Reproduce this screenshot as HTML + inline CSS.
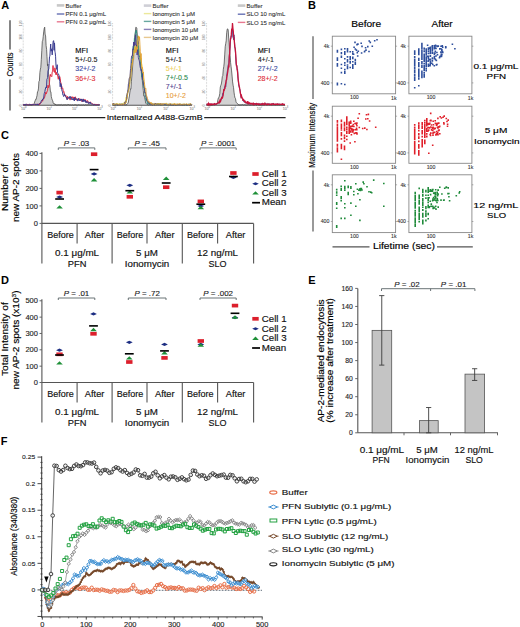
<!DOCTYPE html>
<html><head><meta charset="utf-8"><style>
html,body{margin:0;padding:0;background:#fff;}
body{width:520px;height:627px;overflow:hidden;}
svg{display:block;font-family:"Liberation Sans", sans-serif;}
</style></head><body>
<svg width="520" height="627" viewBox="0 0 520 627">
<rect width="520" height="627" fill="#fff"/>
<text x="1.30" y="9.20" font-size="11" font-weight="bold">A</text>
<line x1="10.00" y1="20.30" x2="10.00" y2="49.50" stroke="#222" stroke-width="1.1" />
<line x1="10.00" y1="79.50" x2="10.00" y2="110.60" stroke="#222" stroke-width="1.1" />
<text x="13.30" y="64.40" font-size="8.8" text-anchor="middle" transform="rotate(-90 13.30 64.40)" textLength="24.00" lengthAdjust="spacingAndGlyphs" stroke="#000" stroke-width="0.158">Counts</text>
<line x1="23.20" y1="117.60" x2="105.30" y2="117.60" stroke="#222" stroke-width="1.1" />
<line x1="204.20" y1="117.60" x2="285.60" y2="117.60" stroke="#222" stroke-width="1.1" />
<text x="154.65" y="120.10" font-size="7.6" text-anchor="middle" textLength="96.00" lengthAdjust="spacingAndGlyphs" stroke="#000" stroke-width="0.137">Internalized A488-GzmB</text>
<line x1="23.20" y1="105.20" x2="99.50" y2="105.20" stroke="#777" stroke-width="0.7" />
<line x1="23.20" y1="23.30" x2="23.20" y2="105.20" stroke="#999" stroke-width="0.6" stroke-dasharray="0.6 0.9"/>
<text x="21.90" y="105.20" font-size="3.4" text-anchor="middle" fill="#999" transform="rotate(-90 21.90 105.20)" stroke="#999" stroke-width="0.061">0</text>
<line x1="22.40" y1="105.20" x2="23.20" y2="105.20" stroke="#aaa" stroke-width="0.4" />
<text x="21.90" y="91.55" font-size="3.4" text-anchor="middle" fill="#999" transform="rotate(-90 21.90 91.55)" stroke="#999" stroke-width="0.061">20</text>
<line x1="22.40" y1="91.55" x2="23.20" y2="91.55" stroke="#aaa" stroke-width="0.4" />
<text x="21.90" y="77.90" font-size="3.4" text-anchor="middle" fill="#999" transform="rotate(-90 21.90 77.90)" stroke="#999" stroke-width="0.061">40</text>
<line x1="22.40" y1="77.90" x2="23.20" y2="77.90" stroke="#aaa" stroke-width="0.4" />
<text x="21.90" y="64.25" font-size="3.4" text-anchor="middle" fill="#999" transform="rotate(-90 21.90 64.25)" stroke="#999" stroke-width="0.061">60</text>
<line x1="22.40" y1="64.25" x2="23.20" y2="64.25" stroke="#aaa" stroke-width="0.4" />
<text x="21.90" y="50.60" font-size="3.4" text-anchor="middle" fill="#999" transform="rotate(-90 21.90 50.60)" stroke="#999" stroke-width="0.061">80</text>
<line x1="22.40" y1="50.60" x2="23.20" y2="50.60" stroke="#aaa" stroke-width="0.4" />
<text x="21.90" y="36.95" font-size="3.4" text-anchor="middle" fill="#999" transform="rotate(-90 21.90 36.95)" stroke="#999" stroke-width="0.061">100</text>
<line x1="22.40" y1="36.95" x2="23.20" y2="36.95" stroke="#aaa" stroke-width="0.4" />
<text x="21.90" y="23.30" font-size="3.4" text-anchor="middle" fill="#999" transform="rotate(-90 21.90 23.30)" stroke="#999" stroke-width="0.061">120</text>
<line x1="22.40" y1="23.30" x2="23.20" y2="23.30" stroke="#aaa" stroke-width="0.4" />
<text x="23.80" y="109.80" font-size="3.6" text-anchor="middle" fill="#888" stroke="#888" stroke-width="0.065">10<tspan font-size="2.6" dy="-1.4">0</tspan></text>
<line x1="23.20" y1="105.20" x2="23.20" y2="106.00" stroke="#aaa" stroke-width="0.4" />
<text x="49.23" y="109.80" font-size="3.6" text-anchor="middle" fill="#888" stroke="#888" stroke-width="0.065">10<tspan font-size="2.6" dy="-1.4">1</tspan></text>
<line x1="48.63" y1="105.20" x2="48.63" y2="106.00" stroke="#aaa" stroke-width="0.4" />
<text x="74.67" y="109.80" font-size="3.6" text-anchor="middle" fill="#888" stroke="#888" stroke-width="0.065">10<tspan font-size="2.6" dy="-1.4">2</tspan></text>
<line x1="74.07" y1="105.20" x2="74.07" y2="106.00" stroke="#aaa" stroke-width="0.4" />
<text x="100.10" y="109.80" font-size="3.6" text-anchor="middle" fill="#888" stroke="#888" stroke-width="0.065">10<tspan font-size="2.6" dy="-1.4">3</tspan></text>
<line x1="99.50" y1="105.20" x2="99.50" y2="106.00" stroke="#aaa" stroke-width="0.4" />
<path d="M23.2,104.9 L23.7,104.7 L24.2,105.0 L24.6,104.8 L25.1,104.9 L25.6,104.9 L26.1,104.6 L26.5,104.9 L27.0,104.9 L27.5,104.8 L28.0,104.7 L28.4,104.9 L28.9,104.8 L29.4,105.0 L29.9,105.0 L30.4,105.0 L30.8,105.1 L31.3,105.1 L31.8,105.1 L32.3,104.9 L32.7,104.6 L33.2,104.4 L33.7,104.1 L34.2,103.7 L34.6,102.1 L35.1,100.8 L35.6,99.4 L36.1,99.5 L36.6,97.2 L37.0,95.7 L37.5,91.7 L38.0,91.4 L38.5,88.1 L38.9,81.3 L39.4,80.9 L39.9,72.4 L40.4,69.1 L40.8,67.3 L41.3,59.5 L41.8,50.4 L42.3,41.5 L42.8,40.2 L43.2,36.7 L43.7,31.9 L44.2,28.6 L44.7,27.2 L45.1,34.1 L45.6,35.9 L46.1,45.6 L46.6,49.5 L47.0,56.6 L47.5,65.6 L48.0,64.3 L48.5,74.7 L49.0,77.4 L49.4,83.7 L49.9,85.9 L50.4,91.7 L50.9,91.8 L51.3,96.5 L51.8,98.6 L52.3,100.1 L52.8,100.9 L53.2,103.1 L53.7,103.7 L54.2,103.8 L54.7,103.7 L55.2,105.0 L55.6,104.4 L56.1,104.7 L56.6,104.9 L57.1,104.8 L57.5,104.9 L58.0,104.5 L58.5,104.8 L59.0,104.8 L59.4,104.8 L59.9,104.8 L60.4,104.8 L60.9,104.9 L61.3,104.5 L61.8,105.1 L62.3,105.2 L62.8,104.8 L63.3,104.8 L63.7,104.8 L64.2,104.8 L64.7,104.8 L65.2,104.8 L65.6,104.7 L66.1,104.9 L66.6,104.9 L67.1,104.5 L67.5,104.7 L68.0,105.0 L68.5,104.5 L69.0,104.7 L69.5,104.9 L69.9,105.0 L70.4,104.8 L70.9,105.0 L71.4,105.0 L71.8,105.0 L72.3,104.9 L72.8,104.7 L73.3,104.9 L73.7,105.1 L74.2,104.7 L74.7,104.8 L75.2,104.7 L75.7,104.7 L76.1,104.9 L76.6,104.9 L77.1,104.9 L77.6,105.0 L78.0,104.8 L78.5,104.7 L79.0,104.8 L79.5,104.9 L79.9,104.9 L80.4,105.0 L80.9,105.0 L81.4,104.9 L81.9,105.0 L82.3,104.9 L82.8,105.1 L83.3,104.8 L83.8,104.9 L84.2,105.0 L84.7,105.2 L85.2,104.9 L85.7,104.7 L86.1,105.0 L86.6,104.9 L87.1,105.0 L87.6,104.8 L88.1,105.0 L88.5,104.7 L89.0,104.9 L89.5,104.8 L90.0,104.9 L90.4,104.9 L90.9,105.1 L91.4,105.0 L91.9,104.9 L92.3,104.8 L92.8,104.9 L93.3,105.0 L93.8,104.8 L94.3,104.8 L94.7,104.9 L95.2,105.0 L95.7,104.9 L96.2,104.8 L96.6,104.8 L97.1,105.0 L97.6,104.8 L98.1,105.0 L98.5,105.0 L99.0,104.7 L99.5,104.8 L99.5,105.2 L23.2,105.2 Z" fill="#d2d2d2" stroke="#3a3a3a" stroke-width="0.7" />
<path d="M23.2,104.5 L23.6,105.1 L24.0,104.8 L24.3,104.6 L24.7,104.2 L25.1,104.6 L25.5,105.0 L25.9,104.5 L26.3,104.9 L26.6,104.3 L27.0,104.7 L27.4,104.1 L27.8,104.6 L28.2,104.9 L28.5,105.0 L28.9,104.7 L29.3,104.5 L29.7,104.3 L30.1,104.5 L30.4,104.8 L30.8,104.5 L31.2,105.0 L31.6,104.5 L32.0,104.8 L32.4,104.2 L32.7,104.3 L33.1,104.5 L33.5,104.9 L33.9,104.5 L34.3,104.5 L34.6,104.7 L35.0,104.8 L35.4,104.3 L35.8,104.7 L36.2,104.5 L36.6,104.2 L36.9,105.0 L37.3,104.1 L37.7,104.3 L38.1,104.8 L38.5,104.7 L38.8,104.7 L39.2,103.7 L39.6,104.9 L40.0,103.3 L40.4,103.3 L40.7,103.3 L41.1,102.8 L41.5,102.2 L41.9,101.5 L42.3,100.2 L42.7,101.1 L43.0,99.3 L43.4,98.8 L43.8,99.1 L44.2,97.4 L44.6,97.6 L44.9,96.0 L45.3,94.7 L45.7,92.4 L46.1,94.1 L46.5,93.4 L46.9,91.9 L47.2,90.9 L47.6,90.7 L48.0,85.2 L48.4,87.8 L48.8,87.0 L49.1,86.0 L49.5,82.1 L49.9,76.4 L50.3,74.3 L50.7,76.3 L51.0,76.5 L51.4,76.2 L51.8,76.7 L52.2,71.7 L52.6,71.6 L53.0,65.5 L53.3,69.1 L53.7,69.9 L54.1,72.0 L54.5,72.4 L54.9,67.8 L55.2,68.9 L55.6,72.9 L56.0,74.8 L56.4,72.3 L56.8,74.5 L57.2,73.9 L57.5,74.8 L57.9,76.9 L58.3,79.3 L58.7,76.4 L59.1,77.1 L59.4,77.3 L59.8,76.8 L60.2,78.3 L60.6,82.5 L61.0,82.6 L61.3,88.8 L61.7,86.1 L62.1,88.5 L62.5,87.9 L62.9,88.7 L63.3,92.2 L63.6,92.2 L64.0,91.7 L64.4,94.7 L64.8,94.8 L65.2,96.0 L65.5,94.9 L65.9,95.5 L66.3,97.1 L66.7,98.1 L67.1,99.2 L67.5,96.4 L67.8,98.0 L68.2,98.3 L68.6,98.2 L69.0,98.6 L69.4,97.1 L69.7,97.3 L70.1,100.1 L70.5,98.0 L70.9,98.0 L71.3,98.4 L71.7,98.1 L72.0,96.6 L72.4,97.9 L72.8,97.2 L73.2,97.4 L73.6,99.8 L73.9,96.9 L74.3,98.4 L74.7,98.9 L75.1,98.0 L75.5,96.8 L75.8,99.6 L76.2,99.5 L76.6,98.7 L77.0,100.6 L77.4,100.1 L77.8,99.1 L78.1,98.6 L78.5,98.8 L78.9,98.6 L79.3,98.5 L79.7,99.9 L80.0,99.9 L80.4,99.9 L80.8,100.0 L81.2,98.9 L81.6,99.3 L82.0,101.7 L82.3,99.8 L82.7,101.1 L83.1,101.2 L83.5,99.4 L83.9,99.5 L84.2,99.7 L84.6,100.1 L85.0,99.3 L85.4,101.6 L85.8,100.3 L86.1,101.5 L86.5,101.7 L86.9,102.5 L87.3,100.6 L87.7,100.6 L88.1,101.4 L88.4,102.5 L88.8,102.2 L89.2,103.1 L89.6,102.7 L90.0,101.8 L90.3,101.9 L90.7,102.6 L91.1,102.7 L91.5,103.3 L91.9,103.3 L92.3,103.7 L92.6,103.7 L93.0,104.3 L93.4,103.9 L93.8,104.4 L94.2,104.3 L94.5,104.5 L94.9,104.0 L95.3,104.2 L95.7,104.8 L96.1,104.8 L96.4,104.4 L96.8,104.6 L97.2,104.7 L97.6,104.6 L98.0,104.3 L98.4,104.8 L98.7,104.5 L99.1,104.9 L99.5,104.8" fill="none" stroke="#e02a40" stroke-width="1.0" />
<path d="M23.2,104.9 L23.6,104.9 L24.0,104.4 L24.3,105.2 L24.7,104.6 L25.1,105.2 L25.5,104.3 L25.9,104.5 L26.3,104.2 L26.6,104.7 L27.0,104.5 L27.4,104.7 L27.8,104.8 L28.2,104.6 L28.5,104.9 L28.9,104.7 L29.3,104.4 L29.7,104.6 L30.1,104.7 L30.4,104.0 L30.8,104.6 L31.2,104.8 L31.6,104.6 L32.0,104.7 L32.4,104.7 L32.7,104.7 L33.1,104.1 L33.5,104.6 L33.9,104.6 L34.3,104.4 L34.6,104.1 L35.0,104.7 L35.4,104.8 L35.8,103.9 L36.2,105.0 L36.6,104.7 L36.9,104.4 L37.3,104.0 L37.7,104.9 L38.1,105.2 L38.5,104.2 L38.8,104.4 L39.2,104.2 L39.6,103.6 L40.0,103.6 L40.4,103.2 L40.7,103.0 L41.1,101.3 L41.5,100.4 L41.9,100.7 L42.3,100.4 L42.7,98.9 L43.0,98.7 L43.4,99.0 L43.8,97.0 L44.2,93.6 L44.6,93.0 L44.9,91.4 L45.3,89.0 L45.7,88.0 L46.1,86.9 L46.5,87.9 L46.9,79.3 L47.2,78.8 L47.6,77.7 L48.0,71.1 L48.4,70.0 L48.8,68.9 L49.1,63.7 L49.5,56.8 L49.9,56.1 L50.3,49.1 L50.7,44.0 L51.0,51.2 L51.4,51.0 L51.8,48.8 L52.2,54.9 L52.6,49.2 L53.0,42.5 L53.3,40.8 L53.7,40.7 L54.1,50.3 L54.5,42.9 L54.9,51.1 L55.2,52.7 L55.6,56.8 L56.0,65.8 L56.4,68.2 L56.8,69.4 L57.2,64.7 L57.5,72.8 L57.9,73.4 L58.3,74.5 L58.7,74.3 L59.1,76.0 L59.4,77.6 L59.8,81.6 L60.2,86.8 L60.6,83.3 L61.0,84.7 L61.3,84.6 L61.7,88.7 L62.1,91.5 L62.5,91.7 L62.9,95.0 L63.3,95.5 L63.6,96.5 L64.0,95.5 L64.4,93.8 L64.8,95.6 L65.2,95.5 L65.5,96.7 L65.9,96.9 L66.3,97.7 L66.7,97.6 L67.1,99.8 L67.5,98.7 L67.8,98.9 L68.2,97.0 L68.6,97.3 L69.0,96.9 L69.4,96.6 L69.7,98.4 L70.1,97.2 L70.5,96.5 L70.9,98.3 L71.3,97.4 L71.7,98.6 L72.0,100.0 L72.4,98.6 L72.8,99.5 L73.2,98.8 L73.6,99.4 L73.9,98.8 L74.3,101.0 L74.7,97.4 L75.1,98.0 L75.5,99.5 L75.8,100.0 L76.2,99.3 L76.6,98.8 L77.0,99.0 L77.4,99.1 L77.8,101.1 L78.1,100.5 L78.5,98.5 L78.9,99.4 L79.3,100.9 L79.7,100.4 L80.0,100.9 L80.4,100.6 L80.8,98.9 L81.2,100.2 L81.6,99.2 L82.0,100.1 L82.3,101.6 L82.7,101.0 L83.1,98.9 L83.5,101.4 L83.9,101.7 L84.2,100.1 L84.6,101.1 L85.0,101.2 L85.4,100.3 L85.8,102.6 L86.1,101.3 L86.5,102.4 L86.9,102.8 L87.3,102.6 L87.7,101.6 L88.1,102.6 L88.4,103.7 L88.8,103.4 L89.2,102.2 L89.6,102.6 L90.0,103.7 L90.3,102.1 L90.7,103.6 L91.1,104.2 L91.5,103.9 L91.9,103.8 L92.3,103.8 L92.6,104.2 L93.0,104.7 L93.4,104.8 L93.8,105.0 L94.2,104.6 L94.5,104.8 L94.9,104.6 L95.3,105.0 L95.7,104.8 L96.1,104.9 L96.4,105.0 L96.8,105.0 L97.2,105.0 L97.6,105.0 L98.0,104.6 L98.4,104.8 L98.7,105.1 L99.1,104.7 L99.5,104.7" fill="none" stroke="#3a3c90" stroke-width="1.0" />
<rect x="56.80" y="4.10" width="7.50" height="2.60" fill="#c8c8c8" stroke="none" stroke-width="1" />
<text x="65.60" y="7.50" font-size="5.3" fill="#333" textLength="15.87" lengthAdjust="spacingAndGlyphs" stroke="#333" stroke-width="0.095">Buffer</text>
<line x1="56.80" y1="14.00" x2="64.30" y2="14.00" stroke="#6670b4" stroke-width="1.4" />
<text x="65.60" y="16.10" font-size="5.3" fill="#333" textLength="40.39" lengthAdjust="spacingAndGlyphs" stroke="#333" stroke-width="0.095">PFN 0.1 μg/mL</text>
<line x1="56.80" y1="21.80" x2="64.30" y2="21.80" stroke="#e87890" stroke-width="1.4" />
<text x="65.60" y="23.90" font-size="5.3" fill="#333" textLength="40.39" lengthAdjust="spacingAndGlyphs" stroke="#333" stroke-width="0.095">PFN 0.2 μg/mL</text>
<text x="75.30" y="52.60" font-size="6.8" textLength="12.64" lengthAdjust="spacingAndGlyphs" stroke="#000" stroke-width="0.122">MFI</text>
<text x="75.30" y="62.00" font-size="6.5" fill="#222" textLength="22.05" lengthAdjust="spacingAndGlyphs" stroke="#222" stroke-width="0.117">5+/-0.5</text>
<text x="75.30" y="71.40" font-size="6.5" fill="#3a4aa0" textLength="20.10" lengthAdjust="spacingAndGlyphs" stroke="#3a4aa0" stroke-width="0.117">32+/-2</text>
<text x="75.30" y="80.80" font-size="6.5" fill="#e0303a" textLength="20.10" lengthAdjust="spacingAndGlyphs" stroke="#e0303a" stroke-width="0.117">36+/-3</text>
<line x1="112.60" y1="105.20" x2="191.70" y2="105.20" stroke="#777" stroke-width="0.7" />
<line x1="112.60" y1="23.50" x2="112.60" y2="105.20" stroke="#999" stroke-width="0.6" stroke-dasharray="0.6 0.9"/>
<text x="111.30" y="105.20" font-size="3.4" text-anchor="middle" fill="#999" transform="rotate(-90 111.30 105.20)" stroke="#999" stroke-width="0.061">0</text>
<line x1="111.80" y1="105.20" x2="112.60" y2="105.20" stroke="#aaa" stroke-width="0.4" />
<text x="111.30" y="91.58" font-size="3.4" text-anchor="middle" fill="#999" transform="rotate(-90 111.30 91.58)" stroke="#999" stroke-width="0.061">20</text>
<line x1="111.80" y1="91.58" x2="112.60" y2="91.58" stroke="#aaa" stroke-width="0.4" />
<text x="111.30" y="77.97" font-size="3.4" text-anchor="middle" fill="#999" transform="rotate(-90 111.30 77.97)" stroke="#999" stroke-width="0.061">40</text>
<line x1="111.80" y1="77.97" x2="112.60" y2="77.97" stroke="#aaa" stroke-width="0.4" />
<text x="111.30" y="64.35" font-size="3.4" text-anchor="middle" fill="#999" transform="rotate(-90 111.30 64.35)" stroke="#999" stroke-width="0.061">60</text>
<line x1="111.80" y1="64.35" x2="112.60" y2="64.35" stroke="#aaa" stroke-width="0.4" />
<text x="111.30" y="50.73" font-size="3.4" text-anchor="middle" fill="#999" transform="rotate(-90 111.30 50.73)" stroke="#999" stroke-width="0.061">80</text>
<line x1="111.80" y1="50.73" x2="112.60" y2="50.73" stroke="#aaa" stroke-width="0.4" />
<text x="111.30" y="37.12" font-size="3.4" text-anchor="middle" fill="#999" transform="rotate(-90 111.30 37.12)" stroke="#999" stroke-width="0.061">100</text>
<line x1="111.80" y1="37.12" x2="112.60" y2="37.12" stroke="#aaa" stroke-width="0.4" />
<text x="111.30" y="23.50" font-size="3.4" text-anchor="middle" fill="#999" transform="rotate(-90 111.30 23.50)" stroke="#999" stroke-width="0.061">120</text>
<line x1="111.80" y1="23.50" x2="112.60" y2="23.50" stroke="#aaa" stroke-width="0.4" />
<text x="113.20" y="109.80" font-size="3.6" text-anchor="middle" fill="#888" stroke="#888" stroke-width="0.065">10<tspan font-size="2.6" dy="-1.4">0</tspan></text>
<line x1="112.60" y1="105.20" x2="112.60" y2="106.00" stroke="#aaa" stroke-width="0.4" />
<text x="139.57" y="109.80" font-size="3.6" text-anchor="middle" fill="#888" stroke="#888" stroke-width="0.065">10<tspan font-size="2.6" dy="-1.4">1</tspan></text>
<line x1="138.97" y1="105.20" x2="138.97" y2="106.00" stroke="#aaa" stroke-width="0.4" />
<text x="165.93" y="109.80" font-size="3.6" text-anchor="middle" fill="#888" stroke="#888" stroke-width="0.065">10<tspan font-size="2.6" dy="-1.4">2</tspan></text>
<line x1="165.33" y1="105.20" x2="165.33" y2="106.00" stroke="#aaa" stroke-width="0.4" />
<text x="192.30" y="109.80" font-size="3.6" text-anchor="middle" fill="#888" stroke="#888" stroke-width="0.065">10<tspan font-size="2.6" dy="-1.4">3</tspan></text>
<line x1="191.70" y1="105.20" x2="191.70" y2="106.00" stroke="#aaa" stroke-width="0.4" />
<path d="M112.6,104.9 L113.1,104.7 L113.6,105.0 L114.1,105.1 L114.6,104.9 L115.1,104.8 L115.6,104.8 L116.1,104.8 L116.6,104.9 L117.0,105.0 L117.5,105.0 L118.0,104.9 L118.5,104.9 L119.0,104.8 L119.5,104.8 L120.0,105.1 L120.5,104.8 L121.0,104.9 L121.5,104.7 L122.0,104.7 L122.5,104.8 L123.0,105.1 L123.5,104.8 L124.0,105.1 L124.5,104.7 L125.0,105.0 L125.5,104.9 L125.9,104.6 L126.4,104.9 L126.9,104.1 L127.4,103.9 L127.9,103.4 L128.4,102.0 L128.9,98.5 L129.4,96.0 L129.9,92.1 L130.4,88.9 L130.9,89.2 L131.4,81.5 L131.9,75.9 L132.4,70.0 L132.9,62.2 L133.4,55.1 L133.9,47.8 L134.4,43.5 L134.8,35.9 L135.3,32.7 L135.8,27.3 L136.3,27.4 L136.8,28.2 L137.3,36.0 L137.8,38.6 L138.3,40.7 L138.8,46.7 L139.3,54.1 L139.8,57.7 L140.3,61.6 L140.8,66.1 L141.3,71.7 L141.8,77.8 L142.3,80.4 L142.8,85.8 L143.3,90.5 L143.7,95.8 L144.2,95.4 L144.7,97.8 L145.2,100.0 L145.7,103.2 L146.2,103.4 L146.7,103.9 L147.2,104.6 L147.7,104.4 L148.2,104.6 L148.7,105.0 L149.2,104.7 L149.7,104.5 L150.2,105.0 L150.7,104.6 L151.2,104.5 L151.7,104.5 L152.1,105.0 L152.6,105.0 L153.1,104.8 L153.6,104.6 L154.1,105.0 L154.6,104.9 L155.1,105.0 L155.6,104.6 L156.1,104.9 L156.6,104.7 L157.1,104.7 L157.6,104.6 L158.1,104.7 L158.6,104.7 L159.1,104.6 L159.6,104.7 L160.1,105.0 L160.6,104.9 L161.0,104.7 L161.5,104.8 L162.0,104.9 L162.5,104.8 L163.0,104.3 L163.5,104.8 L164.0,104.7 L164.5,104.7 L165.0,104.9 L165.5,104.6 L166.0,104.7 L166.5,104.8 L167.0,105.0 L167.5,104.6 L168.0,104.7 L168.5,104.8 L169.0,105.2 L169.5,104.8 L169.9,105.0 L170.4,104.9 L170.9,104.9 L171.4,105.0 L171.9,104.7 L172.4,104.8 L172.9,104.7 L173.4,105.0 L173.9,104.9 L174.4,104.6 L174.9,104.8 L175.4,105.0 L175.9,105.0 L176.4,104.9 L176.9,104.9 L177.4,104.8 L177.9,104.8 L178.4,104.7 L178.8,104.7 L179.3,104.8 L179.8,104.7 L180.3,104.8 L180.8,104.9 L181.3,104.9 L181.8,104.9 L182.3,105.0 L182.8,105.1 L183.3,104.9 L183.8,104.9 L184.3,104.8 L184.8,105.0 L185.3,104.9 L185.8,104.8 L186.3,104.9 L186.8,104.9 L187.3,105.0 L187.7,104.9 L188.2,104.8 L188.7,104.8 L189.2,104.9 L189.7,105.0 L190.2,104.8 L190.7,104.6 L191.2,105.2 L191.7,104.7 L191.7,105.2 L112.6,105.2 Z" fill="#d4d4d8" stroke="#3a3a3a" stroke-width="0.7" />
<path d="M112.6,103.8 L113.0,104.5 L113.4,104.1 L113.8,104.9 L114.2,104.2 L114.6,103.7 L115.0,103.6 L115.4,104.6 L115.8,104.3 L116.2,104.2 L116.6,105.1 L117.0,103.5 L117.3,103.8 L117.7,103.9 L118.1,103.7 L118.5,104.2 L118.9,104.0 L119.3,103.7 L119.7,103.8 L120.1,104.2 L120.5,104.5 L120.9,103.8 L121.3,103.9 L121.7,104.4 L122.1,103.6 L122.5,103.8 L122.9,103.8 L123.3,103.8 L123.7,103.2 L124.1,102.3 L124.5,102.8 L124.9,101.4 L125.3,101.4 L125.7,100.0 L126.0,97.4 L126.4,96.7 L126.8,94.7 L127.2,94.2 L127.6,92.1 L128.0,90.9 L128.4,89.8 L128.8,87.2 L129.2,81.3 L129.6,77.3 L130.0,77.4 L130.4,73.8 L130.8,68.4 L131.2,65.8 L131.6,67.4 L132.0,62.3 L132.4,54.7 L132.8,49.5 L133.2,50.4 L133.6,54.8 L134.0,46.9 L134.4,48.9 L134.7,48.0 L135.1,44.9 L135.5,47.7 L135.9,46.9 L136.3,52.3 L136.7,40.6 L137.1,42.8 L137.5,44.4 L137.9,44.4 L138.3,46.6 L138.7,49.6 L139.1,51.4 L139.5,52.4 L139.9,60.5 L140.3,61.3 L140.7,60.6 L141.1,58.3 L141.5,62.7 L141.9,65.3 L142.3,68.9 L142.7,73.8 L143.1,74.8 L143.4,78.0 L143.8,82.4 L144.2,85.6 L144.6,88.4 L145.0,91.9 L145.4,93.6 L145.8,94.4 L146.2,96.8 L146.6,98.7 L147.0,99.3 L147.4,100.5 L147.8,101.3 L148.2,102.4 L148.6,103.3 L149.0,102.9 L149.4,102.9 L149.8,103.0 L150.2,103.0 L150.6,103.6 L151.0,103.2 L151.4,103.4 L151.8,103.3 L152.1,103.8 L152.5,103.2 L152.9,103.3 L153.3,104.2 L153.7,103.9 L154.1,103.9 L154.5,103.8 L154.9,103.5 L155.3,104.6 L155.7,103.6 L156.1,103.7 L156.5,104.2 L156.9,104.2 L157.3,103.8 L157.7,104.1 L158.1,104.2 L158.5,104.2 L158.9,103.3 L159.3,104.7 L159.7,103.3 L160.1,104.6 L160.5,103.6 L160.9,104.2 L161.2,104.0 L161.6,104.3 L162.0,104.2 L162.4,103.6 L162.8,104.4 L163.2,104.9 L163.6,104.2 L164.0,105.0 L164.4,104.4 L164.8,104.1 L165.2,104.3 L165.6,104.3 L166.0,103.4 L166.4,103.3 L166.8,103.5 L167.2,103.5 L167.6,104.0 L168.0,104.4 L168.4,104.4 L168.8,104.5 L169.2,104.4 L169.6,104.3 L169.9,103.9 L170.3,103.7 L170.7,104.0 L171.1,103.9 L171.5,104.4 L171.9,104.0 L172.3,104.5 L172.7,104.2 L173.1,103.6 L173.5,104.1 L173.9,104.3 L174.3,104.0 L174.7,104.4 L175.1,104.2 L175.5,104.5 L175.9,103.9 L176.3,104.3 L176.7,104.2 L177.1,104.1 L177.5,104.2 L177.9,104.2 L178.3,104.2 L178.6,104.3 L179.0,104.1 L179.4,104.1 L179.8,103.9 L180.2,103.9 L180.6,103.8 L181.0,104.3 L181.4,104.4 L181.8,104.2 L182.2,104.3 L182.6,103.9 L183.0,104.3 L183.4,104.0 L183.8,104.6 L184.2,104.1 L184.6,104.4 L185.0,104.6 L185.4,104.8 L185.8,104.7 L186.2,104.5 L186.6,103.8 L187.0,104.0 L187.3,104.2 L187.7,104.5 L188.1,104.2 L188.5,104.7 L188.9,104.9 L189.3,104.7 L189.7,104.4 L190.1,103.6 L190.5,104.9 L190.9,104.7 L191.3,104.7 L191.7,104.7" fill="none" stroke="#e8d040" stroke-width="0.9" />
<path d="M112.6,104.2 L113.0,104.0 L113.4,104.6 L113.8,104.7 L114.2,104.3 L114.6,103.9 L115.0,104.3 L115.4,104.8 L115.8,104.6 L116.2,104.4 L116.6,104.1 L117.0,104.4 L117.3,104.5 L117.7,104.5 L118.1,104.3 L118.5,104.6 L118.9,104.4 L119.3,104.3 L119.7,103.9 L120.1,104.4 L120.5,104.1 L120.9,104.7 L121.3,104.1 L121.7,104.3 L122.1,104.6 L122.5,104.4 L122.9,104.1 L123.3,104.5 L123.7,104.1 L124.1,103.9 L124.5,103.4 L124.9,102.7 L125.3,103.6 L125.7,102.3 L126.0,102.5 L126.4,99.9 L126.8,98.6 L127.2,96.1 L127.6,93.3 L128.0,92.2 L128.4,89.2 L128.8,88.7 L129.2,82.9 L129.6,83.9 L130.0,79.4 L130.4,78.6 L130.8,73.9 L131.2,68.8 L131.6,61.8 L132.0,59.5 L132.4,58.1 L132.8,56.8 L133.2,46.4 L133.6,49.4 L134.0,45.1 L134.4,38.5 L134.7,41.1 L135.1,35.7 L135.5,31.5 L135.9,32.5 L136.3,30.0 L136.7,33.6 L137.1,38.8 L137.5,48.0 L137.9,45.3 L138.3,46.0 L138.7,54.6 L139.1,55.7 L139.5,56.6 L139.9,56.0 L140.3,65.1 L140.7,66.6 L141.1,68.6 L141.5,71.1 L141.9,77.2 L142.3,72.9 L142.7,80.6 L143.1,80.8 L143.4,86.2 L143.8,87.9 L144.2,87.7 L144.6,91.0 L145.0,94.2 L145.4,97.7 L145.8,99.2 L146.2,100.6 L146.6,98.7 L147.0,102.3 L147.4,103.7 L147.8,102.1 L148.2,102.6 L148.6,103.5 L149.0,103.0 L149.4,103.9 L149.8,103.9 L150.2,103.6 L150.6,103.8 L151.0,104.3 L151.4,103.7 L151.8,104.1 L152.1,104.3 L152.5,104.8 L152.9,104.3 L153.3,104.5 L153.7,104.4 L154.1,104.1 L154.5,104.6 L154.9,104.3 L155.3,104.2 L155.7,104.3 L156.1,103.7 L156.5,104.9 L156.9,104.4 L157.3,104.8 L157.7,104.4 L158.1,103.6 L158.5,104.9 L158.9,104.5 L159.3,104.2 L159.7,104.4 L160.1,104.1 L160.5,104.9 L160.9,104.1 L161.2,104.7 L161.6,104.8 L162.0,104.3 L162.4,104.3 L162.8,104.7 L163.2,104.7 L163.6,104.5 L164.0,104.4 L164.4,104.5 L164.8,104.8 L165.2,105.1 L165.6,104.1 L166.0,104.4 L166.4,104.8 L166.8,104.9 L167.2,104.7 L167.6,104.6 L168.0,105.1 L168.4,104.1 L168.8,104.4 L169.2,104.6 L169.6,104.4 L169.9,104.4 L170.3,104.2 L170.7,104.4 L171.1,104.1 L171.5,104.0 L171.9,104.6 L172.3,104.6 L172.7,104.8 L173.1,104.6 L173.5,104.7 L173.9,104.5 L174.3,104.4 L174.7,104.4 L175.1,104.8 L175.5,104.2 L175.9,104.6 L176.3,104.6 L176.7,104.7 L177.1,105.1 L177.5,104.5 L177.9,105.0 L178.3,104.2 L178.6,104.5 L179.0,104.1 L179.4,104.4 L179.8,104.4 L180.2,104.2 L180.6,104.6 L181.0,104.1 L181.4,104.6 L181.8,104.5 L182.2,104.7 L182.6,104.4 L183.0,104.4 L183.4,104.7 L183.8,104.9 L184.2,104.6 L184.6,104.5 L185.0,104.6 L185.4,104.8 L185.8,104.8 L186.2,104.7 L186.6,105.2 L187.0,104.7 L187.3,104.2 L187.7,104.9 L188.1,104.6 L188.5,104.1 L188.9,104.4 L189.3,104.3 L189.7,104.6 L190.1,105.0 L190.5,103.8 L190.9,104.5 L191.3,104.5 L191.7,104.2" fill="none" stroke="#2e8a7e" stroke-width="0.9" />
<path d="M112.6,104.2 L113.0,104.4 L113.4,103.3 L113.8,104.2 L114.2,104.3 L114.6,104.3 L115.0,104.6 L115.4,104.6 L115.8,104.2 L116.2,104.5 L116.6,104.1 L117.0,104.5 L117.3,105.0 L117.7,104.8 L118.1,104.7 L118.5,105.1 L118.9,104.4 L119.3,104.5 L119.7,104.1 L120.1,104.7 L120.5,104.5 L120.9,104.2 L121.3,104.2 L121.7,104.7 L122.1,103.9 L122.5,104.6 L122.9,104.0 L123.3,104.5 L123.7,104.5 L124.1,104.8 L124.5,104.0 L124.9,102.3 L125.3,103.3 L125.7,101.6 L126.0,101.2 L126.4,100.6 L126.8,96.6 L127.2,93.2 L127.6,92.1 L128.0,89.4 L128.4,84.2 L128.8,83.3 L129.2,78.3 L129.6,78.1 L130.0,77.2 L130.4,70.5 L130.8,68.5 L131.2,59.7 L131.6,56.1 L132.0,56.4 L132.4,56.0 L132.8,48.8 L133.2,49.5 L133.6,42.1 L134.0,46.0 L134.4,42.1 L134.7,43.1 L135.1,45.1 L135.5,34.8 L135.9,38.3 L136.3,46.4 L136.7,44.9 L137.1,55.0 L137.5,49.5 L137.9,52.1 L138.3,57.2 L138.7,59.3 L139.1,60.2 L139.5,62.0 L139.9,65.7 L140.3,67.9 L140.7,68.2 L141.1,70.5 L141.5,69.8 L141.9,72.7 L142.3,73.8 L142.7,79.9 L143.1,80.3 L143.4,83.1 L143.8,85.5 L144.2,86.3 L144.6,88.7 L145.0,93.0 L145.4,92.3 L145.8,94.5 L146.2,97.2 L146.6,97.2 L147.0,100.1 L147.4,101.6 L147.8,101.9 L148.2,101.3 L148.6,102.5 L149.0,103.5 L149.4,102.7 L149.8,103.4 L150.2,103.7 L150.6,103.4 L151.0,104.5 L151.4,104.7 L151.8,104.7 L152.1,103.8 L152.5,104.2 L152.9,104.4 L153.3,104.4 L153.7,104.0 L154.1,103.7 L154.5,104.5 L154.9,104.1 L155.3,103.3 L155.7,104.0 L156.1,104.3 L156.5,104.1 L156.9,104.2 L157.3,104.0 L157.7,104.1 L158.1,104.4 L158.5,104.3 L158.9,104.1 L159.3,104.5 L159.7,104.2 L160.1,104.6 L160.5,103.8 L160.9,103.7 L161.2,104.6 L161.6,104.0 L162.0,104.2 L162.4,104.2 L162.8,104.4 L163.2,104.2 L163.6,103.9 L164.0,104.7 L164.4,103.9 L164.8,104.4 L165.2,104.7 L165.6,104.3 L166.0,104.1 L166.4,104.3 L166.8,104.2 L167.2,104.4 L167.6,104.5 L168.0,104.0 L168.4,104.7 L168.8,104.0 L169.2,104.2 L169.6,104.4 L169.9,104.4 L170.3,104.5 L170.7,104.4 L171.1,104.4 L171.5,104.4 L171.9,105.0 L172.3,105.1 L172.7,104.3 L173.1,104.6 L173.5,104.6 L173.9,104.5 L174.3,104.8 L174.7,103.9 L175.1,104.4 L175.5,104.5 L175.9,104.8 L176.3,104.2 L176.7,104.2 L177.1,104.0 L177.5,104.2 L177.9,104.7 L178.3,104.9 L178.6,104.1 L179.0,104.7 L179.4,104.5 L179.8,104.5 L180.2,104.3 L180.6,104.3 L181.0,104.8 L181.4,104.7 L181.8,105.0 L182.2,104.3 L182.6,104.6 L183.0,105.0 L183.4,104.2 L183.8,104.5 L184.2,104.8 L184.6,104.7 L185.0,104.7 L185.4,104.5 L185.8,104.5 L186.2,104.7 L186.6,104.4 L187.0,105.2 L187.3,104.7 L187.7,104.4 L188.1,104.3 L188.5,104.3 L188.9,104.9 L189.3,105.1 L189.7,104.7 L190.1,103.9 L190.5,104.5 L190.9,104.8 L191.3,105.1 L191.7,104.5" fill="none" stroke="#4a3a8a" stroke-width="0.9" />
<path d="M112.6,103.4 L113.0,104.6 L113.4,104.1 L113.8,104.3 L114.2,104.5 L114.6,104.4 L115.0,104.4 L115.4,104.2 L115.8,104.1 L116.2,103.8 L116.6,104.1 L117.0,103.8 L117.3,104.1 L117.7,104.2 L118.1,104.3 L118.5,104.6 L118.9,104.8 L119.3,104.2 L119.7,104.3 L120.1,104.1 L120.5,104.1 L120.9,104.7 L121.3,104.5 L121.7,104.6 L122.1,103.9 L122.5,104.3 L122.9,104.2 L123.3,104.5 L123.7,104.7 L124.1,104.4 L124.5,103.9 L124.9,103.2 L125.3,103.7 L125.7,102.3 L126.0,102.7 L126.4,101.3 L126.8,99.5 L127.2,97.6 L127.6,94.6 L128.0,92.0 L128.4,90.7 L128.8,90.5 L129.2,87.7 L129.6,85.0 L130.0,80.8 L130.4,77.9 L130.8,77.5 L131.2,72.3 L131.6,68.5 L132.0,63.4 L132.4,64.3 L132.8,59.9 L133.2,58.9 L133.6,59.8 L134.0,54.3 L134.4,50.7 L134.7,49.2 L135.1,53.0 L135.5,47.3 L135.9,48.9 L136.3,51.8 L136.7,46.5 L137.1,49.4 L137.5,46.8 L137.9,39.1 L138.3,35.8 L138.7,39.2 L139.1,40.4 L139.5,36.7 L139.9,44.2 L140.3,51.8 L140.7,59.4 L141.1,53.5 L141.5,63.7 L141.9,68.5 L142.3,67.4 L142.7,69.2 L143.1,73.3 L143.4,72.1 L143.8,77.9 L144.2,81.3 L144.6,84.5 L145.0,88.2 L145.4,88.7 L145.8,88.1 L146.2,94.7 L146.6,95.6 L147.0,96.8 L147.4,98.5 L147.8,99.2 L148.2,101.7 L148.6,101.8 L149.0,102.2 L149.4,101.7 L149.8,102.0 L150.2,103.0 L150.6,103.5 L151.0,102.2 L151.4,102.9 L151.8,104.4 L152.1,103.9 L152.5,104.3 L152.9,104.2 L153.3,104.7 L153.7,104.2 L154.1,104.2 L154.5,104.1 L154.9,103.6 L155.3,103.9 L155.7,104.5 L156.1,104.7 L156.5,104.2 L156.9,103.6 L157.3,103.7 L157.7,104.3 L158.1,103.6 L158.5,103.9 L158.9,104.3 L159.3,103.9 L159.7,104.1 L160.1,104.5 L160.5,104.2 L160.9,104.0 L161.2,103.6 L161.6,104.5 L162.0,104.0 L162.4,104.1 L162.8,104.1 L163.2,104.6 L163.6,103.6 L164.0,103.6 L164.4,103.5 L164.8,103.9 L165.2,103.6 L165.6,103.9 L166.0,103.8 L166.4,104.3 L166.8,104.1 L167.2,104.3 L167.6,104.5 L168.0,104.3 L168.4,104.6 L168.8,104.6 L169.2,104.3 L169.6,104.4 L169.9,103.4 L170.3,103.6 L170.7,103.8 L171.1,103.9 L171.5,104.5 L171.9,104.1 L172.3,104.7 L172.7,104.4 L173.1,104.4 L173.5,104.4 L173.9,103.9 L174.3,104.5 L174.7,103.4 L175.1,104.4 L175.5,104.0 L175.9,104.8 L176.3,104.0 L176.7,104.7 L177.1,104.2 L177.5,104.3 L177.9,104.0 L178.3,104.1 L178.6,104.2 L179.0,104.3 L179.4,103.6 L179.8,104.5 L180.2,104.3 L180.6,104.5 L181.0,104.3 L181.4,104.6 L181.8,104.5 L182.2,104.2 L182.6,104.5 L183.0,104.2 L183.4,104.5 L183.8,103.9 L184.2,104.4 L184.6,103.8 L185.0,104.2 L185.4,104.4 L185.8,104.1 L186.2,104.0 L186.6,103.9 L187.0,103.9 L187.3,104.1 L187.7,104.8 L188.1,104.1 L188.5,104.4 L188.9,104.3 L189.3,104.0 L189.7,104.6 L190.1,104.0 L190.5,103.6 L190.9,104.2 L191.3,104.5 L191.7,104.0" fill="none" stroke="#e0a030" stroke-width="0.9" />
<rect x="143.80" y="4.30" width="7.50" height="2.60" fill="#cfcfd6" stroke="none" stroke-width="1" />
<text x="152.60" y="7.70" font-size="5.3" fill="#333" textLength="15.87" lengthAdjust="spacingAndGlyphs" stroke="#333" stroke-width="0.095">Buffer</text>
<line x1="143.80" y1="13.60" x2="151.30" y2="13.60" stroke="#ece89a" stroke-width="1.4" />
<text x="152.60" y="15.70" font-size="5.3" fill="#333" textLength="42.39" lengthAdjust="spacingAndGlyphs" stroke="#333" stroke-width="0.095">Ionomycin 1 μM</text>
<line x1="143.80" y1="21.40" x2="151.30" y2="21.40" stroke="#68a8a0" stroke-width="1.4" />
<text x="152.60" y="23.50" font-size="5.3" fill="#333" textLength="42.39" lengthAdjust="spacingAndGlyphs" stroke="#333" stroke-width="0.095">Ionomycin 5 μM</text>
<line x1="143.80" y1="29.40" x2="151.30" y2="29.40" stroke="#8a80b8" stroke-width="1.4" />
<text x="152.60" y="31.50" font-size="5.3" fill="#333" textLength="45.72" lengthAdjust="spacingAndGlyphs" stroke="#333" stroke-width="0.095">Ionomycin 10 μM</text>
<line x1="143.80" y1="37.40" x2="151.30" y2="37.40" stroke="#e8c890" stroke-width="1.4" />
<text x="152.60" y="39.50" font-size="5.3" fill="#333" textLength="45.72" lengthAdjust="spacingAndGlyphs" stroke="#333" stroke-width="0.095">Ionomycin 20 μM</text>
<text x="165.80" y="52.80" font-size="6.8" textLength="12.64" lengthAdjust="spacingAndGlyphs" stroke="#000" stroke-width="0.122">MFI</text>
<text x="165.80" y="62.20" font-size="6.5" fill="#222" textLength="16.20" lengthAdjust="spacingAndGlyphs" stroke="#222" stroke-width="0.117">5+/-1</text>
<text x="165.80" y="71.20" font-size="6.5" fill="#f0d060" textLength="16.20" lengthAdjust="spacingAndGlyphs" stroke="#f0d060" stroke-width="0.117">5+/-1</text>
<text x="165.80" y="80.20" font-size="6.5" fill="#2e8a4e" textLength="22.05" lengthAdjust="spacingAndGlyphs" stroke="#2e8a4e" stroke-width="0.117">7+/-0.5</text>
<text x="165.80" y="89.10" font-size="6.5" fill="#52408e" textLength="16.20" lengthAdjust="spacingAndGlyphs" stroke="#52408e" stroke-width="0.117">7+/-1</text>
<text x="165.80" y="98.40" font-size="6.5" fill="#e8a040" textLength="20.10" lengthAdjust="spacingAndGlyphs" stroke="#e8a040" stroke-width="0.117">10+/-2</text>
<line x1="206.60" y1="105.20" x2="285.00" y2="105.20" stroke="#777" stroke-width="0.7" />
<line x1="206.60" y1="23.50" x2="206.60" y2="105.20" stroke="#999" stroke-width="0.6" stroke-dasharray="0.6 0.9"/>
<text x="205.30" y="105.20" font-size="3.4" text-anchor="middle" fill="#999" transform="rotate(-90 205.30 105.20)" stroke="#999" stroke-width="0.061">0</text>
<line x1="205.80" y1="105.20" x2="206.60" y2="105.20" stroke="#aaa" stroke-width="0.4" />
<text x="205.30" y="91.58" font-size="3.4" text-anchor="middle" fill="#999" transform="rotate(-90 205.30 91.58)" stroke="#999" stroke-width="0.061">20</text>
<line x1="205.80" y1="91.58" x2="206.60" y2="91.58" stroke="#aaa" stroke-width="0.4" />
<text x="205.30" y="77.97" font-size="3.4" text-anchor="middle" fill="#999" transform="rotate(-90 205.30 77.97)" stroke="#999" stroke-width="0.061">40</text>
<line x1="205.80" y1="77.97" x2="206.60" y2="77.97" stroke="#aaa" stroke-width="0.4" />
<text x="205.30" y="64.35" font-size="3.4" text-anchor="middle" fill="#999" transform="rotate(-90 205.30 64.35)" stroke="#999" stroke-width="0.061">60</text>
<line x1="205.80" y1="64.35" x2="206.60" y2="64.35" stroke="#aaa" stroke-width="0.4" />
<text x="205.30" y="50.73" font-size="3.4" text-anchor="middle" fill="#999" transform="rotate(-90 205.30 50.73)" stroke="#999" stroke-width="0.061">80</text>
<line x1="205.80" y1="50.73" x2="206.60" y2="50.73" stroke="#aaa" stroke-width="0.4" />
<text x="205.30" y="37.12" font-size="3.4" text-anchor="middle" fill="#999" transform="rotate(-90 205.30 37.12)" stroke="#999" stroke-width="0.061">100</text>
<line x1="205.80" y1="37.12" x2="206.60" y2="37.12" stroke="#aaa" stroke-width="0.4" />
<text x="205.30" y="23.50" font-size="3.4" text-anchor="middle" fill="#999" transform="rotate(-90 205.30 23.50)" stroke="#999" stroke-width="0.061">120</text>
<line x1="205.80" y1="23.50" x2="206.60" y2="23.50" stroke="#aaa" stroke-width="0.4" />
<text x="207.20" y="109.80" font-size="3.6" text-anchor="middle" fill="#888" stroke="#888" stroke-width="0.065">10<tspan font-size="2.6" dy="-1.4">0</tspan></text>
<line x1="206.60" y1="105.20" x2="206.60" y2="106.00" stroke="#aaa" stroke-width="0.4" />
<text x="233.33" y="109.80" font-size="3.6" text-anchor="middle" fill="#888" stroke="#888" stroke-width="0.065">10<tspan font-size="2.6" dy="-1.4">1</tspan></text>
<line x1="232.73" y1="105.20" x2="232.73" y2="106.00" stroke="#aaa" stroke-width="0.4" />
<text x="259.47" y="109.80" font-size="3.6" text-anchor="middle" fill="#888" stroke="#888" stroke-width="0.065">10<tspan font-size="2.6" dy="-1.4">2</tspan></text>
<line x1="258.87" y1="105.20" x2="258.87" y2="106.00" stroke="#aaa" stroke-width="0.4" />
<text x="285.60" y="109.80" font-size="3.6" text-anchor="middle" fill="#888" stroke="#888" stroke-width="0.065">10<tspan font-size="2.6" dy="-1.4">3</tspan></text>
<line x1="285.00" y1="105.20" x2="285.00" y2="106.00" stroke="#aaa" stroke-width="0.4" />
<path d="M206.6,105.1 L207.1,105.0 L207.6,104.9 L208.1,105.0 L208.6,105.1 L209.0,105.1 L209.5,104.8 L210.0,104.9 L210.5,105.0 L211.0,105.1 L211.5,105.2 L212.0,104.9 L212.5,105.0 L213.0,104.9 L213.5,104.7 L213.9,105.0 L214.4,104.9 L214.9,104.8 L215.4,104.7 L215.9,104.2 L216.4,104.2 L216.9,103.5 L217.4,102.6 L217.9,99.7 L218.4,97.9 L218.8,97.8 L219.3,96.1 L219.8,93.5 L220.3,87.1 L220.8,85.4 L221.3,84.1 L221.8,81.0 L222.3,76.6 L222.8,75.6 L223.3,69.3 L223.8,66.4 L224.2,63.0 L224.7,54.9 L225.2,46.8 L225.7,43.7 L226.2,40.8 L226.7,32.7 L227.2,29.2 L227.7,28.8 L228.2,30.1 L228.7,38.1 L229.1,42.3 L229.6,50.8 L230.1,55.4 L230.6,62.7 L231.1,66.7 L231.6,70.9 L232.1,76.1 L232.6,81.9 L233.1,85.2 L233.5,87.3 L234.0,92.1 L234.5,95.7 L235.0,97.9 L235.5,98.6 L236.0,101.7 L236.5,102.9 L237.0,103.4 L237.5,103.6 L238.0,104.4 L238.4,104.5 L238.9,104.8 L239.4,104.9 L239.9,104.8 L240.4,104.8 L240.9,105.0 L241.4,104.8 L241.9,104.9 L242.4,104.5 L242.9,104.8 L243.3,104.9 L243.8,105.0 L244.3,104.8 L244.8,104.7 L245.3,104.8 L245.8,105.0 L246.3,105.0 L246.8,105.0 L247.3,104.8 L247.8,104.9 L248.2,104.8 L248.7,104.5 L249.2,105.1 L249.7,104.8 L250.2,104.8 L250.7,105.0 L251.2,104.7 L251.7,104.9 L252.2,104.8 L252.7,104.7 L253.2,104.6 L253.6,104.9 L254.1,104.9 L254.6,105.0 L255.1,105.0 L255.6,104.6 L256.1,104.9 L256.6,105.1 L257.1,104.7 L257.6,104.6 L258.1,105.0 L258.5,104.8 L259.0,105.0 L259.5,105.1 L260.0,104.9 L260.5,105.0 L261.0,105.0 L261.5,104.8 L262.0,104.8 L262.5,104.9 L262.9,104.7 L263.4,104.9 L263.9,104.9 L264.4,104.7 L264.9,104.5 L265.4,104.6 L265.9,104.7 L266.4,104.8 L266.9,105.1 L267.4,104.6 L267.9,104.9 L268.3,104.5 L268.8,104.9 L269.3,105.1 L269.8,104.7 L270.3,104.8 L270.8,104.9 L271.3,104.8 L271.8,104.9 L272.3,104.8 L272.8,105.1 L273.2,104.9 L273.7,104.8 L274.2,105.1 L274.7,104.7 L275.2,104.9 L275.7,105.2 L276.2,104.7 L276.7,104.9 L277.2,104.9 L277.6,104.9 L278.1,104.6 L278.6,104.9 L279.1,105.0 L279.6,105.0 L280.1,104.8 L280.6,104.8 L281.1,105.0 L281.6,104.8 L282.1,105.0 L282.6,104.9 L283.0,104.8 L283.5,104.9 L284.0,104.9 L284.5,104.9 L285.0,105.0 L285.0,105.2 L206.6,105.2 Z" fill="#d2d2d2" stroke="#3a3a3a" stroke-width="0.7" />
<path d="M206.6,104.6 L207.0,104.3 L207.4,103.8 L207.8,104.7 L208.2,104.0 L208.6,104.4 L209.0,103.9 L209.3,104.3 L209.7,104.2 L210.1,104.1 L210.5,104.4 L210.9,104.2 L211.3,104.3 L211.7,103.8 L212.1,104.1 L212.5,104.7 L212.9,104.1 L213.3,104.1 L213.7,104.2 L214.0,103.8 L214.4,103.9 L214.8,104.7 L215.2,103.8 L215.6,104.4 L216.0,104.4 L216.4,104.3 L216.8,103.9 L217.2,103.4 L217.6,103.9 L218.0,103.2 L218.4,103.2 L218.8,102.7 L219.1,102.7 L219.5,102.0 L219.9,101.3 L220.3,101.5 L220.7,99.8 L221.1,100.2 L221.5,98.0 L221.9,96.9 L222.3,96.9 L222.7,93.2 L223.1,93.4 L223.5,93.0 L223.8,89.9 L224.2,89.6 L224.6,86.7 L225.0,86.6 L225.4,84.8 L225.8,86.6 L226.2,81.6 L226.6,76.6 L227.0,73.7 L227.4,70.8 L227.8,69.0 L228.2,65.3 L228.6,63.6 L228.9,62.4 L229.3,56.7 L229.7,51.2 L230.1,48.2 L230.5,40.8 L230.9,36.7 L231.3,36.1 L231.7,36.6 L232.1,28.9 L232.5,28.0 L232.9,37.6 L233.3,37.8 L233.6,39.8 L234.0,34.8 L234.4,39.8 L234.8,46.6 L235.2,48.8 L235.6,55.1 L236.0,63.5 L236.4,65.1 L236.8,65.1 L237.2,70.1 L237.6,69.3 L238.0,78.3 L238.4,82.2 L238.7,85.2 L239.1,86.7 L239.5,88.6 L239.9,89.4 L240.3,91.1 L240.7,95.5 L241.1,97.8 L241.5,97.5 L241.9,98.1 L242.3,98.1 L242.7,99.8 L243.1,100.7 L243.4,99.2 L243.8,101.9 L244.2,102.1 L244.6,101.0 L245.0,101.7 L245.4,102.4 L245.8,103.3 L246.2,102.8 L246.6,103.0 L247.0,103.5 L247.4,103.3 L247.8,104.0 L248.2,103.0 L248.5,104.0 L248.9,103.2 L249.3,104.0 L249.7,104.1 L250.1,103.8 L250.5,104.0 L250.9,103.5 L251.3,104.1 L251.7,103.7 L252.1,103.5 L252.5,103.4 L252.9,103.4 L253.2,103.8 L253.6,103.1 L254.0,103.8 L254.4,104.0 L254.8,103.7 L255.2,103.1 L255.6,104.4 L256.0,104.0 L256.4,103.3 L256.8,103.8 L257.2,104.3 L257.6,103.6 L258.0,103.6 L258.3,103.9 L258.7,104.3 L259.1,104.0 L259.5,104.1 L259.9,103.4 L260.3,104.3 L260.7,104.6 L261.1,103.8 L261.5,104.0 L261.9,103.5 L262.3,104.8 L262.7,104.0 L263.0,103.7 L263.4,104.1 L263.8,103.9 L264.2,104.2 L264.6,103.5 L265.0,104.5 L265.4,104.0 L265.8,104.1 L266.2,104.1 L266.6,103.8 L267.0,104.1 L267.4,104.0 L267.8,103.9 L268.1,104.0 L268.5,103.8 L268.9,104.4 L269.3,103.6 L269.7,104.7 L270.1,104.7 L270.5,104.4 L270.9,104.5 L271.3,104.0 L271.7,104.0 L272.1,103.9 L272.5,103.9 L272.8,104.0 L273.2,103.3 L273.6,104.4 L274.0,104.2 L274.4,104.3 L274.8,103.9 L275.2,104.3 L275.6,104.4 L276.0,104.5 L276.4,104.2 L276.8,104.5 L277.2,104.0 L277.6,104.1 L277.9,104.2 L278.3,104.1 L278.7,104.2 L279.1,103.9 L279.5,104.4 L279.9,104.5 L280.3,104.4 L280.7,104.4 L281.1,104.2 L281.5,104.4 L281.9,104.6 L282.3,104.4 L282.6,104.2 L283.0,104.6 L283.4,104.1 L283.8,103.9 L284.2,104.6 L284.6,104.5 L285.0,104.5" fill="none" stroke="#3a4a9a" stroke-width="0.9" />
<path d="M206.6,104.7 L207.0,104.4 L207.4,104.2 L207.8,104.8 L208.2,104.4 L208.6,103.4 L209.0,104.7 L209.3,104.4 L209.7,104.2 L210.1,104.9 L210.5,104.2 L210.9,103.9 L211.3,104.3 L211.7,104.6 L212.1,104.2 L212.5,104.5 L212.9,104.2 L213.3,104.2 L213.7,104.3 L214.0,104.5 L214.4,103.8 L214.8,104.1 L215.2,104.0 L215.6,104.1 L216.0,104.3 L216.4,103.9 L216.8,103.8 L217.2,103.5 L217.6,103.2 L218.0,103.2 L218.4,102.7 L218.8,102.4 L219.1,101.8 L219.5,102.5 L219.9,100.9 L220.3,102.3 L220.7,100.5 L221.1,98.8 L221.5,98.5 L221.9,96.9 L222.3,98.5 L222.7,96.8 L223.1,95.7 L223.5,92.4 L223.8,89.1 L224.2,90.7 L224.6,88.8 L225.0,88.5 L225.4,84.6 L225.8,82.8 L226.2,80.2 L226.6,79.8 L227.0,76.1 L227.4,74.0 L227.8,71.3 L228.2,68.5 L228.6,65.3 L228.9,67.5 L229.3,56.4 L229.7,53.0 L230.1,42.5 L230.5,38.5 L230.9,38.1 L231.3,34.4 L231.7,28.7 L232.1,30.0 L232.5,23.0 L232.9,28.3 L233.3,31.2 L233.6,36.5 L234.0,37.4 L234.4,42.4 L234.8,46.8 L235.2,48.7 L235.6,52.5 L236.0,58.6 L236.4,65.8 L236.8,66.0 L237.2,69.5 L237.6,72.4 L238.0,77.4 L238.4,81.2 L238.7,83.2 L239.1,86.0 L239.5,87.3 L239.9,90.2 L240.3,93.0 L240.7,94.5 L241.1,96.7 L241.5,95.8 L241.9,97.3 L242.3,98.6 L242.7,98.8 L243.1,100.9 L243.4,99.6 L243.8,100.0 L244.2,100.7 L244.6,101.8 L245.0,101.3 L245.4,102.1 L245.8,102.5 L246.2,102.3 L246.6,102.4 L247.0,103.1 L247.4,102.8 L247.8,101.1 L248.2,103.3 L248.5,102.7 L248.9,103.1 L249.3,103.4 L249.7,102.9 L250.1,103.8 L250.5,104.0 L250.9,103.4 L251.3,103.4 L251.7,103.8 L252.1,103.4 L252.5,104.0 L252.9,103.9 L253.2,104.5 L253.6,103.5 L254.0,104.1 L254.4,104.0 L254.8,103.8 L255.2,104.2 L255.6,103.9 L256.0,104.0 L256.4,103.6 L256.8,104.4 L257.2,104.0 L257.6,104.0 L258.0,104.2 L258.3,104.4 L258.7,103.9 L259.1,104.6 L259.5,104.5 L259.9,104.1 L260.3,104.1 L260.7,104.3 L261.1,104.2 L261.5,104.4 L261.9,103.9 L262.3,104.0 L262.7,103.6 L263.0,104.3 L263.4,103.9 L263.8,104.2 L264.2,104.2 L264.6,104.6 L265.0,103.3 L265.4,103.9 L265.8,103.9 L266.2,104.1 L266.6,104.5 L267.0,104.6 L267.4,104.6 L267.8,104.0 L268.1,104.5 L268.5,104.2 L268.9,104.2 L269.3,104.2 L269.7,104.4 L270.1,104.4 L270.5,104.2 L270.9,104.2 L271.3,104.6 L271.7,103.9 L272.1,104.0 L272.5,104.0 L272.8,104.1 L273.2,104.4 L273.6,103.8 L274.0,104.4 L274.4,104.4 L274.8,104.4 L275.2,104.0 L275.6,104.2 L276.0,104.5 L276.4,104.3 L276.8,104.4 L277.2,104.0 L277.6,104.0 L277.9,104.4 L278.3,104.3 L278.7,104.3 L279.1,104.1 L279.5,104.1 L279.9,104.2 L280.3,104.3 L280.7,104.4 L281.1,104.5 L281.5,104.2 L281.9,104.0 L282.3,103.8 L282.6,104.4 L283.0,104.2 L283.4,104.5 L283.8,104.4 L284.2,104.6 L284.6,104.4 L285.0,104.5" fill="none" stroke="#c8143a" stroke-width="1.3" />
<rect x="237.80" y="4.30" width="7.50" height="2.60" fill="#c8c8c8" stroke="none" stroke-width="1" />
<text x="246.60" y="7.70" font-size="5.3" fill="#333" textLength="15.87" lengthAdjust="spacingAndGlyphs" stroke="#333" stroke-width="0.095">Buffer</text>
<line x1="237.80" y1="14.20" x2="245.30" y2="14.20" stroke="#6670b4" stroke-width="1.4" />
<text x="246.60" y="16.30" font-size="5.3" fill="#333" textLength="38.62" lengthAdjust="spacingAndGlyphs" stroke="#333" stroke-width="0.095">SLO 10 ng/mL</text>
<line x1="237.80" y1="22.40" x2="245.30" y2="22.40" stroke="#e87890" stroke-width="1.4" />
<text x="246.60" y="24.50" font-size="5.3" fill="#333" textLength="38.62" lengthAdjust="spacingAndGlyphs" stroke="#333" stroke-width="0.095">SLO 15 ng/mL</text>
<text x="257.70" y="52.80" font-size="6.8" textLength="12.64" lengthAdjust="spacingAndGlyphs" stroke="#000" stroke-width="0.122">MFI</text>
<text x="257.70" y="61.60" font-size="6.5" fill="#222" textLength="16.20" lengthAdjust="spacingAndGlyphs" stroke="#222" stroke-width="0.117">4+/-1</text>
<text x="257.70" y="71.20" font-size="6.5" fill="#3a4aa0" textLength="20.10" lengthAdjust="spacingAndGlyphs" stroke="#3a4aa0" stroke-width="0.117">27+/-2</text>
<text x="257.70" y="80.70" font-size="6.5" fill="#e0303a" textLength="20.10" lengthAdjust="spacingAndGlyphs" stroke="#e0303a" stroke-width="0.117">28+/-2</text>
<text x="308.00" y="9.10" font-size="11" font-weight="bold">B</text>
<text x="366.20" y="26.90" font-size="8.3" text-anchor="middle" textLength="30.00" lengthAdjust="spacingAndGlyphs" stroke="#000" stroke-width="0.149">Before</text>
<text x="442.10" y="27.00" font-size="8.3" text-anchor="middle" textLength="21.20" lengthAdjust="spacingAndGlyphs" stroke="#000" stroke-width="0.149">After</text>
<line x1="313.00" y1="36.20" x2="313.00" y2="98.90" stroke="#555" stroke-width="1.2" />
<line x1="313.00" y1="170.40" x2="313.00" y2="231.50" stroke="#555" stroke-width="1.2" />
<text x="315.00" y="135.25" font-size="8.3" text-anchor="middle" transform="rotate(-90 315.00 135.25)" textLength="65.00" lengthAdjust="spacingAndGlyphs" stroke="#000" stroke-width="0.149">Maximum Intensity</text>
<line x1="332.50" y1="246.80" x2="369.50" y2="246.80" stroke="#555" stroke-width="1.2" />
<line x1="437.00" y1="246.80" x2="472.80" y2="246.80" stroke="#555" stroke-width="1.2" />
<text x="403.95" y="249.00" font-size="8.8" text-anchor="middle" textLength="62.00" lengthAdjust="spacingAndGlyphs" stroke="#000" stroke-width="0.158">Lifetime (sec)</text>
<text x="495.90" y="68.50" font-size="8" text-anchor="middle" textLength="45.00" lengthAdjust="spacingAndGlyphs" stroke="#000" stroke-width="0.144">0.1 μg/mL</text>
<text x="496.40" y="79.00" font-size="8" text-anchor="middle" textLength="19.60" lengthAdjust="spacingAndGlyphs" stroke="#000" stroke-width="0.144">PFN</text>
<rect x="332.30" y="36.20" width="63.30" height="57.60" fill="none" stroke="#888" stroke-width="0.9" />
<text x="329.40" y="48.20" font-size="4.6" text-anchor="end" fill="#333" textLength="5.54" lengthAdjust="spacingAndGlyphs" stroke="#333" stroke-width="0.083">4k</text>
<text x="329.40" y="84.70" font-size="4.6" text-anchor="end" fill="#333" textLength="8.75" lengthAdjust="spacingAndGlyphs" stroke="#333" stroke-width="0.083">400</text>
<line x1="330.80" y1="46.20" x2="332.30" y2="46.20" stroke="#666" stroke-width="0.5" />
<line x1="330.80" y1="82.90" x2="332.30" y2="82.90" stroke="#666" stroke-width="0.5" />
<line x1="395.60" y1="46.20" x2="397.10" y2="46.20" stroke="#666" stroke-width="0.5" />
<line x1="395.60" y1="82.90" x2="397.10" y2="82.90" stroke="#666" stroke-width="0.5" />
<text x="354.40" y="99.40" font-size="4.6" text-anchor="middle" fill="#333" textLength="8.75" lengthAdjust="spacingAndGlyphs" stroke="#333" stroke-width="0.083">100</text>
<text x="393.90" y="99.60" font-size="4.6" text-anchor="middle" fill="#333" textLength="5.54" lengthAdjust="spacingAndGlyphs" stroke="#333" stroke-width="0.083">1k</text>
<path d="M336.6,51.1h1.6v1.6h-1.6zM336.6,57.7h1.6v1.6h-1.6zM336.6,64.5h1.6v1.6h-1.6zM336.6,63.1h1.6v1.6h-1.6zM336.6,63.7h1.6v1.6h-1.6zM336.6,57.3h1.6v1.6h-1.6zM336.6,65.1h1.6v1.6h-1.6zM336.6,59.4h1.6v1.6h-1.6zM336.6,49.7h1.6v1.6h-1.6zM336.6,57.8h1.6v1.6h-1.6zM340.6,48.6h1.6v1.6h-1.6zM340.6,71.7h1.6v1.6h-1.6zM340.6,72.0h1.6v1.6h-1.6zM340.6,56.1h1.6v1.6h-1.6zM340.6,55.4h1.6v1.6h-1.6zM340.6,67.4h1.6v1.6h-1.6zM340.6,52.7h1.6v1.6h-1.6zM340.6,52.0h1.6v1.6h-1.6zM340.6,52.3h1.6v1.6h-1.6zM340.6,56.4h1.6v1.6h-1.6zM340.6,63.7h1.6v1.6h-1.6zM344.0,72.5h1.6v1.6h-1.6zM344.0,53.3h1.6v1.6h-1.6zM344.0,72.3h1.6v1.6h-1.6zM344.0,62.1h1.6v1.6h-1.6zM344.0,70.9h1.6v1.6h-1.6zM344.0,68.8h1.6v1.6h-1.6zM344.0,52.0h1.6v1.6h-1.6zM344.0,64.4h1.6v1.6h-1.6zM344.0,51.1h1.6v1.6h-1.6zM344.0,48.0h1.6v1.6h-1.6zM344.0,58.0h1.6v1.6h-1.6zM346.7,64.2h1.6v1.6h-1.6zM346.7,59.1h1.6v1.6h-1.6zM346.7,49.7h1.6v1.6h-1.6zM346.7,65.9h1.6v1.6h-1.6zM346.7,67.7h1.6v1.6h-1.6zM346.7,50.8h1.6v1.6h-1.6zM346.7,56.1h1.6v1.6h-1.6zM346.7,60.8h1.6v1.6h-1.6zM346.7,67.5h1.6v1.6h-1.6zM346.7,48.1h1.6v1.6h-1.6zM349.4,57.1h1.6v1.6h-1.6zM349.4,66.7h1.6v1.6h-1.6zM349.4,58.3h1.6v1.6h-1.6zM349.4,60.8h1.6v1.6h-1.6zM349.4,62.2h1.6v1.6h-1.6zM349.4,56.0h1.6v1.6h-1.6zM349.4,50.9h1.6v1.6h-1.6zM349.4,57.9h1.6v1.6h-1.6zM352.0,57.7h1.6v1.6h-1.6zM352.0,52.7h1.6v1.6h-1.6zM352.0,66.5h1.6v1.6h-1.6zM352.0,53.2h1.6v1.6h-1.6zM352.0,56.5h1.6v1.6h-1.6zM352.0,64.0h1.6v1.6h-1.6zM352.0,65.4h1.6v1.6h-1.6zM352.0,67.4h1.6v1.6h-1.6zM352.0,61.0h1.6v1.6h-1.6zM354.5,48.2h1.6v1.6h-1.6zM354.5,61.9h1.6v1.6h-1.6zM354.5,63.3h1.6v1.6h-1.6zM354.5,58.8h1.6v1.6h-1.6zM354.5,60.0h1.6v1.6h-1.6zM355.6,49.3h1.6v1.6h-1.6zM356.2,43.8h1.6v1.6h-1.6zM356.9,55.2h1.6v1.6h-1.6zM352.8,53.5h1.6v1.6h-1.6zM357.1,43.3h1.6v1.6h-1.6zM351.9,50.9h1.6v1.6h-1.6zM353.3,46.4h1.6v1.6h-1.6zM356.5,51.8h1.6v1.6h-1.6zM357.5,50.5h1.6v1.6h-1.6zM354.2,41.6h1.6v1.6h-1.6zM360.4,42.5h1.6v1.6h-1.6zM363.7,50.9h1.6v1.6h-1.6zM361.2,45.6h1.6v1.6h-1.6zM367.0,45.8h1.6v1.6h-1.6zM365.2,49.3h1.6v1.6h-1.6zM364.8,47.0h1.6v1.6h-1.6zM363.9,50.6h1.6v1.6h-1.6zM360.8,52.2h1.6v1.6h-1.6zM376.2,39.0h1.6v1.6h-1.6zM369.5,41.6h1.6v1.6h-1.6zM368.4,40.2h1.6v1.6h-1.6zM373.9,40.0h1.6v1.6h-1.6zM368.2,50.7h1.6v1.6h-1.6zM371.5,45.4h1.6v1.6h-1.6zM336.6,82.4h1.6v1.6h-1.6zM336.6,83.9h1.6v1.6h-1.6zM340.6,82.9h1.6v1.6h-1.6zM344.0,83.7h1.6v1.6h-1.6z" fill="#2d4e9c"/>
<rect x="408.90" y="36.20" width="63.00" height="57.60" fill="none" stroke="#888" stroke-width="0.9" />
<text x="406.00" y="48.20" font-size="4.6" text-anchor="end" fill="#333" textLength="5.54" lengthAdjust="spacingAndGlyphs" stroke="#333" stroke-width="0.083">4k</text>
<text x="406.00" y="84.70" font-size="4.6" text-anchor="end" fill="#333" textLength="8.75" lengthAdjust="spacingAndGlyphs" stroke="#333" stroke-width="0.083">400</text>
<line x1="407.40" y1="46.20" x2="408.90" y2="46.20" stroke="#666" stroke-width="0.5" />
<line x1="407.40" y1="82.90" x2="408.90" y2="82.90" stroke="#666" stroke-width="0.5" />
<line x1="471.90" y1="46.20" x2="473.40" y2="46.20" stroke="#666" stroke-width="0.5" />
<line x1="471.90" y1="82.90" x2="473.40" y2="82.90" stroke="#666" stroke-width="0.5" />
<text x="431.00" y="99.40" font-size="4.6" text-anchor="middle" fill="#333" textLength="8.75" lengthAdjust="spacingAndGlyphs" stroke="#333" stroke-width="0.083">100</text>
<text x="470.50" y="99.60" font-size="4.6" text-anchor="middle" fill="#333" textLength="5.54" lengthAdjust="spacingAndGlyphs" stroke="#333" stroke-width="0.083">1k</text>
<path d="M413.9,67.7h1.6v1.6h-1.6zM413.9,55.9h1.6v1.6h-1.6zM413.9,79.3h1.6v1.6h-1.6zM413.9,78.1h1.6v1.6h-1.6zM413.9,64.2h1.6v1.6h-1.6zM413.9,70.2h1.6v1.6h-1.6zM413.9,56.5h1.6v1.6h-1.6zM413.9,56.7h1.6v1.6h-1.6zM413.9,58.8h1.6v1.6h-1.6zM413.9,71.0h1.6v1.6h-1.6zM413.9,56.5h1.6v1.6h-1.6zM413.9,79.5h1.6v1.6h-1.6zM413.9,52.1h1.6v1.6h-1.6zM413.9,55.9h1.6v1.6h-1.6zM413.9,52.7h1.6v1.6h-1.6zM413.9,73.4h1.6v1.6h-1.6zM413.9,61.1h1.6v1.6h-1.6zM413.9,64.3h1.6v1.6h-1.6zM413.9,59.9h1.6v1.6h-1.6zM413.9,69.4h1.6v1.6h-1.6zM413.9,62.3h1.6v1.6h-1.6zM413.9,56.3h1.6v1.6h-1.6zM413.9,63.1h1.6v1.6h-1.6zM413.9,59.3h1.6v1.6h-1.6zM413.9,53.4h1.6v1.6h-1.6zM413.9,75.0h1.6v1.6h-1.6zM413.9,70.7h1.6v1.6h-1.6zM413.9,70.2h1.6v1.6h-1.6zM413.9,76.8h1.6v1.6h-1.6zM413.9,62.0h1.6v1.6h-1.6zM413.9,61.5h1.6v1.6h-1.6zM413.9,62.9h1.6v1.6h-1.6zM413.9,62.3h1.6v1.6h-1.6zM413.9,70.3h1.6v1.6h-1.6zM413.9,50.2h1.6v1.6h-1.6zM413.9,64.1h1.6v1.6h-1.6zM413.9,66.3h1.6v1.6h-1.6zM413.9,60.5h1.6v1.6h-1.6zM413.9,50.7h1.6v1.6h-1.6zM413.9,71.4h1.6v1.6h-1.6zM413.9,50.3h1.6v1.6h-1.6zM418.0,65.7h1.6v1.6h-1.6zM418.0,52.8h1.6v1.6h-1.6zM418.0,49.1h1.6v1.6h-1.6zM418.0,53.7h1.6v1.6h-1.6zM418.0,50.1h1.6v1.6h-1.6zM418.0,52.7h1.6v1.6h-1.6zM418.0,69.5h1.6v1.6h-1.6zM418.0,70.9h1.6v1.6h-1.6zM418.0,59.4h1.6v1.6h-1.6zM418.0,68.5h1.6v1.6h-1.6zM418.0,62.9h1.6v1.6h-1.6zM418.0,63.7h1.6v1.6h-1.6zM418.0,75.5h1.6v1.6h-1.6zM418.0,57.8h1.6v1.6h-1.6zM418.0,75.3h1.6v1.6h-1.6zM418.0,69.7h1.6v1.6h-1.6zM418.0,69.5h1.6v1.6h-1.6zM418.0,48.2h1.6v1.6h-1.6zM418.0,50.6h1.6v1.6h-1.6zM418.0,49.0h1.6v1.6h-1.6zM418.0,58.9h1.6v1.6h-1.6zM418.0,77.7h1.6v1.6h-1.6zM418.0,75.5h1.6v1.6h-1.6zM418.0,74.3h1.6v1.6h-1.6zM418.0,51.7h1.6v1.6h-1.6zM418.0,70.2h1.6v1.6h-1.6zM418.0,72.3h1.6v1.6h-1.6zM418.0,73.4h1.6v1.6h-1.6zM418.0,72.9h1.6v1.6h-1.6zM418.0,52.4h1.6v1.6h-1.6zM418.0,53.6h1.6v1.6h-1.6zM418.0,72.9h1.6v1.6h-1.6zM418.0,71.2h1.6v1.6h-1.6zM418.0,76.0h1.6v1.6h-1.6zM418.0,62.0h1.6v1.6h-1.6zM418.0,75.9h1.6v1.6h-1.6zM418.0,52.4h1.6v1.6h-1.6zM418.0,78.1h1.6v1.6h-1.6zM418.0,75.8h1.6v1.6h-1.6zM418.0,58.6h1.6v1.6h-1.6zM418.0,50.1h1.6v1.6h-1.6zM418.0,65.2h1.6v1.6h-1.6zM421.1,66.5h1.6v1.6h-1.6zM421.1,54.7h1.6v1.6h-1.6zM421.1,44.4h1.6v1.6h-1.6zM421.1,52.2h1.6v1.6h-1.6zM421.1,71.3h1.6v1.6h-1.6zM421.1,45.6h1.6v1.6h-1.6zM421.1,75.2h1.6v1.6h-1.6zM421.1,51.2h1.6v1.6h-1.6zM421.1,49.6h1.6v1.6h-1.6zM421.1,46.3h1.6v1.6h-1.6zM421.1,76.7h1.6v1.6h-1.6zM421.1,73.9h1.6v1.6h-1.6zM421.1,53.6h1.6v1.6h-1.6zM421.1,45.7h1.6v1.6h-1.6zM421.1,65.3h1.6v1.6h-1.6zM421.1,73.5h1.6v1.6h-1.6zM421.1,42.8h1.6v1.6h-1.6zM421.1,64.6h1.6v1.6h-1.6zM421.1,72.4h1.6v1.6h-1.6zM421.1,58.5h1.6v1.6h-1.6zM421.1,62.3h1.6v1.6h-1.6zM421.1,70.5h1.6v1.6h-1.6zM421.1,50.7h1.6v1.6h-1.6zM421.1,52.0h1.6v1.6h-1.6zM421.1,65.5h1.6v1.6h-1.6zM421.1,61.7h1.6v1.6h-1.6zM421.1,61.1h1.6v1.6h-1.6zM421.1,54.1h1.6v1.6h-1.6zM421.1,75.2h1.6v1.6h-1.6zM421.1,52.5h1.6v1.6h-1.6zM421.1,66.2h1.6v1.6h-1.6zM421.1,73.7h1.6v1.6h-1.6zM421.1,56.4h1.6v1.6h-1.6zM421.1,44.3h1.6v1.6h-1.6zM421.1,50.1h1.6v1.6h-1.6zM421.1,44.7h1.6v1.6h-1.6zM421.1,47.6h1.6v1.6h-1.6zM421.1,46.6h1.6v1.6h-1.6zM421.1,54.4h1.6v1.6h-1.6zM421.1,55.3h1.6v1.6h-1.6zM421.1,58.1h1.6v1.6h-1.6zM421.1,65.7h1.6v1.6h-1.6zM423.4,66.7h1.6v1.6h-1.6zM423.4,67.0h1.6v1.6h-1.6zM423.4,57.3h1.6v1.6h-1.6zM423.4,66.3h1.6v1.6h-1.6zM423.4,62.9h1.6v1.6h-1.6zM423.4,50.2h1.6v1.6h-1.6zM423.4,62.8h1.6v1.6h-1.6zM423.4,56.0h1.6v1.6h-1.6zM423.4,66.7h1.6v1.6h-1.6zM423.4,68.4h1.6v1.6h-1.6zM423.4,53.6h1.6v1.6h-1.6zM423.4,59.5h1.6v1.6h-1.6zM423.4,60.0h1.6v1.6h-1.6zM423.4,55.3h1.6v1.6h-1.6zM423.4,47.6h1.6v1.6h-1.6zM423.4,47.9h1.6v1.6h-1.6zM423.4,76.2h1.6v1.6h-1.6zM423.4,68.6h1.6v1.6h-1.6zM423.4,59.6h1.6v1.6h-1.6zM423.4,66.4h1.6v1.6h-1.6zM423.4,54.5h1.6v1.6h-1.6zM423.4,67.7h1.6v1.6h-1.6zM423.4,74.9h1.6v1.6h-1.6zM423.4,69.6h1.6v1.6h-1.6zM423.4,60.4h1.6v1.6h-1.6zM423.4,75.9h1.6v1.6h-1.6zM423.4,74.1h1.6v1.6h-1.6zM423.4,48.1h1.6v1.6h-1.6zM423.4,58.8h1.6v1.6h-1.6zM423.4,60.0h1.6v1.6h-1.6zM423.4,54.6h1.6v1.6h-1.6zM423.4,64.9h1.6v1.6h-1.6zM423.4,50.7h1.6v1.6h-1.6zM423.4,68.8h1.6v1.6h-1.6zM423.4,72.1h1.6v1.6h-1.6zM423.4,48.2h1.6v1.6h-1.6zM425.4,63.3h1.6v1.6h-1.6zM425.4,53.5h1.6v1.6h-1.6zM425.4,62.1h1.6v1.6h-1.6zM425.4,63.3h1.6v1.6h-1.6zM425.4,69.9h1.6v1.6h-1.6zM425.4,65.8h1.6v1.6h-1.6zM425.4,55.2h1.6v1.6h-1.6zM425.4,64.2h1.6v1.6h-1.6zM425.4,50.8h1.6v1.6h-1.6zM425.4,63.8h1.6v1.6h-1.6zM425.4,57.0h1.6v1.6h-1.6zM425.4,53.5h1.6v1.6h-1.6zM425.4,52.9h1.6v1.6h-1.6zM425.4,52.4h1.6v1.6h-1.6zM425.4,65.7h1.6v1.6h-1.6zM425.4,49.6h1.6v1.6h-1.6zM425.4,52.7h1.6v1.6h-1.6zM425.4,51.8h1.6v1.6h-1.6zM425.4,51.0h1.6v1.6h-1.6zM425.4,64.2h1.6v1.6h-1.6zM425.4,60.9h1.6v1.6h-1.6zM425.4,62.7h1.6v1.6h-1.6zM425.4,68.1h1.6v1.6h-1.6zM425.4,57.7h1.6v1.6h-1.6zM425.4,48.3h1.6v1.6h-1.6zM425.4,51.8h1.6v1.6h-1.6zM425.4,59.3h1.6v1.6h-1.6zM427.6,60.0h1.6v1.6h-1.6zM427.6,63.9h1.6v1.6h-1.6zM427.6,56.1h1.6v1.6h-1.6zM427.6,50.7h1.6v1.6h-1.6zM427.6,57.7h1.6v1.6h-1.6zM427.6,64.2h1.6v1.6h-1.6zM427.6,52.7h1.6v1.6h-1.6zM427.6,64.1h1.6v1.6h-1.6zM427.6,63.6h1.6v1.6h-1.6zM427.6,57.4h1.6v1.6h-1.6zM427.6,55.5h1.6v1.6h-1.6zM427.6,48.8h1.6v1.6h-1.6zM427.6,48.5h1.6v1.6h-1.6zM427.6,47.2h1.6v1.6h-1.6zM427.6,58.0h1.6v1.6h-1.6zM427.6,59.9h1.6v1.6h-1.6zM427.6,65.3h1.6v1.6h-1.6zM427.6,57.8h1.6v1.6h-1.6zM427.6,65.3h1.6v1.6h-1.6zM429.6,52.7h1.6v1.6h-1.6zM429.6,47.8h1.6v1.6h-1.6zM429.6,46.5h1.6v1.6h-1.6zM429.6,50.6h1.6v1.6h-1.6zM429.6,55.0h1.6v1.6h-1.6zM429.6,63.2h1.6v1.6h-1.6zM429.6,50.8h1.6v1.6h-1.6zM429.6,49.6h1.6v1.6h-1.6zM429.6,58.4h1.6v1.6h-1.6zM429.6,52.4h1.6v1.6h-1.6zM429.6,55.5h1.6v1.6h-1.6zM429.6,48.1h1.6v1.6h-1.6zM429.6,60.8h1.6v1.6h-1.6zM429.6,61.9h1.6v1.6h-1.6zM429.6,59.0h1.6v1.6h-1.6zM429.6,62.2h1.6v1.6h-1.6zM431.6,50.1h1.6v1.6h-1.6zM431.6,45.0h1.6v1.6h-1.6zM431.6,49.6h1.6v1.6h-1.6zM431.6,59.7h1.6v1.6h-1.6zM431.6,52.4h1.6v1.6h-1.6zM431.6,47.8h1.6v1.6h-1.6zM431.6,47.0h1.6v1.6h-1.6zM431.6,47.2h1.6v1.6h-1.6zM431.6,51.9h1.6v1.6h-1.6zM431.6,60.1h1.6v1.6h-1.6zM431.6,59.4h1.6v1.6h-1.6zM431.6,57.3h1.6v1.6h-1.6zM433.6,55.7h1.6v1.6h-1.6zM433.6,47.3h1.6v1.6h-1.6zM433.6,56.1h1.6v1.6h-1.6zM433.6,47.8h1.6v1.6h-1.6zM433.6,52.3h1.6v1.6h-1.6zM433.6,44.9h1.6v1.6h-1.6zM433.6,57.8h1.6v1.6h-1.6zM433.6,46.3h1.6v1.6h-1.6zM433.6,53.3h1.6v1.6h-1.6zM434.0,57.9h1.6v1.6h-1.6zM434.3,52.2h1.6v1.6h-1.6zM435.6,64.1h1.6v1.6h-1.6zM433.5,65.0h1.6v1.6h-1.6zM436.3,45.6h1.6v1.6h-1.6zM434.2,46.3h1.6v1.6h-1.6zM434.0,52.2h1.6v1.6h-1.6zM436.4,45.3h1.6v1.6h-1.6zM437.5,45.3h1.6v1.6h-1.6zM426.8,44.5h1.6v1.6h-1.6zM427.6,65.1h1.6v1.6h-1.6zM436.1,63.7h1.6v1.6h-1.6zM428.3,58.8h1.6v1.6h-1.6zM435.6,59.7h1.6v1.6h-1.6zM429.3,64.8h1.6v1.6h-1.6zM434.8,58.8h1.6v1.6h-1.6zM429.5,52.7h1.6v1.6h-1.6zM435.2,55.2h1.6v1.6h-1.6zM432.0,63.7h1.6v1.6h-1.6zM431.1,62.4h1.6v1.6h-1.6zM426.7,55.5h1.6v1.6h-1.6zM434.7,44.6h1.6v1.6h-1.6zM434.5,50.4h1.6v1.6h-1.6zM433.6,57.5h1.6v1.6h-1.6zM427.7,64.2h1.6v1.6h-1.6zM429.0,47.3h1.6v1.6h-1.6zM431.4,45.7h1.6v1.6h-1.6zM427.3,60.4h1.6v1.6h-1.6zM427.3,55.8h1.6v1.6h-1.6zM436.7,53.9h1.6v1.6h-1.6zM440.8,55.2h1.6v1.6h-1.6zM436.3,45.4h1.6v1.6h-1.6zM440.6,55.7h1.6v1.6h-1.6zM441.1,53.7h1.6v1.6h-1.6zM438.7,56.9h1.6v1.6h-1.6zM440.3,54.3h1.6v1.6h-1.6zM441.5,45.1h1.6v1.6h-1.6zM440.3,52.0h1.6v1.6h-1.6zM435.2,47.7h1.6v1.6h-1.6zM440.1,51.3h1.6v1.6h-1.6zM439.0,48.1h1.6v1.6h-1.6zM439.1,55.8h1.6v1.6h-1.6zM442.0,51.6h1.6v1.6h-1.6zM440.2,45.5h1.6v1.6h-1.6zM436.1,51.7h1.6v1.6h-1.6zM445.1,46.4h1.6v1.6h-1.6zM441.0,49.4h1.6v1.6h-1.6zM441.9,46.5h1.6v1.6h-1.6zM441.1,48.8h1.6v1.6h-1.6zM444.9,46.8h1.6v1.6h-1.6zM444.9,46.0h1.6v1.6h-1.6zM441.6,50.7h1.6v1.6h-1.6zM440.1,48.0h1.6v1.6h-1.6zM413.9,87.0h1.6v1.6h-1.6zM418.0,84.9h1.6v1.6h-1.6zM451.6,43.4h1.6v1.6h-1.6zM454.1,48.0h1.6v1.6h-1.6z" fill="#2d4e9c"/>
<text x="496.00" y="133.30" font-size="8" text-anchor="middle" textLength="22.60" lengthAdjust="spacingAndGlyphs" stroke="#000" stroke-width="0.144">5 μM</text>
<text x="496.80" y="144.00" font-size="8" text-anchor="middle" textLength="45.50" lengthAdjust="spacingAndGlyphs" stroke="#000" stroke-width="0.144">Ionomycin</text>
<rect x="332.30" y="106.20" width="63.30" height="57.10" fill="none" stroke="#888" stroke-width="0.9" />
<text x="329.40" y="118.20" font-size="4.6" text-anchor="end" fill="#333" textLength="5.54" lengthAdjust="spacingAndGlyphs" stroke="#333" stroke-width="0.083">4k</text>
<text x="329.40" y="154.70" font-size="4.6" text-anchor="end" fill="#333" textLength="8.75" lengthAdjust="spacingAndGlyphs" stroke="#333" stroke-width="0.083">400</text>
<line x1="330.80" y1="116.20" x2="332.30" y2="116.20" stroke="#666" stroke-width="0.5" />
<line x1="330.80" y1="152.90" x2="332.30" y2="152.90" stroke="#666" stroke-width="0.5" />
<line x1="395.60" y1="116.20" x2="397.10" y2="116.20" stroke="#666" stroke-width="0.5" />
<line x1="395.60" y1="152.90" x2="397.10" y2="152.90" stroke="#666" stroke-width="0.5" />
<text x="354.40" y="168.90" font-size="4.6" text-anchor="middle" fill="#333" textLength="8.75" lengthAdjust="spacingAndGlyphs" stroke="#333" stroke-width="0.083">100</text>
<text x="393.90" y="169.10" font-size="4.6" text-anchor="middle" fill="#333" textLength="5.54" lengthAdjust="spacingAndGlyphs" stroke="#333" stroke-width="0.083">1k</text>
<path d="M336.6,148.9h1.6v1.6h-1.6zM336.6,131.2h1.6v1.6h-1.6zM336.6,145.2h1.6v1.6h-1.6zM336.6,126.7h1.6v1.6h-1.6zM336.6,134.3h1.6v1.6h-1.6zM336.6,127.5h1.6v1.6h-1.6zM336.6,136.2h1.6v1.6h-1.6zM336.6,121.1h1.6v1.6h-1.6zM336.6,132.2h1.6v1.6h-1.6zM336.6,128.9h1.6v1.6h-1.6zM336.6,120.0h1.6v1.6h-1.6zM336.6,145.0h1.6v1.6h-1.6zM336.6,148.2h1.6v1.6h-1.6zM336.6,123.6h1.6v1.6h-1.6zM336.6,139.1h1.6v1.6h-1.6zM336.6,135.8h1.6v1.6h-1.6zM336.6,132.4h1.6v1.6h-1.6zM336.6,137.8h1.6v1.6h-1.6zM336.6,140.1h1.6v1.6h-1.6zM336.6,127.7h1.6v1.6h-1.6zM336.6,130.4h1.6v1.6h-1.6zM336.6,135.1h1.6v1.6h-1.6zM336.6,150.8h1.6v1.6h-1.6zM336.6,148.8h1.6v1.6h-1.6zM336.6,143.8h1.6v1.6h-1.6zM336.6,133.5h1.6v1.6h-1.6zM336.6,148.1h1.6v1.6h-1.6zM336.6,150.3h1.6v1.6h-1.6zM336.6,147.2h1.6v1.6h-1.6zM336.6,125.0h1.6v1.6h-1.6zM336.6,132.0h1.6v1.6h-1.6zM340.6,126.1h1.6v1.6h-1.6zM340.6,132.8h1.6v1.6h-1.6zM340.6,144.7h1.6v1.6h-1.6zM340.6,134.0h1.6v1.6h-1.6zM340.6,129.2h1.6v1.6h-1.6zM340.6,124.3h1.6v1.6h-1.6zM340.6,123.5h1.6v1.6h-1.6zM340.6,143.8h1.6v1.6h-1.6zM340.6,147.6h1.6v1.6h-1.6zM340.6,145.7h1.6v1.6h-1.6zM340.6,119.5h1.6v1.6h-1.6zM340.6,127.3h1.6v1.6h-1.6zM340.6,123.6h1.6v1.6h-1.6zM340.6,133.1h1.6v1.6h-1.6zM340.6,125.4h1.6v1.6h-1.6zM340.6,133.8h1.6v1.6h-1.6zM340.6,132.8h1.6v1.6h-1.6zM340.6,138.1h1.6v1.6h-1.6zM340.6,134.6h1.6v1.6h-1.6zM340.6,134.3h1.6v1.6h-1.6zM340.6,120.7h1.6v1.6h-1.6zM340.6,147.3h1.6v1.6h-1.6zM340.6,132.0h1.6v1.6h-1.6zM340.6,145.2h1.6v1.6h-1.6zM343.7,129.6h1.6v1.6h-1.6zM343.7,123.0h1.6v1.6h-1.6zM343.7,148.6h1.6v1.6h-1.6zM343.7,134.5h1.6v1.6h-1.6zM343.7,125.2h1.6v1.6h-1.6zM343.7,147.9h1.6v1.6h-1.6zM343.7,146.9h1.6v1.6h-1.6zM343.7,123.6h1.6v1.6h-1.6zM343.7,147.5h1.6v1.6h-1.6zM343.7,124.1h1.6v1.6h-1.6zM343.7,124.1h1.6v1.6h-1.6zM343.7,124.6h1.6v1.6h-1.6zM343.7,145.4h1.6v1.6h-1.6zM343.7,137.7h1.6v1.6h-1.6zM343.7,136.2h1.6v1.6h-1.6zM343.7,140.3h1.6v1.6h-1.6zM343.7,128.8h1.6v1.6h-1.6zM343.7,122.1h1.6v1.6h-1.6zM343.7,122.7h1.6v1.6h-1.6zM343.7,127.2h1.6v1.6h-1.6zM343.7,137.1h1.6v1.6h-1.6zM343.7,122.5h1.6v1.6h-1.6zM343.7,121.7h1.6v1.6h-1.6zM346.0,120.6h1.6v1.6h-1.6zM346.0,116.2h1.6v1.6h-1.6zM346.0,117.3h1.6v1.6h-1.6zM346.0,119.1h1.6v1.6h-1.6zM346.0,118.8h1.6v1.6h-1.6zM346.0,123.6h1.6v1.6h-1.6zM346.0,135.5h1.6v1.6h-1.6zM346.0,131.3h1.6v1.6h-1.6zM346.0,116.2h1.6v1.6h-1.6zM346.0,117.6h1.6v1.6h-1.6zM346.0,123.7h1.6v1.6h-1.6zM346.0,126.5h1.6v1.6h-1.6zM346.0,126.4h1.6v1.6h-1.6zM346.0,128.3h1.6v1.6h-1.6zM346.0,132.5h1.6v1.6h-1.6zM346.0,130.5h1.6v1.6h-1.6zM346.0,121.7h1.6v1.6h-1.6zM346.0,122.2h1.6v1.6h-1.6zM346.0,138.7h1.6v1.6h-1.6zM348.4,126.5h1.6v1.6h-1.6zM348.4,132.2h1.6v1.6h-1.6zM348.4,132.4h1.6v1.6h-1.6zM348.4,130.7h1.6v1.6h-1.6zM348.4,128.0h1.6v1.6h-1.6zM348.4,129.6h1.6v1.6h-1.6zM348.4,123.1h1.6v1.6h-1.6zM348.4,121.9h1.6v1.6h-1.6zM348.4,124.6h1.6v1.6h-1.6zM348.4,121.6h1.6v1.6h-1.6zM350.0,122.0h1.6v1.6h-1.6zM349.9,120.6h1.6v1.6h-1.6zM349.6,130.7h1.6v1.6h-1.6zM348.9,130.3h1.6v1.6h-1.6zM354.2,122.7h1.6v1.6h-1.6zM352.3,128.8h1.6v1.6h-1.6zM356.0,128.9h1.6v1.6h-1.6zM349.6,121.2h1.6v1.6h-1.6zM349.9,122.3h1.6v1.6h-1.6zM355.0,132.2h1.6v1.6h-1.6zM349.4,131.2h1.6v1.6h-1.6zM355.7,123.5h1.6v1.6h-1.6zM352.5,123.7h1.6v1.6h-1.6zM351.9,131.1h1.6v1.6h-1.6zM350.1,127.4h1.6v1.6h-1.6zM353.5,132.6h1.6v1.6h-1.6zM356.2,133.1h1.6v1.6h-1.6zM351.7,125.3h1.6v1.6h-1.6zM355.8,132.5h1.6v1.6h-1.6zM355.0,128.9h1.6v1.6h-1.6zM356.1,122.3h1.6v1.6h-1.6zM350.0,131.1h1.6v1.6h-1.6zM350.7,129.2h1.6v1.6h-1.6zM353.1,129.0h1.6v1.6h-1.6zM350.6,133.9h1.6v1.6h-1.6zM353.0,120.4h1.6v1.6h-1.6zM351.0,127.7h1.6v1.6h-1.6zM355.4,129.0h1.6v1.6h-1.6zM356.1,125.0h1.6v1.6h-1.6zM348.9,126.7h1.6v1.6h-1.6zM355.8,128.0h1.6v1.6h-1.6zM355.3,132.1h1.6v1.6h-1.6zM355.7,127.4h1.6v1.6h-1.6zM348.7,128.4h1.6v1.6h-1.6zM349.3,125.7h1.6v1.6h-1.6zM350.4,125.4h1.6v1.6h-1.6zM352.3,130.0h1.6v1.6h-1.6zM356.1,132.3h1.6v1.6h-1.6zM355.1,122.6h1.6v1.6h-1.6zM353.1,125.7h1.6v1.6h-1.6zM365.7,113.9h1.6v1.6h-1.6zM366.1,128.7h1.6v1.6h-1.6zM374.9,126.5h1.6v1.6h-1.6zM358.5,126.7h1.6v1.6h-1.6zM365.0,118.2h1.6v1.6h-1.6zM367.0,117.9h1.6v1.6h-1.6zM361.9,127.7h1.6v1.6h-1.6zM368.8,120.2h1.6v1.6h-1.6zM367.6,113.6h1.6v1.6h-1.6zM358.5,113.0h1.6v1.6h-1.6zM364.0,127.3h1.6v1.6h-1.6zM357.3,117.4h1.6v1.6h-1.6zM340.6,158.4h1.6v1.6h-1.6zM354.1,140.9h1.6v1.6h-1.6zM349.4,142.2h1.6v1.6h-1.6z" fill="#e0202a"/>
<rect x="408.90" y="106.20" width="63.00" height="57.10" fill="none" stroke="#888" stroke-width="0.9" />
<text x="406.00" y="118.20" font-size="4.6" text-anchor="end" fill="#333" textLength="5.54" lengthAdjust="spacingAndGlyphs" stroke="#333" stroke-width="0.083">4k</text>
<text x="406.00" y="154.70" font-size="4.6" text-anchor="end" fill="#333" textLength="8.75" lengthAdjust="spacingAndGlyphs" stroke="#333" stroke-width="0.083">400</text>
<line x1="407.40" y1="116.20" x2="408.90" y2="116.20" stroke="#666" stroke-width="0.5" />
<line x1="407.40" y1="152.90" x2="408.90" y2="152.90" stroke="#666" stroke-width="0.5" />
<line x1="471.90" y1="116.20" x2="473.40" y2="116.20" stroke="#666" stroke-width="0.5" />
<line x1="471.90" y1="152.90" x2="473.40" y2="152.90" stroke="#666" stroke-width="0.5" />
<text x="431.00" y="168.90" font-size="4.6" text-anchor="middle" fill="#333" textLength="8.75" lengthAdjust="spacingAndGlyphs" stroke="#333" stroke-width="0.083">100</text>
<text x="470.50" y="169.10" font-size="4.6" text-anchor="middle" fill="#333" textLength="5.54" lengthAdjust="spacingAndGlyphs" stroke="#333" stroke-width="0.083">1k</text>
<path d="M413.9,149.0h1.6v1.6h-1.6zM413.9,130.0h1.6v1.6h-1.6zM413.9,152.5h1.6v1.6h-1.6zM413.9,138.7h1.6v1.6h-1.6zM413.9,135.7h1.6v1.6h-1.6zM413.9,142.5h1.6v1.6h-1.6zM413.9,128.6h1.6v1.6h-1.6zM413.9,129.4h1.6v1.6h-1.6zM413.9,136.4h1.6v1.6h-1.6zM413.9,130.5h1.6v1.6h-1.6zM413.9,144.1h1.6v1.6h-1.6zM413.9,136.3h1.6v1.6h-1.6zM413.9,135.3h1.6v1.6h-1.6zM413.9,132.0h1.6v1.6h-1.6zM413.9,130.2h1.6v1.6h-1.6zM413.9,145.5h1.6v1.6h-1.6zM413.9,151.3h1.6v1.6h-1.6zM413.9,134.2h1.6v1.6h-1.6zM413.9,148.2h1.6v1.6h-1.6zM413.9,133.1h1.6v1.6h-1.6zM413.9,146.9h1.6v1.6h-1.6zM413.9,130.8h1.6v1.6h-1.6zM413.9,141.0h1.6v1.6h-1.6zM413.9,136.0h1.6v1.6h-1.6zM413.9,150.3h1.6v1.6h-1.6zM413.9,146.9h1.6v1.6h-1.6zM413.9,126.7h1.6v1.6h-1.6zM413.9,126.5h1.6v1.6h-1.6zM413.9,137.6h1.6v1.6h-1.6zM413.9,130.1h1.6v1.6h-1.6zM413.9,130.8h1.6v1.6h-1.6zM413.9,152.8h1.6v1.6h-1.6zM413.9,152.5h1.6v1.6h-1.6zM413.9,123.9h1.6v1.6h-1.6zM413.9,124.1h1.6v1.6h-1.6zM413.9,142.8h1.6v1.6h-1.6zM413.9,152.7h1.6v1.6h-1.6zM413.9,150.9h1.6v1.6h-1.6zM418.0,144.5h1.6v1.6h-1.6zM418.0,146.1h1.6v1.6h-1.6zM418.0,137.3h1.6v1.6h-1.6zM418.0,137.5h1.6v1.6h-1.6zM418.0,150.1h1.6v1.6h-1.6zM418.0,124.4h1.6v1.6h-1.6zM418.0,144.1h1.6v1.6h-1.6zM418.0,145.4h1.6v1.6h-1.6zM418.0,126.0h1.6v1.6h-1.6zM418.0,147.1h1.6v1.6h-1.6zM418.0,126.5h1.6v1.6h-1.6zM418.0,153.9h1.6v1.6h-1.6zM418.0,146.9h1.6v1.6h-1.6zM418.0,136.3h1.6v1.6h-1.6zM418.0,140.7h1.6v1.6h-1.6zM418.0,154.1h1.6v1.6h-1.6zM418.0,133.3h1.6v1.6h-1.6zM418.0,127.7h1.6v1.6h-1.6zM418.0,144.4h1.6v1.6h-1.6zM418.0,151.7h1.6v1.6h-1.6zM418.0,126.1h1.6v1.6h-1.6zM418.0,146.9h1.6v1.6h-1.6zM418.0,134.0h1.6v1.6h-1.6zM418.0,144.3h1.6v1.6h-1.6zM418.0,137.1h1.6v1.6h-1.6zM418.0,153.3h1.6v1.6h-1.6zM418.0,140.5h1.6v1.6h-1.6zM418.0,153.9h1.6v1.6h-1.6zM418.0,153.7h1.6v1.6h-1.6zM418.0,125.1h1.6v1.6h-1.6zM418.0,152.9h1.6v1.6h-1.6zM418.0,146.7h1.6v1.6h-1.6zM418.0,125.6h1.6v1.6h-1.6zM418.0,140.5h1.6v1.6h-1.6zM418.0,130.0h1.6v1.6h-1.6zM418.0,122.3h1.6v1.6h-1.6zM418.0,122.7h1.6v1.6h-1.6zM418.0,133.1h1.6v1.6h-1.6zM421.4,143.1h1.6v1.6h-1.6zM421.4,122.6h1.6v1.6h-1.6zM421.4,135.7h1.6v1.6h-1.6zM421.4,143.1h1.6v1.6h-1.6zM421.4,130.0h1.6v1.6h-1.6zM421.4,139.1h1.6v1.6h-1.6zM421.4,135.9h1.6v1.6h-1.6zM421.4,140.2h1.6v1.6h-1.6zM421.4,133.0h1.6v1.6h-1.6zM421.4,145.8h1.6v1.6h-1.6zM421.4,130.9h1.6v1.6h-1.6zM421.4,126.1h1.6v1.6h-1.6zM421.4,123.8h1.6v1.6h-1.6zM421.4,127.3h1.6v1.6h-1.6zM421.4,123.7h1.6v1.6h-1.6zM421.4,144.8h1.6v1.6h-1.6zM421.4,124.1h1.6v1.6h-1.6zM421.4,142.2h1.6v1.6h-1.6zM421.4,140.4h1.6v1.6h-1.6zM421.4,132.7h1.6v1.6h-1.6zM421.4,122.0h1.6v1.6h-1.6zM421.4,125.9h1.6v1.6h-1.6zM421.4,144.7h1.6v1.6h-1.6zM421.4,131.3h1.6v1.6h-1.6zM421.4,140.7h1.6v1.6h-1.6zM421.4,123.9h1.6v1.6h-1.6zM421.4,121.9h1.6v1.6h-1.6zM421.4,129.9h1.6v1.6h-1.6zM424.0,127.9h1.6v1.6h-1.6zM424.0,124.4h1.6v1.6h-1.6zM424.0,134.9h1.6v1.6h-1.6zM424.0,133.4h1.6v1.6h-1.6zM424.0,133.0h1.6v1.6h-1.6zM424.0,127.0h1.6v1.6h-1.6zM424.0,129.3h1.6v1.6h-1.6zM424.0,125.9h1.6v1.6h-1.6zM424.0,132.8h1.6v1.6h-1.6zM424.0,128.8h1.6v1.6h-1.6zM424.0,135.1h1.6v1.6h-1.6zM424.0,142.7h1.6v1.6h-1.6zM424.0,127.2h1.6v1.6h-1.6zM424.0,133.7h1.6v1.6h-1.6zM424.0,121.7h1.6v1.6h-1.6zM424.0,139.5h1.6v1.6h-1.6zM424.0,132.3h1.6v1.6h-1.6zM424.0,133.8h1.6v1.6h-1.6zM424.0,133.0h1.6v1.6h-1.6zM424.0,122.2h1.6v1.6h-1.6zM424.0,140.6h1.6v1.6h-1.6zM424.0,119.7h1.6v1.6h-1.6zM424.0,124.1h1.6v1.6h-1.6zM424.0,131.1h1.6v1.6h-1.6zM424.0,141.7h1.6v1.6h-1.6zM424.0,136.3h1.6v1.6h-1.6zM424.0,141.2h1.6v1.6h-1.6zM426.0,124.9h1.6v1.6h-1.6zM426.0,129.1h1.6v1.6h-1.6zM426.0,130.1h1.6v1.6h-1.6zM426.0,122.7h1.6v1.6h-1.6zM426.0,119.9h1.6v1.6h-1.6zM426.0,124.9h1.6v1.6h-1.6zM426.0,119.8h1.6v1.6h-1.6zM426.0,118.1h1.6v1.6h-1.6zM426.0,121.6h1.6v1.6h-1.6zM426.0,135.4h1.6v1.6h-1.6zM426.0,130.4h1.6v1.6h-1.6zM426.0,133.1h1.6v1.6h-1.6zM426.0,129.6h1.6v1.6h-1.6zM426.0,127.7h1.6v1.6h-1.6zM426.0,136.0h1.6v1.6h-1.6zM426.0,125.0h1.6v1.6h-1.6zM426.0,123.3h1.6v1.6h-1.6zM426.0,123.8h1.6v1.6h-1.6zM426.0,119.5h1.6v1.6h-1.6zM427.2,123.7h1.6v1.6h-1.6zM434.6,122.5h1.6v1.6h-1.6zM432.7,124.0h1.6v1.6h-1.6zM436.0,123.2h1.6v1.6h-1.6zM432.4,131.4h1.6v1.6h-1.6zM435.6,133.7h1.6v1.6h-1.6zM427.2,126.9h1.6v1.6h-1.6zM429.3,133.7h1.6v1.6h-1.6zM430.0,132.3h1.6v1.6h-1.6zM433.2,131.7h1.6v1.6h-1.6zM436.6,133.2h1.6v1.6h-1.6zM437.7,125.9h1.6v1.6h-1.6zM435.1,134.1h1.6v1.6h-1.6zM436.6,126.5h1.6v1.6h-1.6zM436.9,131.9h1.6v1.6h-1.6zM432.3,126.5h1.6v1.6h-1.6zM432.2,134.4h1.6v1.6h-1.6zM429.8,134.7h1.6v1.6h-1.6zM428.6,123.5h1.6v1.6h-1.6zM435.9,130.7h1.6v1.6h-1.6zM430.7,124.2h1.6v1.6h-1.6zM433.8,131.5h1.6v1.6h-1.6zM431.6,126.9h1.6v1.6h-1.6zM432.2,132.7h1.6v1.6h-1.6zM437.8,129.5h1.6v1.6h-1.6zM430.0,126.2h1.6v1.6h-1.6zM432.0,129.4h1.6v1.6h-1.6zM430.8,129.1h1.6v1.6h-1.6zM433.3,128.1h1.6v1.6h-1.6zM438.6,126.1h1.6v1.6h-1.6zM430.0,119.5h1.6v1.6h-1.6zM427.1,130.4h1.6v1.6h-1.6zM437.7,130.0h1.6v1.6h-1.6zM429.5,119.9h1.6v1.6h-1.6zM432.4,120.5h1.6v1.6h-1.6zM427.9,129.5h1.6v1.6h-1.6zM428.8,127.1h1.6v1.6h-1.6zM437.2,127.2h1.6v1.6h-1.6zM431.6,127.5h1.6v1.6h-1.6zM438.0,122.3h1.6v1.6h-1.6zM435.5,123.2h1.6v1.6h-1.6zM434.4,120.0h1.6v1.6h-1.6zM427.6,122.7h1.6v1.6h-1.6zM435.5,123.2h1.6v1.6h-1.6zM435.7,124.3h1.6v1.6h-1.6zM437.2,133.7h1.6v1.6h-1.6zM436.0,122.7h1.6v1.6h-1.6zM427.8,126.7h1.6v1.6h-1.6zM430.2,119.8h1.6v1.6h-1.6zM435.7,132.7h1.6v1.6h-1.6zM437.2,134.0h1.6v1.6h-1.6zM433.9,127.6h1.6v1.6h-1.6zM438.9,125.5h1.6v1.6h-1.6zM436.2,124.0h1.6v1.6h-1.6zM438.3,129.3h1.6v1.6h-1.6zM439.0,133.0h1.6v1.6h-1.6zM434.4,127.6h1.6v1.6h-1.6zM429.0,122.6h1.6v1.6h-1.6zM427.9,129.2h1.6v1.6h-1.6zM429.6,119.7h1.6v1.6h-1.6zM443.2,123.1h1.6v1.6h-1.6zM437.1,117.6h1.6v1.6h-1.6zM446.8,123.5h1.6v1.6h-1.6zM445.5,117.7h1.6v1.6h-1.6zM436.7,123.0h1.6v1.6h-1.6zM443.0,122.0h1.6v1.6h-1.6zM436.8,122.5h1.6v1.6h-1.6zM446.2,120.7h1.6v1.6h-1.6zM442.3,116.5h1.6v1.6h-1.6zM440.6,117.2h1.6v1.6h-1.6zM436.9,127.0h1.6v1.6h-1.6zM439.4,116.0h1.6v1.6h-1.6zM429.9,112.6h1.6v1.6h-1.6zM443.4,115.3h1.6v1.6h-1.6zM447.4,119.3h1.6v1.6h-1.6zM446.7,125.4h1.6v1.6h-1.6zM431.9,144.4h1.6v1.6h-1.6zM428.0,152.4h1.6v1.6h-1.6z" fill="#e0202a"/>
<text x="495.80" y="207.80" font-size="8" text-anchor="middle" textLength="45.00" lengthAdjust="spacingAndGlyphs" stroke="#000" stroke-width="0.144">12 ng/mL</text>
<text x="496.60" y="218.20" font-size="8" text-anchor="middle" textLength="19.00" lengthAdjust="spacingAndGlyphs" stroke="#000" stroke-width="0.144">SLO</text>
<rect x="332.30" y="174.80" width="63.30" height="57.80" fill="none" stroke="#888" stroke-width="0.9" />
<text x="329.40" y="186.80" font-size="4.6" text-anchor="end" fill="#333" textLength="5.54" lengthAdjust="spacingAndGlyphs" stroke="#333" stroke-width="0.083">4k</text>
<text x="329.40" y="223.30" font-size="4.6" text-anchor="end" fill="#333" textLength="8.75" lengthAdjust="spacingAndGlyphs" stroke="#333" stroke-width="0.083">400</text>
<line x1="330.80" y1="184.80" x2="332.30" y2="184.80" stroke="#666" stroke-width="0.5" />
<line x1="330.80" y1="221.50" x2="332.30" y2="221.50" stroke="#666" stroke-width="0.5" />
<line x1="395.60" y1="184.80" x2="397.10" y2="184.80" stroke="#666" stroke-width="0.5" />
<line x1="395.60" y1="221.50" x2="397.10" y2="221.50" stroke="#666" stroke-width="0.5" />
<text x="354.40" y="238.20" font-size="4.6" text-anchor="middle" fill="#333" textLength="8.75" lengthAdjust="spacingAndGlyphs" stroke="#333" stroke-width="0.083">100</text>
<text x="393.90" y="238.40" font-size="4.6" text-anchor="middle" fill="#333" textLength="5.54" lengthAdjust="spacingAndGlyphs" stroke="#333" stroke-width="0.083">1k</text>
<path d="M335.9,191.2h1.6v1.6h-1.6zM335.9,188.8h1.6v1.6h-1.6zM335.9,194.5h1.6v1.6h-1.6zM335.9,192.1h1.6v1.6h-1.6zM335.9,191.8h1.6v1.6h-1.6zM340.4,199.8h1.6v1.6h-1.6zM340.4,185.5h1.6v1.6h-1.6zM340.4,197.3h1.6v1.6h-1.6zM340.4,187.7h1.6v1.6h-1.6zM340.4,188.2h1.6v1.6h-1.6zM340.4,189.4h1.6v1.6h-1.6zM340.4,196.4h1.6v1.6h-1.6zM340.4,199.8h1.6v1.6h-1.6zM340.4,195.9h1.6v1.6h-1.6zM340.4,189.3h1.6v1.6h-1.6zM344.0,185.8h1.6v1.6h-1.6zM344.0,187.3h1.6v1.6h-1.6zM344.0,186.6h1.6v1.6h-1.6zM344.0,189.3h1.6v1.6h-1.6zM344.0,189.4h1.6v1.6h-1.6zM347.4,185.8h1.6v1.6h-1.6zM347.4,186.7h1.6v1.6h-1.6zM347.4,193.6h1.6v1.6h-1.6zM347.4,191.8h1.6v1.6h-1.6zM347.4,185.6h1.6v1.6h-1.6zM347.4,193.4h1.6v1.6h-1.6zM359.1,188.5h1.6v1.6h-1.6zM361.2,189.2h1.6v1.6h-1.6zM359.0,188.5h1.6v1.6h-1.6zM359.7,189.6h1.6v1.6h-1.6zM360.6,187.7h1.6v1.6h-1.6zM356.6,188.4h1.6v1.6h-1.6zM358.1,189.4h1.6v1.6h-1.6zM360.0,187.8h1.6v1.6h-1.6zM358.9,188.9h1.6v1.6h-1.6zM359.3,188.1h1.6v1.6h-1.6zM335.9,202.0h1.6v1.6h-1.6zM335.9,203.3h1.6v1.6h-1.6zM335.9,207.5h1.6v1.6h-1.6zM335.9,225.0h1.6v1.6h-1.6zM335.9,226.3h1.6v1.6h-1.6zM340.4,217.6h1.6v1.6h-1.6zM344.0,180.0h1.6v1.6h-1.6zM344.0,203.0h1.6v1.6h-1.6zM344.0,207.0h1.6v1.6h-1.6zM344.0,217.6h1.6v1.6h-1.6zM350.1,186.0h1.6v1.6h-1.6zM350.1,187.4h1.6v1.6h-1.6zM350.1,202.3h1.6v1.6h-1.6zM350.1,214.4h1.6v1.6h-1.6zM353.0,190.7h1.6v1.6h-1.6zM353.0,194.0h1.6v1.6h-1.6zM355.0,183.0h1.6v1.6h-1.6zM355.0,205.5h1.6v1.6h-1.6zM357.1,193.0h1.6v1.6h-1.6zM359.1,199.0h1.6v1.6h-1.6zM359.1,219.6h1.6v1.6h-1.6zM362.4,181.3h1.6v1.6h-1.6zM363.1,183.0h1.6v1.6h-1.6zM366.2,186.0h1.6v1.6h-1.6zM368.2,191.0h1.6v1.6h-1.6zM370.9,192.0h1.6v1.6h-1.6zM370.0,191.3h1.6v1.6h-1.6zM372.9,179.3h1.6v1.6h-1.6zM383.0,182.7h1.6v1.6h-1.6zM383.0,205.5h1.6v1.6h-1.6z" fill="#1f8a3a"/>
<rect x="408.90" y="174.80" width="63.00" height="57.80" fill="none" stroke="#888" stroke-width="0.9" />
<text x="406.00" y="186.80" font-size="4.6" text-anchor="end" fill="#333" textLength="5.54" lengthAdjust="spacingAndGlyphs" stroke="#333" stroke-width="0.083">4k</text>
<text x="406.00" y="223.30" font-size="4.6" text-anchor="end" fill="#333" textLength="8.75" lengthAdjust="spacingAndGlyphs" stroke="#333" stroke-width="0.083">400</text>
<line x1="407.40" y1="184.80" x2="408.90" y2="184.80" stroke="#666" stroke-width="0.5" />
<line x1="407.40" y1="221.50" x2="408.90" y2="221.50" stroke="#666" stroke-width="0.5" />
<line x1="471.90" y1="184.80" x2="473.40" y2="184.80" stroke="#666" stroke-width="0.5" />
<line x1="471.90" y1="221.50" x2="473.40" y2="221.50" stroke="#666" stroke-width="0.5" />
<text x="431.00" y="238.20" font-size="4.6" text-anchor="middle" fill="#333" textLength="8.75" lengthAdjust="spacingAndGlyphs" stroke="#333" stroke-width="0.083">100</text>
<text x="470.50" y="238.40" font-size="4.6" text-anchor="middle" fill="#333" textLength="5.54" lengthAdjust="spacingAndGlyphs" stroke="#333" stroke-width="0.083">1k</text>
<path d="M414.4,194.5h1.6v1.6h-1.6zM414.4,211.8h1.6v1.6h-1.6zM414.4,205.3h1.6v1.6h-1.6zM414.4,223.4h1.6v1.6h-1.6zM414.4,212.9h1.6v1.6h-1.6zM414.4,209.7h1.6v1.6h-1.6zM414.4,224.2h1.6v1.6h-1.6zM414.4,201.4h1.6v1.6h-1.6zM414.4,221.1h1.6v1.6h-1.6zM414.4,206.2h1.6v1.6h-1.6zM414.4,215.1h1.6v1.6h-1.6zM414.4,225.3h1.6v1.6h-1.6zM414.4,219.6h1.6v1.6h-1.6zM414.4,212.6h1.6v1.6h-1.6zM414.4,219.6h1.6v1.6h-1.6zM414.4,192.3h1.6v1.6h-1.6zM414.4,206.4h1.6v1.6h-1.6zM414.4,221.5h1.6v1.6h-1.6zM414.4,217.8h1.6v1.6h-1.6zM414.4,207.2h1.6v1.6h-1.6zM414.4,199.4h1.6v1.6h-1.6zM414.4,203.5h1.6v1.6h-1.6zM414.4,206.4h1.6v1.6h-1.6zM414.4,195.4h1.6v1.6h-1.6zM414.4,224.2h1.6v1.6h-1.6zM414.4,214.1h1.6v1.6h-1.6zM414.4,209.9h1.6v1.6h-1.6zM414.4,197.8h1.6v1.6h-1.6zM414.4,202.7h1.6v1.6h-1.6zM414.4,205.8h1.6v1.6h-1.6zM414.4,196.5h1.6v1.6h-1.6zM414.4,203.1h1.6v1.6h-1.6zM414.4,204.2h1.6v1.6h-1.6zM414.4,217.2h1.6v1.6h-1.6zM414.4,223.2h1.6v1.6h-1.6zM414.4,191.7h1.6v1.6h-1.6zM414.4,196.2h1.6v1.6h-1.6zM414.4,221.3h1.6v1.6h-1.6zM414.4,191.7h1.6v1.6h-1.6zM418.4,197.5h1.6v1.6h-1.6zM418.4,209.4h1.6v1.6h-1.6zM418.4,208.2h1.6v1.6h-1.6zM418.4,195.9h1.6v1.6h-1.6zM418.4,216.8h1.6v1.6h-1.6zM418.4,215.2h1.6v1.6h-1.6zM418.4,187.6h1.6v1.6h-1.6zM418.4,215.2h1.6v1.6h-1.6zM418.4,202.1h1.6v1.6h-1.6zM418.4,206.6h1.6v1.6h-1.6zM418.4,209.9h1.6v1.6h-1.6zM418.4,212.8h1.6v1.6h-1.6zM418.4,218.7h1.6v1.6h-1.6zM418.4,194.5h1.6v1.6h-1.6zM418.4,194.8h1.6v1.6h-1.6zM418.4,195.4h1.6v1.6h-1.6zM418.4,194.5h1.6v1.6h-1.6zM418.4,218.2h1.6v1.6h-1.6zM418.4,220.9h1.6v1.6h-1.6zM418.4,201.6h1.6v1.6h-1.6zM418.4,214.2h1.6v1.6h-1.6zM418.4,218.3h1.6v1.6h-1.6zM418.4,221.0h1.6v1.6h-1.6zM418.4,217.4h1.6v1.6h-1.6zM418.4,210.1h1.6v1.6h-1.6zM418.4,218.6h1.6v1.6h-1.6zM418.4,200.1h1.6v1.6h-1.6zM418.4,210.6h1.6v1.6h-1.6zM418.4,198.0h1.6v1.6h-1.6zM418.4,203.2h1.6v1.6h-1.6zM422.0,202.3h1.6v1.6h-1.6zM422.0,206.5h1.6v1.6h-1.6zM422.0,188.8h1.6v1.6h-1.6zM422.0,204.4h1.6v1.6h-1.6zM422.0,206.5h1.6v1.6h-1.6zM422.0,221.3h1.6v1.6h-1.6zM422.0,214.1h1.6v1.6h-1.6zM422.0,194.1h1.6v1.6h-1.6zM422.0,202.8h1.6v1.6h-1.6zM422.0,215.8h1.6v1.6h-1.6zM422.0,191.7h1.6v1.6h-1.6zM422.0,219.6h1.6v1.6h-1.6zM422.0,190.4h1.6v1.6h-1.6zM422.0,212.8h1.6v1.6h-1.6zM422.0,208.9h1.6v1.6h-1.6zM422.0,223.0h1.6v1.6h-1.6zM422.0,201.9h1.6v1.6h-1.6zM422.0,199.8h1.6v1.6h-1.6zM422.0,195.1h1.6v1.6h-1.6zM422.0,198.6h1.6v1.6h-1.6zM422.0,200.1h1.6v1.6h-1.6zM422.0,209.4h1.6v1.6h-1.6zM422.0,198.7h1.6v1.6h-1.6zM422.0,195.1h1.6v1.6h-1.6zM422.0,219.7h1.6v1.6h-1.6zM422.0,191.2h1.6v1.6h-1.6zM422.0,222.9h1.6v1.6h-1.6zM422.0,198.0h1.6v1.6h-1.6zM422.0,216.1h1.6v1.6h-1.6zM422.0,215.0h1.6v1.6h-1.6zM425.1,219.6h1.6v1.6h-1.6zM425.1,213.8h1.6v1.6h-1.6zM425.1,189.8h1.6v1.6h-1.6zM425.1,213.4h1.6v1.6h-1.6zM425.1,220.0h1.6v1.6h-1.6zM425.1,214.3h1.6v1.6h-1.6zM425.1,205.9h1.6v1.6h-1.6zM425.1,191.0h1.6v1.6h-1.6zM425.1,190.2h1.6v1.6h-1.6zM425.1,197.3h1.6v1.6h-1.6zM425.1,212.2h1.6v1.6h-1.6zM425.1,194.4h1.6v1.6h-1.6zM425.1,207.2h1.6v1.6h-1.6zM425.1,213.2h1.6v1.6h-1.6zM425.1,207.4h1.6v1.6h-1.6zM425.1,212.5h1.6v1.6h-1.6zM425.1,214.7h1.6v1.6h-1.6zM425.1,212.3h1.6v1.6h-1.6zM425.1,189.7h1.6v1.6h-1.6zM425.1,210.3h1.6v1.6h-1.6zM425.1,207.6h1.6v1.6h-1.6zM425.1,215.4h1.6v1.6h-1.6zM427.4,194.5h1.6v1.6h-1.6zM427.4,190.3h1.6v1.6h-1.6zM427.4,186.9h1.6v1.6h-1.6zM427.4,201.7h1.6v1.6h-1.6zM427.4,191.0h1.6v1.6h-1.6zM427.4,213.6h1.6v1.6h-1.6zM427.4,206.6h1.6v1.6h-1.6zM427.4,198.9h1.6v1.6h-1.6zM427.4,197.6h1.6v1.6h-1.6zM427.4,188.3h1.6v1.6h-1.6zM427.4,189.9h1.6v1.6h-1.6zM427.4,217.9h1.6v1.6h-1.6zM427.4,191.3h1.6v1.6h-1.6zM427.4,204.8h1.6v1.6h-1.6zM427.4,206.2h1.6v1.6h-1.6zM427.4,212.8h1.6v1.6h-1.6zM427.4,191.1h1.6v1.6h-1.6zM427.4,199.6h1.6v1.6h-1.6zM427.4,190.0h1.6v1.6h-1.6zM427.4,189.3h1.6v1.6h-1.6zM427.4,198.9h1.6v1.6h-1.6zM427.4,204.6h1.6v1.6h-1.6zM427.4,196.9h1.6v1.6h-1.6zM431.8,200.0h1.6v1.6h-1.6zM428.4,206.0h1.6v1.6h-1.6zM428.3,196.9h1.6v1.6h-1.6zM434.9,188.9h1.6v1.6h-1.6zM429.5,189.1h1.6v1.6h-1.6zM429.4,200.5h1.6v1.6h-1.6zM435.2,208.3h1.6v1.6h-1.6zM433.1,206.6h1.6v1.6h-1.6zM432.1,199.4h1.6v1.6h-1.6zM437.2,189.2h1.6v1.6h-1.6zM436.8,194.8h1.6v1.6h-1.6zM432.3,207.7h1.6v1.6h-1.6zM432.3,207.4h1.6v1.6h-1.6zM434.5,191.7h1.6v1.6h-1.6zM437.4,189.3h1.6v1.6h-1.6zM434.7,195.2h1.6v1.6h-1.6zM437.3,193.6h1.6v1.6h-1.6zM429.8,193.8h1.6v1.6h-1.6zM434.9,196.8h1.6v1.6h-1.6zM433.9,207.2h1.6v1.6h-1.6zM434.9,205.5h1.6v1.6h-1.6zM430.7,190.4h1.6v1.6h-1.6zM432.9,192.3h1.6v1.6h-1.6zM435.3,199.9h1.6v1.6h-1.6zM433.8,193.0h1.6v1.6h-1.6zM431.9,205.5h1.6v1.6h-1.6zM434.2,195.4h1.6v1.6h-1.6zM433.3,199.2h1.6v1.6h-1.6zM436.2,201.7h1.6v1.6h-1.6zM429.1,190.5h1.6v1.6h-1.6zM430.2,205.4h1.6v1.6h-1.6zM431.7,188.8h1.6v1.6h-1.6zM434.2,197.7h1.6v1.6h-1.6zM430.3,190.2h1.6v1.6h-1.6zM434.8,199.4h1.6v1.6h-1.6zM436.9,192.9h1.6v1.6h-1.6zM431.6,205.6h1.6v1.6h-1.6zM435.0,193.3h1.6v1.6h-1.6zM430.5,203.3h1.6v1.6h-1.6zM432.1,188.7h1.6v1.6h-1.6zM432.5,207.5h1.6v1.6h-1.6zM432.8,196.8h1.6v1.6h-1.6zM431.7,190.3h1.6v1.6h-1.6zM436.4,191.5h1.6v1.6h-1.6zM432.1,198.2h1.6v1.6h-1.6zM430.7,189.7h1.6v1.6h-1.6zM428.6,206.6h1.6v1.6h-1.6zM437.0,199.7h1.6v1.6h-1.6zM437.4,206.3h1.6v1.6h-1.6zM434.6,192.7h1.6v1.6h-1.6zM439.0,186.5h1.6v1.6h-1.6zM445.6,186.3h1.6v1.6h-1.6zM448.1,196.0h1.6v1.6h-1.6zM447.2,192.9h1.6v1.6h-1.6zM447.2,192.7h1.6v1.6h-1.6zM440.2,199.3h1.6v1.6h-1.6zM436.5,197.8h1.6v1.6h-1.6zM443.3,199.2h1.6v1.6h-1.6zM447.4,187.2h1.6v1.6h-1.6zM441.1,193.2h1.6v1.6h-1.6zM443.9,187.4h1.6v1.6h-1.6zM447.4,186.9h1.6v1.6h-1.6zM436.5,199.6h1.6v1.6h-1.6zM442.9,199.5h1.6v1.6h-1.6zM445.4,186.6h1.6v1.6h-1.6zM448.1,192.7h1.6v1.6h-1.6zM448.8,200.0h1.6v1.6h-1.6zM455.5,195.0h1.6v1.6h-1.6zM458.9,191.0h1.6v1.6h-1.6zM458.4,192.2h1.6v1.6h-1.6z" fill="#1f8a3a"/>
<text x="1.00" y="139.20" font-size="11" font-weight="bold">C</text>
<line x1="41.90" y1="152.20" x2="41.90" y2="223.40" stroke="#555" stroke-width="1.1" />
<line x1="39.50" y1="223.40" x2="41.90" y2="223.40" stroke="#555" stroke-width="0.9" />
<text x="37.90" y="226.00" font-size="6.8" text-anchor="end" fill="#222" textLength="4.16" lengthAdjust="spacingAndGlyphs" stroke="#222" stroke-width="0.122">0</text>
<line x1="39.50" y1="205.90" x2="41.90" y2="205.90" stroke="#555" stroke-width="0.9" />
<text x="37.90" y="208.50" font-size="6.8" text-anchor="end" fill="#222" textLength="12.48" lengthAdjust="spacingAndGlyphs" stroke="#222" stroke-width="0.122">100</text>
<line x1="39.50" y1="188.40" x2="41.90" y2="188.40" stroke="#555" stroke-width="0.9" />
<text x="37.90" y="191.00" font-size="6.8" text-anchor="end" fill="#222" textLength="12.48" lengthAdjust="spacingAndGlyphs" stroke="#222" stroke-width="0.122">200</text>
<line x1="39.50" y1="170.90" x2="41.90" y2="170.90" stroke="#555" stroke-width="0.9" />
<text x="37.90" y="173.50" font-size="6.8" text-anchor="end" fill="#222" textLength="12.48" lengthAdjust="spacingAndGlyphs" stroke="#222" stroke-width="0.122">300</text>
<line x1="39.50" y1="153.40" x2="41.90" y2="153.40" stroke="#555" stroke-width="0.9" />
<text x="37.90" y="156.00" font-size="6.8" text-anchor="end" fill="#222" textLength="12.48" lengthAdjust="spacingAndGlyphs" stroke="#222" stroke-width="0.122">400</text>
<line x1="41.90" y1="223.40" x2="253.60" y2="223.40" stroke="#555" stroke-width="1.1" />
<line x1="77.10" y1="223.40" x2="77.10" y2="243.40" stroke="#555" stroke-width="1.1" />
<line x1="112.10" y1="223.40" x2="112.10" y2="263.40" stroke="#555" stroke-width="1.1" />
<line x1="147.00" y1="223.40" x2="147.00" y2="243.40" stroke="#555" stroke-width="1.1" />
<line x1="182.30" y1="223.40" x2="182.30" y2="263.40" stroke="#555" stroke-width="1.1" />
<line x1="217.60" y1="223.40" x2="217.60" y2="243.40" stroke="#555" stroke-width="1.1" />
<line x1="253.60" y1="223.40" x2="253.60" y2="263.40" stroke="#555" stroke-width="1.1" />
<line x1="41.90" y1="223.40" x2="41.90" y2="263.40" stroke="#555" stroke-width="1.1" />
<text x="60.60" y="237.70" font-size="8.6" text-anchor="middle" fill="#111" textLength="26.60" lengthAdjust="spacingAndGlyphs" stroke="#111" stroke-width="0.155">Before</text>
<text x="94.60" y="237.70" font-size="8.6" text-anchor="middle" fill="#111" textLength="19.60" lengthAdjust="spacingAndGlyphs" stroke="#111" stroke-width="0.155">After</text>
<text x="130.00" y="237.70" font-size="8.6" text-anchor="middle" fill="#111" textLength="26.60" lengthAdjust="spacingAndGlyphs" stroke="#111" stroke-width="0.155">Before</text>
<text x="164.80" y="237.70" font-size="8.6" text-anchor="middle" fill="#111" textLength="19.60" lengthAdjust="spacingAndGlyphs" stroke="#111" stroke-width="0.155">After</text>
<text x="200.30" y="237.70" font-size="8.6" text-anchor="middle" fill="#111" textLength="26.60" lengthAdjust="spacingAndGlyphs" stroke="#111" stroke-width="0.155">Before</text>
<text x="235.60" y="237.70" font-size="8.6" text-anchor="middle" fill="#111" textLength="19.60" lengthAdjust="spacingAndGlyphs" stroke="#111" stroke-width="0.155">After</text>
<text x="77.10" y="255.70" font-size="8.2" text-anchor="middle" fill="#111" textLength="44.00" lengthAdjust="spacingAndGlyphs" stroke="#111" stroke-width="0.148">0.1 μg/mL</text>
<text x="77.10" y="266.50" font-size="8.2" text-anchor="middle" fill="#111" textLength="18.60" lengthAdjust="spacingAndGlyphs" stroke="#111" stroke-width="0.148">PFN</text>
<text x="147.00" y="255.70" font-size="8.2" text-anchor="middle" fill="#111" textLength="21.80" lengthAdjust="spacingAndGlyphs" stroke="#111" stroke-width="0.148">5 μM</text>
<text x="147.00" y="266.50" font-size="8.2" text-anchor="middle" fill="#111" textLength="44.50" lengthAdjust="spacingAndGlyphs" stroke="#111" stroke-width="0.148">Ionomycin</text>
<text x="217.60" y="255.70" font-size="8.2" text-anchor="middle" fill="#111" textLength="41.00" lengthAdjust="spacingAndGlyphs" stroke="#111" stroke-width="0.148">12 ng/mL</text>
<text x="217.60" y="266.50" font-size="8.2" text-anchor="middle" fill="#111" textLength="18.00" lengthAdjust="spacingAndGlyphs" stroke="#111" stroke-width="0.148">SLO</text>
<text x="7.70" y="187.50" font-size="8.4" text-anchor="middle" transform="rotate(-90 7.70 187.50)" textLength="47.00" lengthAdjust="spacingAndGlyphs" stroke="#000" stroke-width="0.151">Number of</text>
<text x="19.10" y="187.50" font-size="8.4" text-anchor="middle" transform="rotate(-90 19.10 187.50)" textLength="69.00" lengthAdjust="spacingAndGlyphs" stroke="#000" stroke-width="0.151">new AP-2 spots</text>
<path d="M58.3,149.9 L58.3,147.9 L94.8,147.9 L94.8,149.9" fill="none" stroke="#5a6468" stroke-width="0.9" />
<text x="76.55" y="146.10" font-size="6.9" text-anchor="middle" fill="#222" textLength="25.44" lengthAdjust="spacingAndGlyphs" stroke="#222" stroke-width="0.124"><tspan font-style="italic">P</tspan> = .03</text>
<path d="M128.3,149.9 L128.3,147.9 L166,147.9 L166,149.9" fill="none" stroke="#5a6468" stroke-width="0.9" />
<text x="147.15" y="146.10" font-size="6.9" text-anchor="middle" fill="#222" textLength="25.44" lengthAdjust="spacingAndGlyphs" stroke="#222" stroke-width="0.124"><tspan font-style="italic">P</tspan> = .45</text>
<path d="M200,149.9 L200,147.9 L236.2,147.9 L236.2,149.9" fill="none" stroke="#5a6468" stroke-width="0.9" />
<text x="218.10" y="146.10" font-size="6.9" text-anchor="middle" fill="#222" textLength="34.34" lengthAdjust="spacingAndGlyphs" stroke="#222" stroke-width="0.124"><tspan font-style="italic">P</tspan> = .0001</text>
<path d="M56.2,197.0 L59.6,195.4 L63.0,197.0 L59.6,198.6 Z" fill="#1c2d82" stroke="none" stroke-width="1" />
<path d="M56.300000000000004,208.6 L59.6,205.20000000000002 L62.9,208.6 Z" fill="#1e9038" stroke="none" stroke-width="1" />
<rect x="56.40" y="190.75" width="6.40" height="3.70" fill="#dc1f2c" stroke="none" stroke-width="1" />
<rect x="55.20" y="198.20" width="8.80" height="1.60" fill="#000" stroke="none" stroke-width="1" />
<path d="M90.69999999999999,173.9 L94.1,172.3 L97.5,173.9 L94.1,175.5 Z" fill="#1c2d82" stroke="none" stroke-width="1" />
<path d="M90.8,181.5 L94.1,178.10000000000002 L97.39999999999999,181.5 Z" fill="#1e9038" stroke="none" stroke-width="1" />
<rect x="90.90" y="152.35" width="6.40" height="3.70" fill="#dc1f2c" stroke="none" stroke-width="1" />
<rect x="89.70" y="168.80" width="8.80" height="1.60" fill="#000" stroke="none" stroke-width="1" />
<path d="M126.4,185.3 L129.8,183.70000000000002 L133.20000000000002,185.3 L129.8,186.9 Z" fill="#1c2d82" stroke="none" stroke-width="1" />
<path d="M126.50000000000001,193.6 L129.8,190.20000000000002 L133.10000000000002,193.6 Z" fill="#1e9038" stroke="none" stroke-width="1" />
<rect x="126.60" y="194.95" width="6.40" height="3.70" fill="#dc1f2c" stroke="none" stroke-width="1" />
<rect x="125.40" y="189.90" width="8.80" height="1.60" fill="#000" stroke="none" stroke-width="1" />
<path d="M162.89999999999998,180.0 L166.2,176.60000000000002 L169.5,180.0 Z" fill="#1e9038" stroke="none" stroke-width="1" />
<rect x="163.00" y="185.35" width="6.40" height="3.70" fill="#dc1f2c" stroke="none" stroke-width="1" />
<rect x="161.80" y="182.20" width="8.80" height="1.60" fill="#000" stroke="none" stroke-width="1" />
<path d="M197.4,206.0 L200.8,204.4 L204.20000000000002,206.0 L200.8,207.6 Z" fill="#1c2d82" stroke="none" stroke-width="1" />
<path d="M197.5,209.2 L200.8,205.8 L204.10000000000002,209.2 Z" fill="#1e9038" stroke="none" stroke-width="1" />
<rect x="197.60" y="199.55" width="6.40" height="3.70" fill="#dc1f2c" stroke="none" stroke-width="1" />
<rect x="196.40" y="203.40" width="8.80" height="1.60" fill="#000" stroke="none" stroke-width="1" />
<path d="M230.0,177.4 L233.4,175.8 L236.8,177.4 L233.4,179.0 Z" fill="#1c2d82" stroke="none" stroke-width="1" />
<rect x="230.20" y="171.15" width="6.40" height="3.70" fill="#dc1f2c" stroke="none" stroke-width="1" />
<rect x="229.00" y="175.70" width="8.80" height="1.60" fill="#000" stroke="none" stroke-width="1" />
<rect x="252.30" y="172.15" width="6.40" height="3.70" fill="#dc1f2c" stroke="none" stroke-width="1" />
<text x="261.80" y="176.70" font-size="8.5" fill="#111" textLength="24.80" lengthAdjust="spacingAndGlyphs" stroke="#111" stroke-width="0.153">Cell 1</text>
<path d="M252.2,183.7 L255.5,182.2 L258.8,183.7 L255.5,185.2 Z" fill="#1c2d82" stroke="none" stroke-width="1" />
<text x="261.80" y="186.40" font-size="8.5" fill="#111" textLength="24.80" lengthAdjust="spacingAndGlyphs" stroke="#111" stroke-width="0.153">Cell 2</text>
<path d="M252.2,194.6 L255.5,191.20000000000002 L258.8,194.6 Z" fill="#1e9038" stroke="none" stroke-width="1" />
<text x="261.80" y="195.60" font-size="8.5" fill="#111" textLength="24.80" lengthAdjust="spacingAndGlyphs" stroke="#111" stroke-width="0.153">Cell 3</text>
<rect x="252.10" y="201.85" width="7.90" height="1.70" fill="#000" stroke="none" stroke-width="1" />
<text x="261.80" y="205.40" font-size="8.5" fill="#111" textLength="24.40" lengthAdjust="spacingAndGlyphs" stroke="#111" stroke-width="0.153">Mean</text>
<text x="1.00" y="284.20" font-size="11" font-weight="bold">D</text>
<line x1="41.90" y1="299.20" x2="41.90" y2="382.50" stroke="#555" stroke-width="1.1" />
<line x1="39.50" y1="382.50" x2="41.90" y2="382.50" stroke="#555" stroke-width="0.9" />
<text x="37.90" y="385.10" font-size="6.8" text-anchor="end" fill="#222" textLength="4.16" lengthAdjust="spacingAndGlyphs" stroke="#222" stroke-width="0.122">0</text>
<line x1="39.50" y1="366.16" x2="41.90" y2="366.16" stroke="#555" stroke-width="0.9" />
<text x="37.90" y="368.76" font-size="6.8" text-anchor="end" fill="#222" textLength="12.48" lengthAdjust="spacingAndGlyphs" stroke="#222" stroke-width="0.122">100</text>
<line x1="39.50" y1="349.82" x2="41.90" y2="349.82" stroke="#555" stroke-width="0.9" />
<text x="37.90" y="352.42" font-size="6.8" text-anchor="end" fill="#222" textLength="12.48" lengthAdjust="spacingAndGlyphs" stroke="#222" stroke-width="0.122">200</text>
<line x1="39.50" y1="333.48" x2="41.90" y2="333.48" stroke="#555" stroke-width="0.9" />
<text x="37.90" y="336.08" font-size="6.8" text-anchor="end" fill="#222" textLength="12.48" lengthAdjust="spacingAndGlyphs" stroke="#222" stroke-width="0.122">300</text>
<line x1="39.50" y1="317.14" x2="41.90" y2="317.14" stroke="#555" stroke-width="0.9" />
<text x="37.90" y="319.74" font-size="6.8" text-anchor="end" fill="#222" textLength="12.48" lengthAdjust="spacingAndGlyphs" stroke="#222" stroke-width="0.122">400</text>
<line x1="39.50" y1="300.80" x2="41.90" y2="300.80" stroke="#555" stroke-width="0.9" />
<text x="37.90" y="303.40" font-size="6.8" text-anchor="end" fill="#222" textLength="12.48" lengthAdjust="spacingAndGlyphs" stroke="#222" stroke-width="0.122">500</text>
<line x1="41.90" y1="382.50" x2="253.60" y2="382.50" stroke="#555" stroke-width="1.1" />
<line x1="77.10" y1="382.50" x2="77.10" y2="402.50" stroke="#555" stroke-width="1.1" />
<line x1="112.10" y1="382.50" x2="112.10" y2="422.50" stroke="#555" stroke-width="1.1" />
<line x1="147.00" y1="382.50" x2="147.00" y2="402.50" stroke="#555" stroke-width="1.1" />
<line x1="182.30" y1="382.50" x2="182.30" y2="422.50" stroke="#555" stroke-width="1.1" />
<line x1="217.60" y1="382.50" x2="217.60" y2="402.50" stroke="#555" stroke-width="1.1" />
<line x1="253.60" y1="382.50" x2="253.60" y2="422.50" stroke="#555" stroke-width="1.1" />
<line x1="41.90" y1="382.50" x2="41.90" y2="422.50" stroke="#555" stroke-width="1.1" />
<text x="60.60" y="396.80" font-size="8.6" text-anchor="middle" fill="#111" textLength="26.60" lengthAdjust="spacingAndGlyphs" stroke="#111" stroke-width="0.155">Before</text>
<text x="94.60" y="396.80" font-size="8.6" text-anchor="middle" fill="#111" textLength="19.60" lengthAdjust="spacingAndGlyphs" stroke="#111" stroke-width="0.155">After</text>
<text x="130.00" y="396.80" font-size="8.6" text-anchor="middle" fill="#111" textLength="26.60" lengthAdjust="spacingAndGlyphs" stroke="#111" stroke-width="0.155">Before</text>
<text x="164.80" y="396.80" font-size="8.6" text-anchor="middle" fill="#111" textLength="19.60" lengthAdjust="spacingAndGlyphs" stroke="#111" stroke-width="0.155">After</text>
<text x="200.30" y="396.80" font-size="8.6" text-anchor="middle" fill="#111" textLength="26.60" lengthAdjust="spacingAndGlyphs" stroke="#111" stroke-width="0.155">Before</text>
<text x="235.60" y="396.80" font-size="8.6" text-anchor="middle" fill="#111" textLength="19.60" lengthAdjust="spacingAndGlyphs" stroke="#111" stroke-width="0.155">After</text>
<text x="77.10" y="414.80" font-size="8.2" text-anchor="middle" fill="#111" textLength="44.00" lengthAdjust="spacingAndGlyphs" stroke="#111" stroke-width="0.148">0.1 μg/mL</text>
<text x="77.10" y="425.60" font-size="8.2" text-anchor="middle" fill="#111" textLength="18.60" lengthAdjust="spacingAndGlyphs" stroke="#111" stroke-width="0.148">PFN</text>
<text x="147.00" y="414.80" font-size="8.2" text-anchor="middle" fill="#111" textLength="21.80" lengthAdjust="spacingAndGlyphs" stroke="#111" stroke-width="0.148">5 μM</text>
<text x="147.00" y="425.60" font-size="8.2" text-anchor="middle" fill="#111" textLength="44.50" lengthAdjust="spacingAndGlyphs" stroke="#111" stroke-width="0.148">Ionomycin</text>
<text x="217.60" y="414.80" font-size="8.2" text-anchor="middle" fill="#111" textLength="41.00" lengthAdjust="spacingAndGlyphs" stroke="#111" stroke-width="0.148">12 ng/mL</text>
<text x="217.60" y="425.60" font-size="8.2" text-anchor="middle" fill="#111" textLength="18.00" lengthAdjust="spacingAndGlyphs" stroke="#111" stroke-width="0.148">SLO</text>
<text x="7.60" y="339.10" font-size="8.4" text-anchor="middle" transform="rotate(-90 7.60 339.10)" textLength="73.80" lengthAdjust="spacingAndGlyphs" stroke="#000" stroke-width="0.151">Total Intensity of</text>
<text x="19.00" y="340.00" font-size="8.4" text-anchor="middle" transform="rotate(-90 19.00 340.00)" textLength="99.00" lengthAdjust="spacingAndGlyphs" stroke="#000" stroke-width="0.151">new AP-2 spots (x10<tspan font-size="5.5" dy="-3.2">3</tspan><tspan dy="3.2">)</tspan></text>
<path d="M58.3,300.0 L58.3,298.0 L94.8,298.0 L94.8,300.0" fill="none" stroke="#5a6468" stroke-width="0.9" />
<text x="76.55" y="296.30" font-size="6.9" text-anchor="middle" fill="#222" textLength="25.44" lengthAdjust="spacingAndGlyphs" stroke="#222" stroke-width="0.124"><tspan font-style="italic">P</tspan> = .01</text>
<path d="M128.3,300.0 L128.3,298.0 L166,298.0 L166,300.0" fill="none" stroke="#5a6468" stroke-width="0.9" />
<text x="147.15" y="296.30" font-size="6.9" text-anchor="middle" fill="#222" textLength="25.44" lengthAdjust="spacingAndGlyphs" stroke="#222" stroke-width="0.124"><tspan font-style="italic">P</tspan> = .72</text>
<path d="M200,300.0 L200,298.0 L236.2,298.0 L236.2,300.0" fill="none" stroke="#5a6468" stroke-width="0.9" />
<text x="218.10" y="296.30" font-size="6.9" text-anchor="middle" fill="#222" textLength="29.89" lengthAdjust="spacingAndGlyphs" stroke="#222" stroke-width="0.124"><tspan font-style="italic">P</tspan> = .002</text>
<path d="M56.1,350.2 L59.5,348.59999999999997 L62.9,350.2 L59.5,351.8 Z" fill="#1c2d82" stroke="none" stroke-width="1" />
<path d="M56.2,364.59999999999997 L59.5,361.2 L62.8,364.59999999999997 Z" fill="#1e9038" stroke="none" stroke-width="1" />
<rect x="56.30" y="352.45" width="6.40" height="3.70" fill="#dc1f2c" stroke="none" stroke-width="1" />
<rect x="55.10" y="354.20" width="8.80" height="1.60" fill="#000" stroke="none" stroke-width="1" />
<path d="M90.1,313.9 L93.5,312.29999999999995 L96.9,313.9 L93.5,315.5 Z" fill="#1c2d82" stroke="none" stroke-width="1" />
<path d="M90.2,331.2 L93.5,327.8 L96.8,331.2 Z" fill="#1e9038" stroke="none" stroke-width="1" />
<rect x="90.30" y="331.95" width="6.40" height="3.70" fill="#dc1f2c" stroke="none" stroke-width="1" />
<rect x="89.10" y="325.10" width="8.80" height="1.60" fill="#000" stroke="none" stroke-width="1" />
<path d="M125.9,342.3 L129.3,340.7 L132.70000000000002,342.3 L129.3,343.90000000000003 Z" fill="#1c2d82" stroke="none" stroke-width="1" />
<path d="M126.00000000000001,359.59999999999997 L129.3,356.2 L132.60000000000002,359.59999999999997 Z" fill="#1e9038" stroke="none" stroke-width="1" />
<rect x="126.10" y="360.15" width="6.40" height="3.70" fill="#dc1f2c" stroke="none" stroke-width="1" />
<rect x="124.90" y="353.00" width="8.80" height="1.60" fill="#000" stroke="none" stroke-width="1" />
<path d="M161.1,344.4 L164.5,342.79999999999995 L167.9,344.4 L164.5,346.0 Z" fill="#1c2d82" stroke="none" stroke-width="1" />
<path d="M161.2,354.5 L164.5,351.1 L167.8,354.5 Z" fill="#1e9038" stroke="none" stroke-width="1" />
<rect x="161.30" y="356.05" width="6.40" height="3.70" fill="#dc1f2c" stroke="none" stroke-width="1" />
<rect x="160.10" y="350.10" width="8.80" height="1.60" fill="#000" stroke="none" stroke-width="1" />
<path d="M197.4,344.4 L200.8,342.79999999999995 L204.20000000000002,344.4 L200.8,346.0 Z" fill="#1c2d82" stroke="none" stroke-width="1" />
<path d="M197.5,346.7 L200.8,343.3 L204.10000000000002,346.7 Z" fill="#1e9038" stroke="none" stroke-width="1" />
<rect x="197.60" y="339.15" width="6.40" height="3.70" fill="#dc1f2c" stroke="none" stroke-width="1" />
<path d="M231.6,317.6 L235.0,316.0 L238.4,317.6 L235.0,319.20000000000005 Z" fill="#1c2d82" stroke="none" stroke-width="1" />
<path d="M231.7,318.7 L235.0,315.3 L238.3,318.7 Z" fill="#1e9038" stroke="none" stroke-width="1" />
<rect x="231.80" y="303.75" width="6.40" height="3.70" fill="#dc1f2c" stroke="none" stroke-width="1" />
<rect x="230.60" y="312.50" width="8.80" height="1.60" fill="#000" stroke="none" stroke-width="1" />
<rect x="252.30" y="316.95" width="6.40" height="3.70" fill="#dc1f2c" stroke="none" stroke-width="1" />
<text x="261.80" y="321.50" font-size="8.5" fill="#111" textLength="24.80" lengthAdjust="spacingAndGlyphs" stroke="#111" stroke-width="0.153">Cell 1</text>
<path d="M252.2,328.8 L255.5,327.3 L258.8,328.8 L255.5,330.3 Z" fill="#1c2d82" stroke="none" stroke-width="1" />
<text x="261.80" y="331.50" font-size="8.5" fill="#111" textLength="24.80" lengthAdjust="spacingAndGlyphs" stroke="#111" stroke-width="0.153">Cell 2</text>
<path d="M252.2,340.0 L255.5,336.6 L258.8,340.0 Z" fill="#1e9038" stroke="none" stroke-width="1" />
<text x="261.80" y="341.00" font-size="8.5" fill="#111" textLength="24.80" lengthAdjust="spacingAndGlyphs" stroke="#111" stroke-width="0.153">Cell 3</text>
<rect x="252.10" y="347.15" width="7.90" height="1.70" fill="#000" stroke="none" stroke-width="1" />
<text x="261.80" y="350.70" font-size="8.5" fill="#111" textLength="24.40" lengthAdjust="spacingAndGlyphs" stroke="#111" stroke-width="0.153">Mean</text>
<text x="308.30" y="284.20" font-size="11" font-weight="bold">E</text>
<line x1="357.80" y1="288.40" x2="357.80" y2="432.80" stroke="#555" stroke-width="1.1" />
<line x1="357.80" y1="432.80" x2="497.90" y2="432.80" stroke="#555" stroke-width="1.1" />
<line x1="355.20" y1="432.80" x2="357.80" y2="432.80" stroke="#555" stroke-width="0.9" />
<text x="352.80" y="435.20" font-size="6.8" text-anchor="end" fill="#222" stroke="#222" stroke-width="0.122">0</text>
<line x1="355.20" y1="414.75" x2="357.80" y2="414.75" stroke="#555" stroke-width="0.9" />
<text x="352.80" y="417.15" font-size="6.8" text-anchor="end" fill="#222" stroke="#222" stroke-width="0.122">20</text>
<line x1="355.20" y1="396.70" x2="357.80" y2="396.70" stroke="#555" stroke-width="0.9" />
<text x="352.80" y="399.10" font-size="6.8" text-anchor="end" fill="#222" stroke="#222" stroke-width="0.122">40</text>
<line x1="355.20" y1="378.65" x2="357.80" y2="378.65" stroke="#555" stroke-width="0.9" />
<text x="352.80" y="381.05" font-size="6.8" text-anchor="end" fill="#222" stroke="#222" stroke-width="0.122">60</text>
<line x1="355.20" y1="360.60" x2="357.80" y2="360.60" stroke="#555" stroke-width="0.9" />
<text x="352.80" y="363.00" font-size="6.8" text-anchor="end" fill="#222" stroke="#222" stroke-width="0.122">80</text>
<line x1="355.20" y1="342.55" x2="357.80" y2="342.55" stroke="#555" stroke-width="0.9" />
<text x="352.80" y="344.95" font-size="6.8" text-anchor="end" fill="#222" stroke="#222" stroke-width="0.122">100</text>
<line x1="355.20" y1="324.50" x2="357.80" y2="324.50" stroke="#555" stroke-width="0.9" />
<text x="352.80" y="326.90" font-size="6.8" text-anchor="end" fill="#222" stroke="#222" stroke-width="0.122">120</text>
<line x1="355.20" y1="306.45" x2="357.80" y2="306.45" stroke="#555" stroke-width="0.9" />
<text x="352.80" y="308.85" font-size="6.8" text-anchor="end" fill="#222" stroke="#222" stroke-width="0.122">140</text>
<line x1="355.20" y1="288.40" x2="357.80" y2="288.40" stroke="#555" stroke-width="0.9" />
<text x="352.80" y="290.80" font-size="6.8" text-anchor="end" fill="#222" stroke="#222" stroke-width="0.122">160</text>
<line x1="404.00" y1="432.80" x2="404.00" y2="435.30" stroke="#555" stroke-width="0.9" />
<line x1="450.50" y1="432.80" x2="450.50" y2="435.30" stroke="#555" stroke-width="0.9" />
<line x1="497.50" y1="432.80" x2="497.50" y2="435.30" stroke="#555" stroke-width="0.9" />
<rect x="372.10" y="330.37" width="19.60" height="102.43" fill="#c4c4c4" stroke="#555" stroke-width="0.8" />
<line x1="381.75" y1="295.62" x2="381.75" y2="365.11" stroke="#3c3c3c" stroke-width="0.9" />
<line x1="379.15" y1="295.62" x2="384.35" y2="295.62" stroke="#3c3c3c" stroke-width="0.9" />
<line x1="379.15" y1="365.11" x2="384.35" y2="365.11" stroke="#3c3c3c" stroke-width="0.9" />
<rect x="419.40" y="420.62" width="18.80" height="12.18" fill="#c4c4c4" stroke="#555" stroke-width="0.8" />
<line x1="428.65" y1="407.53" x2="428.65" y2="432.80" stroke="#3c3c3c" stroke-width="0.9" />
<line x1="426.05" y1="407.53" x2="431.25" y2="407.53" stroke="#3c3c3c" stroke-width="0.9" />
<line x1="426.05" y1="432.80" x2="431.25" y2="432.80" stroke="#3c3c3c" stroke-width="0.9" />
<rect x="465.00" y="374.14" width="19.60" height="58.66" fill="#c4c4c4" stroke="#555" stroke-width="0.8" />
<line x1="474.65" y1="368.72" x2="474.65" y2="380.45" stroke="#3c3c3c" stroke-width="0.9" />
<line x1="472.05" y1="368.72" x2="477.25" y2="368.72" stroke="#3c3c3c" stroke-width="0.9" />
<line x1="472.05" y1="380.45" x2="477.25" y2="380.45" stroke="#3c3c3c" stroke-width="0.9" />
<path d="M381.5,291.0 L381.5,288.7 L474.9,288.7 L474.9,291.0 M430.6,288.7 L430.6,291.0" fill="none" stroke="#5a6468" stroke-width="0.9" />
<text x="407.00" y="286.50" font-size="6.9" text-anchor="middle" fill="#222" textLength="25.44" lengthAdjust="spacingAndGlyphs" stroke="#222" stroke-width="0.124"><tspan font-style="italic">P</tspan> = .02</text>
<text x="453.60" y="286.50" font-size="6.9" text-anchor="middle" fill="#222" textLength="25.44" lengthAdjust="spacingAndGlyphs" stroke="#222" stroke-width="0.124"><tspan font-style="italic">P</tspan> = .01</text>
<text x="323.80" y="360.85" font-size="8.6" text-anchor="middle" transform="rotate(-90 323.80 360.85)" textLength="123.00" lengthAdjust="spacingAndGlyphs" stroke="#000" stroke-width="0.155">AP-2-mediated endocytosis</text>
<text x="332.60" y="360.40" font-size="8.6" text-anchor="middle" transform="rotate(-90 332.60 360.40)" textLength="124.50" lengthAdjust="spacingAndGlyphs" stroke="#000" stroke-width="0.155">(% increase after treatment)</text>
<text x="381.90" y="452.50" font-size="8.9" text-anchor="middle" fill="#111" textLength="44.50" lengthAdjust="spacingAndGlyphs" stroke="#111" stroke-width="0.160">0.1 μg/mL</text>
<text x="381.10" y="462.90" font-size="8.9" text-anchor="middle" fill="#111" textLength="17.00" lengthAdjust="spacingAndGlyphs" stroke="#111" stroke-width="0.160">PFN</text>
<text x="427.00" y="452.50" font-size="8.9" text-anchor="middle" fill="#111" textLength="21.50" lengthAdjust="spacingAndGlyphs" stroke="#111" stroke-width="0.160">5 μM</text>
<text x="427.50" y="462.90" font-size="8.9" text-anchor="middle" fill="#111" textLength="43.80" lengthAdjust="spacingAndGlyphs" stroke="#111" stroke-width="0.160">Ionomycin</text>
<text x="474.00" y="452.50" font-size="8.9" text-anchor="middle" fill="#111" textLength="39.00" lengthAdjust="spacingAndGlyphs" stroke="#111" stroke-width="0.160">12 ng/mL</text>
<text x="474.20" y="462.90" font-size="8.9" text-anchor="middle" fill="#111" textLength="17.30" lengthAdjust="spacingAndGlyphs" stroke="#111" stroke-width="0.160">SLO</text>
<text x="0.80" y="444.60" font-size="11" font-weight="bold">F</text>
<line x1="41.70" y1="456.20" x2="41.70" y2="617.40" stroke="#333" stroke-width="1.0" />
<line x1="41.20" y1="616.90" x2="262.60" y2="616.90" stroke="#333" stroke-width="1.0" />
<line x1="37.50" y1="616.46" x2="41.70" y2="616.46" stroke="#333" stroke-width="0.9" />
<line x1="40.30" y1="611.15" x2="42.60" y2="611.15" stroke="#333" stroke-width="0.7" />
<line x1="40.30" y1="605.84" x2="42.60" y2="605.84" stroke="#333" stroke-width="0.7" />
<line x1="40.30" y1="600.52" x2="42.60" y2="600.52" stroke="#333" stroke-width="0.7" />
<line x1="40.30" y1="595.21" x2="42.60" y2="595.21" stroke="#333" stroke-width="0.7" />
<line x1="37.50" y1="589.90" x2="41.70" y2="589.90" stroke="#333" stroke-width="0.9" />
<line x1="40.30" y1="584.59" x2="42.60" y2="584.59" stroke="#333" stroke-width="0.7" />
<line x1="40.30" y1="579.28" x2="42.60" y2="579.28" stroke="#333" stroke-width="0.7" />
<line x1="40.30" y1="573.96" x2="42.60" y2="573.96" stroke="#333" stroke-width="0.7" />
<line x1="40.30" y1="568.65" x2="42.60" y2="568.65" stroke="#333" stroke-width="0.7" />
<line x1="37.50" y1="563.34" x2="41.70" y2="563.34" stroke="#333" stroke-width="0.9" />
<line x1="40.30" y1="558.03" x2="42.60" y2="558.03" stroke="#333" stroke-width="0.7" />
<line x1="40.30" y1="552.72" x2="42.60" y2="552.72" stroke="#333" stroke-width="0.7" />
<line x1="40.30" y1="547.40" x2="42.60" y2="547.40" stroke="#333" stroke-width="0.7" />
<line x1="40.30" y1="542.09" x2="42.60" y2="542.09" stroke="#333" stroke-width="0.7" />
<line x1="37.50" y1="536.78" x2="41.70" y2="536.78" stroke="#333" stroke-width="0.9" />
<line x1="40.30" y1="531.47" x2="42.60" y2="531.47" stroke="#333" stroke-width="0.7" />
<line x1="40.30" y1="526.16" x2="42.60" y2="526.16" stroke="#333" stroke-width="0.7" />
<line x1="40.30" y1="520.84" x2="42.60" y2="520.84" stroke="#333" stroke-width="0.7" />
<line x1="40.30" y1="515.53" x2="42.60" y2="515.53" stroke="#333" stroke-width="0.7" />
<line x1="37.50" y1="510.22" x2="41.70" y2="510.22" stroke="#333" stroke-width="0.9" />
<line x1="40.30" y1="504.91" x2="42.60" y2="504.91" stroke="#333" stroke-width="0.7" />
<line x1="40.30" y1="499.60" x2="42.60" y2="499.60" stroke="#333" stroke-width="0.7" />
<line x1="40.30" y1="494.28" x2="42.60" y2="494.28" stroke="#333" stroke-width="0.7" />
<line x1="40.30" y1="488.97" x2="42.60" y2="488.97" stroke="#333" stroke-width="0.7" />
<line x1="37.50" y1="483.66" x2="41.70" y2="483.66" stroke="#333" stroke-width="0.9" />
<line x1="40.30" y1="478.35" x2="42.60" y2="478.35" stroke="#333" stroke-width="0.7" />
<line x1="40.30" y1="473.04" x2="42.60" y2="473.04" stroke="#333" stroke-width="0.7" />
<line x1="40.30" y1="467.72" x2="42.60" y2="467.72" stroke="#333" stroke-width="0.7" />
<line x1="40.30" y1="462.41" x2="42.60" y2="462.41" stroke="#333" stroke-width="0.7" />
<line x1="37.50" y1="457.10" x2="41.70" y2="457.10" stroke="#333" stroke-width="0.9" />
<text x="35.20" y="592.10" font-size="5.9" text-anchor="end" fill="#222" textLength="3.74" lengthAdjust="spacingAndGlyphs" stroke="#222" stroke-width="0.106">0</text>
<text x="35.20" y="565.54" font-size="5.9" text-anchor="end" fill="#222" textLength="13.09" lengthAdjust="spacingAndGlyphs" stroke="#222" stroke-width="0.106">0.05</text>
<text x="35.20" y="538.98" font-size="5.9" text-anchor="end" fill="#222" textLength="9.35" lengthAdjust="spacingAndGlyphs" stroke="#222" stroke-width="0.106">0.1</text>
<text x="35.20" y="512.42" font-size="5.9" text-anchor="end" fill="#222" textLength="13.09" lengthAdjust="spacingAndGlyphs" stroke="#222" stroke-width="0.106">0.15</text>
<text x="35.20" y="485.86" font-size="5.9" text-anchor="end" fill="#222" textLength="9.35" lengthAdjust="spacingAndGlyphs" stroke="#222" stroke-width="0.106">0.2</text>
<text x="35.20" y="459.30" font-size="5.9" text-anchor="end" fill="#222" textLength="13.09" lengthAdjust="spacingAndGlyphs" stroke="#222" stroke-width="0.106">0.25</text>
<line x1="42.30" y1="616.90" x2="42.30" y2="619.60" stroke="#333" stroke-width="0.9" />
<line x1="51.10" y1="616.90" x2="51.10" y2="618.40" stroke="#333" stroke-width="0.7" />
<line x1="59.89" y1="616.90" x2="59.89" y2="618.40" stroke="#333" stroke-width="0.7" />
<line x1="68.69" y1="616.90" x2="68.69" y2="618.40" stroke="#333" stroke-width="0.7" />
<line x1="77.48" y1="616.90" x2="77.48" y2="618.40" stroke="#333" stroke-width="0.7" />
<line x1="86.28" y1="616.90" x2="86.28" y2="619.60" stroke="#333" stroke-width="0.9" />
<line x1="95.08" y1="616.90" x2="95.08" y2="618.40" stroke="#333" stroke-width="0.7" />
<line x1="103.87" y1="616.90" x2="103.87" y2="618.40" stroke="#333" stroke-width="0.7" />
<line x1="112.67" y1="616.90" x2="112.67" y2="618.40" stroke="#333" stroke-width="0.7" />
<line x1="121.46" y1="616.90" x2="121.46" y2="618.40" stroke="#333" stroke-width="0.7" />
<line x1="130.26" y1="616.90" x2="130.26" y2="619.60" stroke="#333" stroke-width="0.9" />
<line x1="139.06" y1="616.90" x2="139.06" y2="618.40" stroke="#333" stroke-width="0.7" />
<line x1="147.85" y1="616.90" x2="147.85" y2="618.40" stroke="#333" stroke-width="0.7" />
<line x1="156.65" y1="616.90" x2="156.65" y2="618.40" stroke="#333" stroke-width="0.7" />
<line x1="165.44" y1="616.90" x2="165.44" y2="618.40" stroke="#333" stroke-width="0.7" />
<line x1="174.24" y1="616.90" x2="174.24" y2="619.60" stroke="#333" stroke-width="0.9" />
<line x1="183.04" y1="616.90" x2="183.04" y2="618.40" stroke="#333" stroke-width="0.7" />
<line x1="191.83" y1="616.90" x2="191.83" y2="618.40" stroke="#333" stroke-width="0.7" />
<line x1="200.63" y1="616.90" x2="200.63" y2="618.40" stroke="#333" stroke-width="0.7" />
<line x1="209.42" y1="616.90" x2="209.42" y2="618.40" stroke="#333" stroke-width="0.7" />
<line x1="218.22" y1="616.90" x2="218.22" y2="619.60" stroke="#333" stroke-width="0.9" />
<line x1="227.02" y1="616.90" x2="227.02" y2="618.40" stroke="#333" stroke-width="0.7" />
<line x1="235.81" y1="616.90" x2="235.81" y2="618.40" stroke="#333" stroke-width="0.7" />
<line x1="244.61" y1="616.90" x2="244.61" y2="618.40" stroke="#333" stroke-width="0.7" />
<line x1="253.40" y1="616.90" x2="253.40" y2="618.40" stroke="#333" stroke-width="0.7" />
<line x1="262.20" y1="616.90" x2="262.20" y2="619.60" stroke="#333" stroke-width="0.9" />
<text x="42.30" y="626.60" font-size="6.4" text-anchor="middle" fill="#222" textLength="4.16" lengthAdjust="spacingAndGlyphs" stroke="#222" stroke-width="0.115">0</text>
<text x="86.28" y="626.60" font-size="6.4" text-anchor="middle" fill="#222" textLength="12.49" lengthAdjust="spacingAndGlyphs" stroke="#222" stroke-width="0.115">100</text>
<text x="130.26" y="626.60" font-size="6.4" text-anchor="middle" fill="#222" textLength="12.49" lengthAdjust="spacingAndGlyphs" stroke="#222" stroke-width="0.115">200</text>
<text x="174.24" y="626.60" font-size="6.4" text-anchor="middle" fill="#222" textLength="12.49" lengthAdjust="spacingAndGlyphs" stroke="#222" stroke-width="0.115">300</text>
<text x="218.22" y="626.60" font-size="6.4" text-anchor="middle" fill="#222" textLength="12.49" lengthAdjust="spacingAndGlyphs" stroke="#222" stroke-width="0.115">400</text>
<text x="262.20" y="626.60" font-size="6.4" text-anchor="middle" fill="#222" textLength="12.49" lengthAdjust="spacingAndGlyphs" stroke="#222" stroke-width="0.115">500</text>
<line x1="41.70" y1="590.30" x2="262.00" y2="590.30" stroke="#3a4a5a" stroke-width="0.8" stroke-dasharray="1.8 1.2"/>
<text x="16.60" y="536.25" font-size="8.2" text-anchor="middle" transform="rotate(-90 16.60 536.25)" textLength="79.00" lengthAdjust="spacingAndGlyphs" stroke="#000" stroke-width="0.148">Absorbance (340/380)</text>
<path d="M44.2,576.4 L48.6,576.4 L46.4,582.6 Z" fill="#000" stroke="none" stroke-width="1" />
<path d="M42.3,589.3 L44.3,590.8 L46.3,597.9 L48.2,601.5 L50.2,598.6 L52.2,597.2 L54.2,596.5 L56.2,594.5 L58.1,595.4 L60.1,595.3 L62.1,593.3 L64.1,593.4 L66.0,592.3 L68.0,593.3 L70.0,592.5 L72.0,589.8 L74.0,588.3 L75.9,587.3 L77.9,588.1 L79.9,588.9 L81.9,587.8 L83.9,587.5 L85.8,587.7 L87.8,589.8 L89.8,589.8 L91.8,587.7 L93.8,590.1 L95.7,589.7 L97.7,589.8 L99.7,590.7 L101.7,589.4 L103.7,590.0 L105.6,590.7 L107.6,590.8 L109.6,591.8 L111.6,591.7 L113.5,589.9 L115.5,590.3 L117.5,592.1 L119.5,590.5 L121.5,590.4 L123.4,591.0 L125.4,590.5 L127.4,590.5 L129.4,589.9 L131.4,588.2 L133.3,585.0 L135.3,588.5 L137.3,591.3 L139.3,591.8 L141.3,592.9 L143.2,592.3 L145.2,591.6 L147.2,590.3 L149.2,592.1 L151.2,592.1 L153.1,590.5 L155.1,587.8 L157.1,585.1 L159.1,584.7 L161.0,583.9 L163.0,586.2 L165.0,587.1 L167.0,588.6 L169.0,587.8 L170.9,587.4 L172.9,587.9 L174.9,587.9 L176.9,588.6 L178.9,587.1 L180.8,588.3 L182.8,588.3 L184.8,590.6 L186.8,590.5 L188.8,589.6 L190.7,589.6 L192.7,589.7 L194.7,590.4 L196.7,590.8 L198.6,587.7 L200.6,588.9 L202.6,588.1 L204.6,590.2 L206.6,588.6 L208.5,587.3 L210.5,588.2 L212.5,587.8 L214.5,586.0 L216.5,588.0 L218.4,587.0 L220.4,585.4 L222.4,587.3 L224.4,584.0 L226.4,587.7 L228.3,587.1 L230.3,586.5 L232.3,587.6 L234.3,587.7 L236.3,589.0 L238.2,588.5 L240.2,589.0 L242.2,588.2 L244.2,585.9 L246.1,587.4 L248.1,589.1 L250.1,591.9 L252.1,590.4 L254.1,591.5" fill="none" stroke="#e8704a" stroke-width="0.7" />
<path d="M40.6,589.3a1.65,1.65 0 1,0 3.30,0a1.65,1.65 0 1,0 -3.30,0zM42.6,590.8a1.65,1.65 0 1,0 3.30,0a1.65,1.65 0 1,0 -3.30,0zM44.6,597.9a1.65,1.65 0 1,0 3.30,0a1.65,1.65 0 1,0 -3.30,0zM46.6,601.5a1.65,1.65 0 1,0 3.30,0a1.65,1.65 0 1,0 -3.30,0zM48.6,598.6a1.65,1.65 0 1,0 3.30,0a1.65,1.65 0 1,0 -3.30,0zM50.5,597.2a1.65,1.65 0 1,0 3.30,0a1.65,1.65 0 1,0 -3.30,0zM52.5,596.5a1.65,1.65 0 1,0 3.30,0a1.65,1.65 0 1,0 -3.30,0zM54.5,594.5a1.65,1.65 0 1,0 3.30,0a1.65,1.65 0 1,0 -3.30,0zM56.5,595.4a1.65,1.65 0 1,0 3.30,0a1.65,1.65 0 1,0 -3.30,0zM58.5,595.3a1.65,1.65 0 1,0 3.30,0a1.65,1.65 0 1,0 -3.30,0zM60.4,593.3a1.65,1.65 0 1,0 3.30,0a1.65,1.65 0 1,0 -3.30,0zM62.4,593.4a1.65,1.65 0 1,0 3.30,0a1.65,1.65 0 1,0 -3.30,0zM64.4,592.3a1.65,1.65 0 1,0 3.30,0a1.65,1.65 0 1,0 -3.30,0zM66.4,593.3a1.65,1.65 0 1,0 3.30,0a1.65,1.65 0 1,0 -3.30,0zM68.4,592.5a1.65,1.65 0 1,0 3.30,0a1.65,1.65 0 1,0 -3.30,0zM70.3,589.8a1.65,1.65 0 1,0 3.30,0a1.65,1.65 0 1,0 -3.30,0zM72.3,588.3a1.65,1.65 0 1,0 3.30,0a1.65,1.65 0 1,0 -3.30,0zM74.3,587.3a1.65,1.65 0 1,0 3.30,0a1.65,1.65 0 1,0 -3.30,0zM76.3,588.1a1.65,1.65 0 1,0 3.30,0a1.65,1.65 0 1,0 -3.30,0zM78.3,588.9a1.65,1.65 0 1,0 3.30,0a1.65,1.65 0 1,0 -3.30,0zM80.2,587.8a1.65,1.65 0 1,0 3.30,0a1.65,1.65 0 1,0 -3.30,0zM82.2,587.5a1.65,1.65 0 1,0 3.30,0a1.65,1.65 0 1,0 -3.30,0zM84.2,587.7a1.65,1.65 0 1,0 3.30,0a1.65,1.65 0 1,0 -3.30,0zM86.2,589.8a1.65,1.65 0 1,0 3.30,0a1.65,1.65 0 1,0 -3.30,0zM88.1,589.8a1.65,1.65 0 1,0 3.30,0a1.65,1.65 0 1,0 -3.30,0zM90.1,587.7a1.65,1.65 0 1,0 3.30,0a1.65,1.65 0 1,0 -3.30,0zM92.1,590.1a1.65,1.65 0 1,0 3.30,0a1.65,1.65 0 1,0 -3.30,0zM94.1,589.7a1.65,1.65 0 1,0 3.30,0a1.65,1.65 0 1,0 -3.30,0zM96.1,589.8a1.65,1.65 0 1,0 3.30,0a1.65,1.65 0 1,0 -3.30,0zM98.0,590.7a1.65,1.65 0 1,0 3.30,0a1.65,1.65 0 1,0 -3.30,0zM100.0,589.4a1.65,1.65 0 1,0 3.30,0a1.65,1.65 0 1,0 -3.30,0zM102.0,590.0a1.65,1.65 0 1,0 3.30,0a1.65,1.65 0 1,0 -3.30,0zM104.0,590.7a1.65,1.65 0 1,0 3.30,0a1.65,1.65 0 1,0 -3.30,0zM106.0,590.8a1.65,1.65 0 1,0 3.30,0a1.65,1.65 0 1,0 -3.30,0zM107.9,591.8a1.65,1.65 0 1,0 3.30,0a1.65,1.65 0 1,0 -3.30,0zM109.9,591.7a1.65,1.65 0 1,0 3.30,0a1.65,1.65 0 1,0 -3.30,0zM111.9,589.9a1.65,1.65 0 1,0 3.30,0a1.65,1.65 0 1,0 -3.30,0zM113.9,590.3a1.65,1.65 0 1,0 3.30,0a1.65,1.65 0 1,0 -3.30,0zM115.9,592.1a1.65,1.65 0 1,0 3.30,0a1.65,1.65 0 1,0 -3.30,0zM117.8,590.5a1.65,1.65 0 1,0 3.30,0a1.65,1.65 0 1,0 -3.30,0zM119.8,590.4a1.65,1.65 0 1,0 3.30,0a1.65,1.65 0 1,0 -3.30,0zM121.8,591.0a1.65,1.65 0 1,0 3.30,0a1.65,1.65 0 1,0 -3.30,0zM123.8,590.5a1.65,1.65 0 1,0 3.30,0a1.65,1.65 0 1,0 -3.30,0zM125.8,590.5a1.65,1.65 0 1,0 3.30,0a1.65,1.65 0 1,0 -3.30,0zM127.7,589.9a1.65,1.65 0 1,0 3.30,0a1.65,1.65 0 1,0 -3.30,0zM129.7,588.2a1.65,1.65 0 1,0 3.30,0a1.65,1.65 0 1,0 -3.30,0zM131.7,585.0a1.65,1.65 0 1,0 3.30,0a1.65,1.65 0 1,0 -3.30,0zM133.7,588.5a1.65,1.65 0 1,0 3.30,0a1.65,1.65 0 1,0 -3.30,0zM135.6,591.3a1.65,1.65 0 1,0 3.30,0a1.65,1.65 0 1,0 -3.30,0zM137.6,591.8a1.65,1.65 0 1,0 3.30,0a1.65,1.65 0 1,0 -3.30,0zM139.6,592.9a1.65,1.65 0 1,0 3.30,0a1.65,1.65 0 1,0 -3.30,0zM141.6,592.3a1.65,1.65 0 1,0 3.30,0a1.65,1.65 0 1,0 -3.30,0zM143.6,591.6a1.65,1.65 0 1,0 3.30,0a1.65,1.65 0 1,0 -3.30,0zM145.5,590.3a1.65,1.65 0 1,0 3.30,0a1.65,1.65 0 1,0 -3.30,0zM147.5,592.1a1.65,1.65 0 1,0 3.30,0a1.65,1.65 0 1,0 -3.30,0zM149.5,592.1a1.65,1.65 0 1,0 3.30,0a1.65,1.65 0 1,0 -3.30,0zM151.5,590.5a1.65,1.65 0 1,0 3.30,0a1.65,1.65 0 1,0 -3.30,0zM153.5,587.8a1.65,1.65 0 1,0 3.30,0a1.65,1.65 0 1,0 -3.30,0zM155.4,585.1a1.65,1.65 0 1,0 3.30,0a1.65,1.65 0 1,0 -3.30,0zM157.4,584.7a1.65,1.65 0 1,0 3.30,0a1.65,1.65 0 1,0 -3.30,0zM159.4,583.9a1.65,1.65 0 1,0 3.30,0a1.65,1.65 0 1,0 -3.30,0zM161.4,586.2a1.65,1.65 0 1,0 3.30,0a1.65,1.65 0 1,0 -3.30,0zM163.4,587.1a1.65,1.65 0 1,0 3.30,0a1.65,1.65 0 1,0 -3.30,0zM165.3,588.6a1.65,1.65 0 1,0 3.30,0a1.65,1.65 0 1,0 -3.30,0zM167.3,587.8a1.65,1.65 0 1,0 3.30,0a1.65,1.65 0 1,0 -3.30,0zM169.3,587.4a1.65,1.65 0 1,0 3.30,0a1.65,1.65 0 1,0 -3.30,0zM171.3,587.9a1.65,1.65 0 1,0 3.30,0a1.65,1.65 0 1,0 -3.30,0zM173.2,587.9a1.65,1.65 0 1,0 3.30,0a1.65,1.65 0 1,0 -3.30,0zM175.2,588.6a1.65,1.65 0 1,0 3.30,0a1.65,1.65 0 1,0 -3.30,0zM177.2,587.1a1.65,1.65 0 1,0 3.30,0a1.65,1.65 0 1,0 -3.30,0zM179.2,588.3a1.65,1.65 0 1,0 3.30,0a1.65,1.65 0 1,0 -3.30,0zM181.2,588.3a1.65,1.65 0 1,0 3.30,0a1.65,1.65 0 1,0 -3.30,0zM183.1,590.6a1.65,1.65 0 1,0 3.30,0a1.65,1.65 0 1,0 -3.30,0zM185.1,590.5a1.65,1.65 0 1,0 3.30,0a1.65,1.65 0 1,0 -3.30,0zM187.1,589.6a1.65,1.65 0 1,0 3.30,0a1.65,1.65 0 1,0 -3.30,0zM189.1,589.6a1.65,1.65 0 1,0 3.30,0a1.65,1.65 0 1,0 -3.30,0zM191.1,589.7a1.65,1.65 0 1,0 3.30,0a1.65,1.65 0 1,0 -3.30,0zM193.0,590.4a1.65,1.65 0 1,0 3.30,0a1.65,1.65 0 1,0 -3.30,0zM195.0,590.8a1.65,1.65 0 1,0 3.30,0a1.65,1.65 0 1,0 -3.30,0zM197.0,587.7a1.65,1.65 0 1,0 3.30,0a1.65,1.65 0 1,0 -3.30,0zM199.0,588.9a1.65,1.65 0 1,0 3.30,0a1.65,1.65 0 1,0 -3.30,0zM201.0,588.1a1.65,1.65 0 1,0 3.30,0a1.65,1.65 0 1,0 -3.30,0zM202.9,590.2a1.65,1.65 0 1,0 3.30,0a1.65,1.65 0 1,0 -3.30,0zM204.9,588.6a1.65,1.65 0 1,0 3.30,0a1.65,1.65 0 1,0 -3.30,0zM206.9,587.3a1.65,1.65 0 1,0 3.30,0a1.65,1.65 0 1,0 -3.30,0zM208.9,588.2a1.65,1.65 0 1,0 3.30,0a1.65,1.65 0 1,0 -3.30,0zM210.9,587.8a1.65,1.65 0 1,0 3.30,0a1.65,1.65 0 1,0 -3.30,0zM212.8,586.0a1.65,1.65 0 1,0 3.30,0a1.65,1.65 0 1,0 -3.30,0zM214.8,588.0a1.65,1.65 0 1,0 3.30,0a1.65,1.65 0 1,0 -3.30,0zM216.8,587.0a1.65,1.65 0 1,0 3.30,0a1.65,1.65 0 1,0 -3.30,0zM218.8,585.4a1.65,1.65 0 1,0 3.30,0a1.65,1.65 0 1,0 -3.30,0zM220.7,587.3a1.65,1.65 0 1,0 3.30,0a1.65,1.65 0 1,0 -3.30,0zM222.7,584.0a1.65,1.65 0 1,0 3.30,0a1.65,1.65 0 1,0 -3.30,0zM224.7,587.7a1.65,1.65 0 1,0 3.30,0a1.65,1.65 0 1,0 -3.30,0zM226.7,587.1a1.65,1.65 0 1,0 3.30,0a1.65,1.65 0 1,0 -3.30,0zM228.7,586.5a1.65,1.65 0 1,0 3.30,0a1.65,1.65 0 1,0 -3.30,0zM230.6,587.6a1.65,1.65 0 1,0 3.30,0a1.65,1.65 0 1,0 -3.30,0zM232.6,587.7a1.65,1.65 0 1,0 3.30,0a1.65,1.65 0 1,0 -3.30,0zM234.6,589.0a1.65,1.65 0 1,0 3.30,0a1.65,1.65 0 1,0 -3.30,0zM236.6,588.5a1.65,1.65 0 1,0 3.30,0a1.65,1.65 0 1,0 -3.30,0zM238.6,589.0a1.65,1.65 0 1,0 3.30,0a1.65,1.65 0 1,0 -3.30,0zM240.5,588.2a1.65,1.65 0 1,0 3.30,0a1.65,1.65 0 1,0 -3.30,0zM242.5,585.9a1.65,1.65 0 1,0 3.30,0a1.65,1.65 0 1,0 -3.30,0zM244.5,587.4a1.65,1.65 0 1,0 3.30,0a1.65,1.65 0 1,0 -3.30,0zM246.5,589.1a1.65,1.65 0 1,0 3.30,0a1.65,1.65 0 1,0 -3.30,0zM248.5,591.9a1.65,1.65 0 1,0 3.30,0a1.65,1.65 0 1,0 -3.30,0zM250.4,590.4a1.65,1.65 0 1,0 3.30,0a1.65,1.65 0 1,0 -3.30,0zM252.4,591.5a1.65,1.65 0 1,0 3.30,0a1.65,1.65 0 1,0 -3.30,0z" fill="#fff" fill-opacity="0.75" stroke="#e8704a" stroke-width="1.0"/>
<path d="M42.3,589.1 L43.4,589.0 L44.5,588.9 L45.6,597.6 L46.7,604.6 L47.8,607.8 L48.9,610.8 L50.0,608.4 L51.1,607.8 L52.2,603.9 L53.3,599.6 L54.4,599.0 L55.5,596.9 L56.6,597.2 L57.7,597.0 L58.8,596.6 L59.9,596.2 L61.0,594.8 L62.1,593.2 L63.2,594.5 L64.3,594.4 L65.4,594.6 L66.5,594.5 L67.6,594.6 L68.7,594.3 L69.8,592.8 L70.9,592.1 L72.0,591.2 L73.1,590.5 L74.2,589.0 L75.3,587.8 L76.4,586.3 L77.5,585.7 L78.6,585.3 L79.7,584.2 L80.8,582.1 L81.9,579.8 L83.0,578.0 L84.1,576.5 L85.2,576.3 L86.3,572.9 L87.4,574.2 L88.5,575.2 L89.6,575.1 L90.7,574.2 L91.8,573.2 L92.9,572.0 L94.0,571.3 L95.1,570.7 L96.2,571.0 L97.3,569.9 L98.4,570.7 L99.5,570.6 L100.6,571.3 L101.7,571.0 L102.8,571.4 L103.9,570.5 L105.0,569.5 L106.1,568.6 L107.2,568.6 L108.3,567.7 L109.4,568.0 L110.5,568.3 L111.6,569.1 L112.7,568.5 L113.8,567.9 L114.9,567.3 L116.0,565.8 L117.1,564.1 L118.2,563.7 L119.3,563.1 L120.4,564.1 L121.5,562.7 L122.6,562.3 L123.7,563.6 L124.8,561.8 L125.9,561.4 L127.0,561.9 L128.1,561.5 L129.2,561.3 L130.3,562.3 L131.4,565.3 L132.5,565.7 L133.6,566.5 L134.7,566.1 L135.8,565.4 L136.9,564.4 L138.0,564.9 L139.1,563.1 L140.2,563.2 L141.3,562.6 L142.4,563.6 L143.5,561.6 L144.6,560.8 L145.7,558.4 L146.8,559.6 L147.9,560.0 L149.0,561.7 L150.1,563.2 L151.2,566.2 L152.2,567.6 L153.3,568.9 L154.4,567.9 L155.5,567.4 L156.6,566.1 L157.7,565.8 L158.8,564.3 L159.9,564.6 L161.0,564.6 L162.1,566.2 L163.2,566.8 L164.3,567.6 L165.4,567.9 L166.5,565.8 L167.6,565.0 L168.7,563.8 L169.8,564.6 L170.9,563.8 L172.0,564.0 L173.1,564.1 L174.2,564.8 L175.3,563.6 L176.4,562.9 L177.5,560.9 L178.6,560.8 L179.7,561.5 L180.8,562.4 L181.9,561.7 L183.0,564.6 L184.1,564.6 L185.2,566.8 L186.3,565.6 L187.4,564.8 L188.5,563.9 L189.6,562.6 L190.7,562.1 L191.8,561.8 L192.9,561.7 L194.0,562.4 L195.1,561.9 L196.2,564.0 L197.3,564.1 L198.4,564.1 L199.5,564.6 L200.6,562.8 L201.7,562.5 L202.8,563.2 L203.9,562.9 L205.0,562.4 L206.1,563.1 L207.2,564.6 L208.3,564.4 L209.4,563.8 L210.5,562.5 L211.6,563.5 L212.7,563.8 L213.8,564.3 L214.9,566.6 L216.0,567.3 L217.1,568.3 L218.2,568.0 L219.3,567.8 L220.4,569.7 L221.5,568.6 L222.6,569.5 L223.7,572.0 L224.8,574.9 L225.9,576.1 L227.0,576.5 L228.1,575.9 L229.2,576.8 L230.3,576.9 L231.4,576.9 L232.5,577.4 L233.6,579.0 L234.7,580.7 L235.8,581.5 L236.9,582.3 L238.0,581.3 L239.1,581.7 L240.2,581.0 L241.3,580.2 L242.4,577.8 L243.5,578.6 L244.6,578.2 L245.7,579.6 L246.8,579.8 L247.9,581.6 L249.0,581.6 L250.1,582.6 L251.2,582.2 L252.3,583.1 L253.4,581.9 L254.5,583.4 L255.6,584.7 L256.7,586.1 L257.8,587.5 L258.9,587.5" fill="none" stroke="#76482a" stroke-width="1.3" />
<path d="M41.2,589.1L42.3,588.1L43.4,589.1L42.3,590.2zM42.3,589.0L43.4,587.9L44.5,589.0L43.4,590.0zM43.4,588.9L44.5,587.8L45.6,588.9L44.5,589.9zM44.5,597.6L45.6,596.6L46.7,597.6L45.6,598.7zM45.6,604.6L46.7,603.5L47.8,604.6L46.7,605.6zM46.7,607.8L47.8,606.8L48.9,607.8L47.8,608.8zM47.8,610.8L48.9,609.7L50.0,610.8L48.9,611.8zM48.9,608.4L50.0,607.3L51.1,608.4L50.0,609.4zM50.0,607.8L51.1,606.8L52.2,607.8L51.1,608.9zM51.1,603.9L52.2,602.9L53.3,603.9L52.2,604.9zM52.2,599.6L53.3,598.6L54.4,599.6L53.3,600.6zM53.3,599.0L54.4,597.9L55.5,599.0L54.4,600.0zM54.4,596.9L55.5,595.8L56.6,596.9L55.5,597.9zM55.5,597.2L56.6,596.1L57.7,597.2L56.6,598.2zM56.6,597.0L57.7,596.0L58.8,597.0L57.7,598.1zM57.7,596.6L58.8,595.5L59.9,596.6L58.8,597.6zM58.8,596.2L59.9,595.1L61.0,596.2L59.9,597.2zM59.9,594.8L61.0,593.7L62.1,594.8L61.0,595.8zM61.0,593.2L62.1,592.2L63.2,593.2L62.1,594.3zM62.1,594.5L63.2,593.5L64.3,594.5L63.2,595.5zM63.2,594.4L64.3,593.4L65.4,594.4L64.3,595.5zM64.3,594.6L65.4,593.5L66.5,594.6L65.4,595.6zM65.4,594.5L66.5,593.5L67.6,594.5L66.5,595.6zM66.5,594.6L67.6,593.5L68.7,594.6L67.6,595.6zM67.6,594.3L68.7,593.2L69.8,594.3L68.7,595.3zM68.7,592.8L69.8,591.7L70.9,592.8L69.8,593.8zM69.8,592.1L70.9,591.0L72.0,592.1L70.9,593.1zM70.9,591.2L72.0,590.2L73.1,591.2L72.0,592.3zM72.0,590.5L73.1,589.5L74.2,590.5L73.1,591.6zM73.1,589.0L74.2,587.9L75.3,589.0L74.2,590.0zM74.2,587.8L75.3,586.7L76.4,587.8L75.3,588.8zM75.3,586.3L76.4,585.3L77.5,586.3L76.4,587.3zM76.4,585.7L77.5,584.7L78.6,585.7L77.5,586.8zM77.5,585.3L78.6,584.3L79.7,585.3L78.6,586.3zM78.6,584.2L79.7,583.2L80.8,584.2L79.7,585.2zM79.7,582.1L80.8,581.1L81.9,582.1L80.8,583.1zM80.8,579.8L81.9,578.7L83.0,579.8L81.9,580.8zM81.9,578.0L83.0,577.0L84.1,578.0L83.0,579.1zM83.0,576.5L84.1,575.4L85.2,576.5L84.1,577.5zM84.1,576.3L85.2,575.3L86.3,576.3L85.2,577.3zM85.2,572.9L86.3,571.9L87.4,572.9L86.3,574.0zM86.3,574.2L87.4,573.2L88.5,574.2L87.4,575.3zM87.4,575.2L88.5,574.2L89.6,575.2L88.5,576.2zM88.5,575.1L89.6,574.0L90.7,575.1L89.6,576.1zM89.6,574.2L90.7,573.2L91.8,574.2L90.7,575.3zM90.7,573.2L91.8,572.1L92.9,573.2L91.8,574.2zM91.8,572.0L92.9,571.0L94.0,572.0L92.9,573.0zM92.9,571.3L94.0,570.2L95.1,571.3L94.0,572.3zM94.0,570.7L95.1,569.7L96.2,570.7L95.1,571.8zM95.1,571.0L96.2,570.0L97.3,571.0L96.2,572.1zM96.2,569.9L97.3,568.9L98.4,569.9L97.3,571.0zM97.2,570.7L98.4,569.7L99.5,570.7L98.4,571.8zM98.3,570.6L99.5,569.5L100.6,570.6L99.5,571.6zM99.4,571.3L100.6,570.3L101.7,571.3L100.6,572.4zM100.5,571.0L101.7,570.0L102.8,571.0L101.7,572.0zM101.6,571.4L102.8,570.4L103.9,571.4L102.8,572.4zM102.7,570.5L103.9,569.4L105.0,570.5L103.9,571.5zM103.8,569.5L105.0,568.4L106.1,569.5L105.0,570.5zM104.9,568.6L106.1,567.6L107.2,568.6L106.1,569.6zM106.0,568.6L107.2,567.6L108.3,568.6L107.2,569.7zM107.1,567.7L108.3,566.6L109.4,567.7L108.3,568.7zM108.2,568.0L109.4,567.0L110.5,568.0L109.4,569.0zM109.3,568.3L110.5,567.2L111.6,568.3L110.5,569.3zM110.4,569.1L111.6,568.1L112.7,569.1L111.6,570.1zM111.5,568.5L112.7,567.5L113.8,568.5L112.7,569.5zM112.6,567.9L113.8,566.8L114.9,567.9L113.8,568.9zM113.7,567.3L114.9,566.3L116.0,567.3L114.9,568.3zM114.8,565.8L116.0,564.8L117.1,565.8L116.0,566.9zM115.9,564.1L117.1,563.0L118.2,564.1L117.1,565.1zM117.0,563.7L118.2,562.7L119.3,563.7L118.2,564.7zM118.1,563.1L119.3,562.1L120.4,563.1L119.3,564.2zM119.2,564.1L120.4,563.1L121.5,564.1L120.4,565.2zM120.3,562.7L121.5,561.7L122.6,562.7L121.5,563.8zM121.4,562.3L122.6,561.2L123.7,562.3L122.6,563.3zM122.5,563.6L123.7,562.5L124.8,563.6L123.7,564.6zM123.6,561.8L124.8,560.7L125.9,561.8L124.8,562.8zM124.7,561.4L125.9,560.4L127.0,561.4L125.9,562.5zM125.8,561.9L127.0,560.8L128.1,561.9L127.0,562.9zM126.9,561.5L128.1,560.4L129.2,561.5L128.1,562.5zM128.0,561.3L129.2,560.3L130.3,561.3L129.2,562.3zM129.1,562.3L130.3,561.3L131.4,562.3L130.3,563.4zM130.2,565.3L131.4,564.2L132.5,565.3L131.4,566.3zM131.3,565.7L132.5,564.6L133.6,565.7L132.5,566.7zM132.4,566.5L133.6,565.5L134.7,566.5L133.6,567.6zM133.5,566.1L134.7,565.1L135.8,566.1L134.7,567.1zM134.6,565.4L135.8,564.4L136.9,565.4L135.8,566.4zM135.7,564.4L136.9,563.4L138.0,564.4L136.9,565.5zM136.8,564.9L138.0,563.9L139.1,564.9L138.0,565.9zM137.9,563.1L139.1,562.0L140.2,563.1L139.1,564.1zM139.0,563.2L140.2,562.2L141.3,563.2L140.2,564.3zM140.1,562.6L141.3,561.6L142.4,562.6L141.3,563.7zM141.2,563.6L142.4,562.6L143.5,563.6L142.4,564.7zM142.3,561.6L143.5,560.6L144.6,561.6L143.5,562.7zM143.4,560.8L144.6,559.7L145.7,560.8L144.6,561.8zM144.5,558.4L145.7,557.3L146.8,558.4L145.7,559.4zM145.6,559.6L146.8,558.5L147.9,559.6L146.8,560.6zM146.7,560.0L147.9,558.9L149.0,560.0L147.9,561.0zM147.8,561.7L149.0,560.6L150.1,561.7L149.0,562.7zM148.9,563.2L150.1,562.2L151.2,563.2L150.1,564.2zM150.0,566.2L151.2,565.1L152.3,566.2L151.2,567.2zM151.1,567.6L152.2,566.5L153.4,567.6L152.2,568.6zM152.2,568.9L153.3,567.9L154.5,568.9L153.3,570.0zM153.3,567.9L154.4,566.9L155.6,567.9L154.4,568.9zM154.4,567.4L155.5,566.4L156.7,567.4L155.5,568.4zM155.5,566.1L156.6,565.1L157.8,566.1L156.6,567.1zM156.6,565.8L157.7,564.7L158.9,565.8L157.7,566.8zM157.7,564.3L158.8,563.2L160.0,564.3L158.8,565.3zM158.8,564.6L159.9,563.6L161.1,564.6L159.9,565.7zM159.9,564.6L161.0,563.6L162.2,564.6L161.0,565.6zM161.0,566.2L162.1,565.2L163.3,566.2L162.1,567.3zM162.1,566.8L163.2,565.8L164.4,566.8L163.2,567.9zM163.2,567.6L164.3,566.6L165.5,567.6L164.3,568.7zM164.3,567.9L165.4,566.8L166.6,567.9L165.4,568.9zM165.4,565.8L166.5,564.8L167.7,565.8L166.5,566.8zM166.5,565.0L167.6,564.0L168.8,565.0L167.6,566.0zM167.6,563.8L168.7,562.8L169.9,563.8L168.7,564.8zM168.7,564.6L169.8,563.6L171.0,564.6L169.8,565.6zM169.8,563.8L170.9,562.7L172.1,563.8L170.9,564.8zM170.9,564.0L172.0,563.0L173.2,564.0L172.0,565.1zM172.0,564.1L173.1,563.0L174.3,564.1L173.1,565.1zM173.1,564.8L174.2,563.8L175.4,564.8L174.2,565.9zM174.2,563.6L175.3,562.5L176.5,563.6L175.3,564.6zM175.3,562.9L176.4,561.9L177.6,562.9L176.4,563.9zM176.4,560.9L177.5,559.9L178.7,560.9L177.5,561.9zM177.5,560.8L178.6,559.7L179.8,560.8L178.6,561.8zM178.6,561.5L179.7,560.5L180.9,561.5L179.7,562.6zM179.7,562.4L180.8,561.3L182.0,562.4L180.8,563.4zM180.8,561.7L181.9,560.7L183.1,561.7L181.9,562.7zM181.9,564.6L183.0,563.6L184.2,564.6L183.0,565.6zM183.0,564.6L184.1,563.6L185.3,564.6L184.1,565.6zM184.1,566.8L185.2,565.8L186.4,566.8L185.2,567.8zM185.2,565.6L186.3,564.6L187.5,565.6L186.3,566.6zM186.3,564.8L187.4,563.8L188.6,564.8L187.4,565.8zM187.4,563.9L188.5,562.9L189.7,563.9L188.5,564.9zM188.5,562.6L189.6,561.5L190.8,562.6L189.6,563.6zM189.6,562.1L190.7,561.0L191.9,562.1L190.7,563.1zM190.7,561.8L191.8,560.8L193.0,561.8L191.8,562.8zM191.8,561.7L192.9,560.6L194.1,561.7L192.9,562.7zM192.9,562.4L194.0,561.4L195.2,562.4L194.0,563.4zM194.0,561.9L195.1,560.8L196.3,561.9L195.1,562.9zM195.1,564.0L196.2,562.9L197.4,564.0L196.2,565.0zM196.2,564.1L197.3,563.1L198.5,564.1L197.3,565.1zM197.3,564.1L198.4,563.1L199.6,564.1L198.4,565.2zM198.4,564.6L199.5,563.6L200.7,564.6L199.5,565.6zM199.5,562.8L200.6,561.8L201.8,562.8L200.6,563.9zM200.6,562.5L201.7,561.4L202.9,562.5L201.7,563.5zM201.7,563.2L202.8,562.2L204.0,563.2L202.8,564.3zM202.8,562.9L203.9,561.9L205.1,562.9L203.9,564.0zM203.9,562.4L205.0,561.3L206.2,562.4L205.0,563.4zM205.0,563.1L206.1,562.0L207.3,563.1L206.1,564.1zM206.1,564.6L207.2,563.5L208.4,564.6L207.2,565.6zM207.2,564.4L208.3,563.4L209.4,564.4L208.3,565.5zM208.3,563.8L209.4,562.8L210.5,563.8L209.4,564.8zM209.4,562.5L210.5,561.5L211.6,562.5L210.5,563.6zM210.5,563.5L211.6,562.4L212.7,563.5L211.6,564.5zM211.6,563.8L212.7,562.8L213.8,563.8L212.7,564.9zM212.7,564.3L213.8,563.3L214.9,564.3L213.8,565.4zM213.8,566.6L214.9,565.6L216.0,566.6L214.9,567.6zM214.9,567.3L216.0,566.2L217.1,567.3L216.0,568.3zM216.0,568.3L217.1,567.3L218.2,568.3L217.1,569.4zM217.1,568.0L218.2,566.9L219.3,568.0L218.2,569.0zM218.2,567.8L219.3,566.8L220.4,567.8L219.3,568.8zM219.3,569.7L220.4,568.7L221.5,569.7L220.4,570.7zM220.4,568.6L221.5,567.6L222.6,568.6L221.5,569.6zM221.5,569.5L222.6,568.4L223.7,569.5L222.6,570.5zM222.6,572.0L223.7,570.9L224.8,572.0L223.7,573.0zM223.7,574.9L224.8,573.9L225.9,574.9L224.8,576.0zM224.8,576.1L225.9,575.0L227.0,576.1L225.9,577.1zM225.9,576.5L227.0,575.4L228.1,576.5L227.0,577.5zM227.0,575.9L228.1,574.9L229.2,575.9L228.1,576.9zM228.1,576.8L229.2,575.8L230.3,576.8L229.2,577.8zM229.2,576.9L230.3,575.8L231.4,576.9L230.3,577.9zM230.3,576.9L231.4,575.9L232.5,576.9L231.4,578.0zM231.4,577.4L232.5,576.4L233.6,577.4L232.5,578.5zM232.5,579.0L233.6,577.9L234.7,579.0L233.6,580.0zM233.6,580.7L234.7,579.7L235.8,580.7L234.7,581.7zM234.7,581.5L235.8,580.4L236.9,581.5L235.8,582.5zM235.8,582.3L236.9,581.3L238.0,582.3L236.9,583.3zM236.9,581.3L238.0,580.3L239.1,581.3L238.0,582.4zM238.0,581.7L239.1,580.7L240.2,581.7L239.1,582.8zM239.1,581.0L240.2,580.0L241.3,581.0L240.2,582.0zM240.2,580.2L241.3,579.1L242.4,580.2L241.3,581.2zM241.3,577.8L242.4,576.8L243.5,577.8L242.4,578.8zM242.4,578.6L243.5,577.6L244.6,578.6L243.5,579.7zM243.5,578.2L244.6,577.1L245.7,578.2L244.6,579.2zM244.6,579.6L245.7,578.6L246.8,579.6L245.7,580.6zM245.7,579.8L246.8,578.8L247.9,579.8L246.8,580.8zM246.8,581.6L247.9,580.6L249.0,581.6L247.9,582.7zM247.9,581.6L249.0,580.6L250.1,581.6L249.0,582.7zM249.0,582.6L250.1,581.6L251.2,582.6L250.1,583.7zM250.1,582.2L251.2,581.2L252.3,582.2L251.2,583.2zM251.2,583.1L252.3,582.0L253.4,583.1L252.3,584.1zM252.3,581.9L253.4,580.9L254.5,581.9L253.4,583.0zM253.4,583.4L254.5,582.4L255.6,583.4L254.5,584.5zM254.5,584.7L255.6,583.6L256.7,584.7L255.6,585.7zM255.6,586.1L256.7,585.0L257.8,586.1L256.7,587.1zM256.7,587.5L257.8,586.4L258.9,587.5L257.8,588.5zM257.8,587.5L258.9,586.5L260.0,587.5L258.9,588.5z" fill="#76482a" fill-opacity="0.75" stroke="#76482a" stroke-width="0.6"/>
<path d="M42.3,588.8 L43.8,588.9 L45.4,594.5 L46.9,602.5 L48.5,606.0 L50.0,604.9 L51.5,601.3 L53.1,597.0 L54.6,592.7 L56.2,589.6 L57.7,589.3 L59.2,588.0 L60.8,587.3 L62.3,585.0 L63.9,584.0 L65.4,582.8 L66.9,583.8 L68.5,584.1 L70.0,582.5 L71.5,581.2 L73.1,578.3 L74.6,574.5 L76.2,575.3 L77.7,576.1 L79.2,575.5 L80.8,572.3 L82.3,571.0 L83.9,568.1 L85.4,570.1 L86.9,567.7 L88.5,564.4 L90.0,560.9 L91.6,561.1 L93.1,562.0 L94.6,561.7 L96.2,563.6 L97.7,564.1 L99.3,564.0 L100.8,564.0 L102.3,561.3 L103.9,560.2 L105.4,561.6 L107.0,561.1 L108.5,562.0 L110.0,561.5 L111.6,559.8 L113.1,559.7 L114.6,559.0 L116.2,558.7 L117.7,557.1 L119.3,558.0 L120.8,558.8 L122.3,559.2 L123.9,560.3 L125.4,559.8 L127.0,559.9 L128.5,559.9 L130.0,561.0 L131.6,561.3 L133.1,562.1 L134.7,560.7 L136.2,559.9 L137.7,559.3 L139.3,560.6 L140.8,560.6 L142.4,563.3 L143.9,563.5 L145.4,563.9 L147.0,562.8 L148.5,562.9 L150.1,563.5 L151.6,564.6 L153.1,565.7 L154.7,564.8 L156.2,563.0 L157.7,561.5 L159.3,560.0 L160.8,560.6 L162.4,560.8 L163.9,565.0 L165.4,565.5 L167.0,564.5 L168.5,564.6 L170.1,564.6 L171.6,564.4 L173.1,565.7 L174.7,567.0 L176.2,568.3 L177.8,568.4 L179.3,568.3 L180.8,569.7 L182.4,569.6 L183.9,570.3 L185.5,572.1 L187.0,572.6 L188.5,572.3 L190.1,571.3 L191.6,570.6 L193.2,572.6 L194.7,572.4 L196.2,572.9 L197.8,574.9 L199.3,575.3 L200.8,575.3 L202.4,574.7 L203.9,575.6 L205.5,576.3 L207.0,576.6 L208.5,579.4 L210.1,578.1 L211.6,579.1 L213.2,578.7 L214.7,579.7 L216.2,577.4 L217.8,572.6 L219.3,573.6 L220.9,574.3 L222.4,575.4 L223.9,575.9 L225.5,577.7 L227.0,578.7 L228.6,581.8 L230.1,582.4 L231.6,585.2 L233.2,583.9 L234.7,582.4 L236.3,583.5 L237.8,582.9 L239.3,583.9 L240.9,584.1 L242.4,582.2 L243.9,581.2 L245.5,579.9 L247.0,583.7 L248.6,584.3 L250.1,585.8 L251.6,588.3 L253.2,587.2 L254.7,585.7 L256.3,586.8 L257.8,586.6" fill="none" stroke="#3a8cd0" stroke-width="0.7" />
<path d="M40.5,588.8L42.3,587.1L44.1,588.8L42.3,590.4zM42.0,588.9L43.8,587.2L45.7,588.9L43.8,590.6zM43.6,594.5L45.4,592.8L47.2,594.5L45.4,596.2zM45.1,602.5L46.9,600.8L48.7,602.5L46.9,604.1zM46.6,606.0L48.5,604.4L50.3,606.0L48.5,607.7zM48.2,604.9L50.0,603.2L51.8,604.9L50.0,606.6zM49.7,601.3L51.5,599.6L53.3,601.3L51.5,603.0zM51.3,597.0L53.1,595.4L54.9,597.0L53.1,598.7zM52.8,592.7L54.6,591.1L56.4,592.7L54.6,594.4zM54.3,589.6L56.2,588.0L58.0,589.6L56.2,591.3zM55.9,589.3L57.7,587.7L59.5,589.3L57.7,591.0zM57.4,588.0L59.2,586.4L61.0,588.0L59.2,589.7zM59.0,587.3L60.8,585.6L62.6,587.3L60.8,588.9zM60.5,585.0L62.3,583.3L64.1,585.0L62.3,586.6zM62.0,584.0L63.9,582.3L65.7,584.0L63.9,585.6zM63.6,582.8L65.4,581.2L67.2,582.8L65.4,584.5zM65.1,583.8L66.9,582.1L68.7,583.8L66.9,585.5zM66.7,584.1L68.5,582.4L70.3,584.1L68.5,585.8zM68.2,582.5L70.0,580.8L71.8,582.5L70.0,584.1zM69.7,581.2L71.5,579.5L73.4,581.2L71.5,582.8zM71.3,578.3L73.1,576.6L74.9,578.3L73.1,580.0zM72.8,574.5L74.6,572.9L76.4,574.5L74.6,576.2zM74.4,575.3L76.2,573.6L78.0,575.3L76.2,577.0zM75.9,576.1L77.7,574.4L79.5,576.1L77.7,577.8zM77.4,575.5L79.2,573.9L81.1,575.5L79.2,577.2zM79.0,572.3L80.8,570.6L82.6,572.3L80.8,573.9zM80.5,571.0L82.3,569.3L84.1,571.0L82.3,572.7zM82.0,568.1L83.9,566.4L85.7,568.1L83.9,569.8zM83.6,570.1L85.4,568.5L87.2,570.1L85.4,571.8zM85.1,567.7L86.9,566.0L88.8,567.7L86.9,569.3zM86.7,564.4L88.5,562.7L90.3,564.4L88.5,566.0zM88.2,560.9L90.0,559.2L91.8,560.9L90.0,562.5zM89.7,561.1L91.6,559.4L93.4,561.1L91.6,562.7zM91.3,562.0L93.1,560.4L94.9,562.0L93.1,563.7zM92.8,561.7L94.6,560.1L96.4,561.7L94.6,563.4zM94.4,563.6L96.2,561.9L98.0,563.6L96.2,565.2zM95.9,564.1L97.7,562.5L99.5,564.1L97.7,565.8zM97.4,564.0L99.3,562.3L101.1,564.0L99.3,565.6zM99.0,564.0L100.8,562.3L102.6,564.0L100.8,565.6zM100.5,561.3L102.3,559.7L104.1,561.3L102.3,563.0zM102.1,560.2L103.9,558.5L105.7,560.2L103.9,561.8zM103.6,561.6L105.4,560.0L107.2,561.6L105.4,563.3zM105.1,561.1L107.0,559.5L108.8,561.1L107.0,562.8zM106.7,562.0L108.5,560.4L110.3,562.0L108.5,563.7zM108.2,561.5L110.0,559.8L111.8,561.5L110.0,563.2zM109.8,559.8L111.6,558.2L113.4,559.8L111.6,561.5zM111.3,559.7L113.1,558.0L114.9,559.7L113.1,561.3zM112.8,559.0L114.6,557.3L116.5,559.0L114.6,560.7zM114.4,558.7L116.2,557.0L118.0,558.7L116.2,560.4zM115.9,557.1L117.7,555.4L119.5,557.1L117.7,558.7zM117.5,558.0L119.3,556.3L121.1,558.0L119.3,559.7zM119.0,558.8L120.8,557.1L122.6,558.8L120.8,560.4zM120.5,559.2L122.3,557.6L124.2,559.2L122.3,560.9zM122.1,560.3L123.9,558.6L125.7,560.3L123.9,562.0zM123.6,559.8L125.4,558.1L127.2,559.8L125.4,561.5zM125.1,559.9L127.0,558.3L128.8,559.9L127.0,561.6zM126.7,559.9L128.5,558.2L130.3,559.9L128.5,561.6zM128.2,561.0L130.0,559.3L131.9,561.0L130.0,562.7zM129.8,561.3L131.6,559.6L133.4,561.3L131.6,563.0zM131.3,562.1L133.1,560.4L134.9,562.1L133.1,563.7zM132.8,560.7L134.7,559.0L136.5,560.7L134.7,562.3zM134.4,559.9L136.2,558.2L138.0,559.9L136.2,561.5zM135.9,559.3L137.7,557.6L139.5,559.3L137.7,561.0zM137.5,560.6L139.3,558.9L141.1,560.6L139.3,562.3zM139.0,560.6L140.8,559.0L142.6,560.6L140.8,562.3zM140.5,563.3L142.4,561.7L144.2,563.3L142.4,565.0zM142.1,563.5L143.9,561.8L145.7,563.5L143.9,565.2zM143.6,563.9L145.4,562.3L147.2,563.9L145.4,565.6zM145.2,562.8L147.0,561.1L148.8,562.8L147.0,564.5zM146.7,562.9L148.5,561.2L150.3,562.9L148.5,564.6zM148.2,563.5L150.1,561.8L151.9,563.5L150.1,565.2zM149.8,564.6L151.6,563.0L153.4,564.6L151.6,566.3zM151.3,565.7L153.1,564.0L154.9,565.7L153.1,567.3zM152.9,564.8L154.7,563.2L156.5,564.8L154.7,566.5zM154.4,563.0L156.2,561.3L158.0,563.0L156.2,564.6zM155.9,561.5L157.7,559.9L159.6,561.5L157.7,563.2zM157.5,560.0L159.3,558.3L161.1,560.0L159.3,561.6zM159.0,560.6L160.8,558.9L162.6,560.6L160.8,562.3zM160.6,560.8L162.4,559.1L164.2,560.8L162.4,562.5zM162.1,565.0L163.9,563.3L165.7,565.0L163.9,566.7zM163.6,565.5L165.4,563.8L167.3,565.5L165.4,567.1zM165.2,564.5L167.0,562.9L168.8,564.5L167.0,566.2zM166.7,564.6L168.5,563.0L170.3,564.6L168.5,566.3zM168.2,564.6L170.1,562.9L171.9,564.6L170.1,566.3zM169.8,564.4L171.6,562.7L173.4,564.4L171.6,566.0zM171.3,565.7L173.1,564.0L175.0,565.7L173.1,567.4zM172.9,567.0L174.7,565.3L176.5,567.0L174.7,568.6zM174.4,568.3L176.2,566.6L178.0,568.3L176.2,570.0zM175.9,568.4L177.8,566.7L179.6,568.4L177.8,570.0zM177.5,568.3L179.3,566.6L181.1,568.3L179.3,570.0zM179.0,569.7L180.8,568.1L182.6,569.7L180.8,571.4zM180.6,569.6L182.4,567.9L184.2,569.6L182.4,571.3zM182.1,570.3L183.9,568.6L185.7,570.3L183.9,571.9zM183.6,572.1L185.5,570.4L187.3,572.1L185.5,573.8zM185.2,572.6L187.0,570.9L188.8,572.6L187.0,574.2zM186.7,572.3L188.5,570.6L190.3,572.3L188.5,573.9zM188.3,571.3L190.1,569.6L191.9,571.3L190.1,573.0zM189.8,570.6L191.6,568.9L193.4,570.6L191.6,572.3zM191.3,572.6L193.2,570.9L195.0,572.6L193.2,574.2zM192.9,572.4L194.7,570.7L196.5,572.4L194.7,574.1zM194.4,572.9L196.2,571.3L198.0,572.9L196.2,574.6zM196.0,574.9L197.8,573.2L199.6,574.9L197.8,576.5zM197.5,575.3L199.3,573.7L201.1,575.3L199.3,577.0zM199.0,575.3L200.8,573.6L202.7,575.3L200.8,576.9zM200.6,574.7L202.4,573.0L204.2,574.7L202.4,576.4zM202.1,575.6L203.9,573.9L205.7,575.6L203.9,577.3zM203.7,576.3L205.5,574.7L207.3,576.3L205.5,578.0zM205.2,576.6L207.0,575.0L208.8,576.6L207.0,578.3zM206.7,579.4L208.5,577.8L210.4,579.4L208.5,581.1zM208.3,578.1L210.1,576.4L211.9,578.1L210.1,579.7zM209.8,579.1L211.6,577.5L213.4,579.1L211.6,580.8zM211.3,578.7L213.2,577.0L215.0,578.7L213.2,580.3zM212.9,579.7L214.7,578.0L216.5,579.7L214.7,581.4zM214.4,577.4L216.2,575.7L218.1,577.4L216.2,579.0zM216.0,572.6L217.8,571.0L219.6,572.6L217.8,574.3zM217.5,573.6L219.3,571.9L221.1,573.6L219.3,575.3zM219.0,574.3L220.9,572.7L222.7,574.3L220.9,576.0zM220.6,575.4L222.4,573.8L224.2,575.4L222.4,577.1zM222.1,575.9L223.9,574.2L225.7,575.9L223.9,577.6zM223.7,577.7L225.5,576.1L227.3,577.7L225.5,579.4zM225.2,578.7L227.0,577.0L228.8,578.7L227.0,580.4zM226.7,581.8L228.6,580.1L230.4,581.8L228.6,583.4zM228.3,582.4L230.1,580.8L231.9,582.4L230.1,584.1zM229.8,585.2L231.6,583.6L233.4,585.2L231.6,586.9zM231.4,583.9L233.2,582.2L235.0,583.9L233.2,585.6zM232.9,582.4L234.7,580.7L236.5,582.4L234.7,584.1zM234.4,583.5L236.3,581.8L238.1,583.5L236.3,585.1zM236.0,582.9L237.8,581.3L239.6,582.9L237.8,584.6zM237.5,583.9L239.3,582.2L241.1,583.9L239.3,585.5zM239.1,584.1L240.9,582.4L242.7,584.1L240.9,585.8zM240.6,582.2L242.4,580.5L244.2,582.2L242.4,583.8zM242.1,581.2L243.9,579.5L245.8,581.2L243.9,582.8zM243.7,579.9L245.5,578.2L247.3,579.9L245.5,581.6zM245.2,583.7L247.0,582.1L248.8,583.7L247.0,585.4zM246.8,584.3L248.6,582.6L250.4,584.3L248.6,585.9zM248.3,585.8L250.1,584.1L251.9,585.8L250.1,587.4zM249.8,588.3L251.6,586.6L253.5,588.3L251.6,589.9zM251.4,587.2L253.2,585.5L255.0,587.2L253.2,588.8zM252.9,585.7L254.7,584.1L256.5,585.7L254.7,587.4zM254.5,586.8L256.3,585.1L258.1,586.8L256.3,588.5zM256.0,586.6L257.8,584.9L259.6,586.6L257.8,588.3z" fill="#fff" fill-opacity="0.75" stroke="#3a8cd0" stroke-width="0.95"/>
<path d="M42.3,591.1 L44.1,591.1 L45.8,593.7 L47.6,602.2 L49.3,606.6 L51.1,605.1 L52.9,600.3 L54.6,594.3 L56.4,590.3 L58.1,587.4 L59.9,588.3 L61.7,589.4 L63.4,586.5 L65.2,582.5 L66.9,572.0 L68.7,563.8 L70.4,559.5 L72.2,554.6 L74.0,552.0 L75.7,547.3 L77.5,541.2 L79.2,537.0 L81.0,535.3 L82.8,533.5 L84.5,534.8 L86.3,532.7 L88.0,530.8 L89.8,527.4 L91.6,527.1 L93.3,528.2 L95.1,527.6 L96.8,527.7 L98.6,525.7 L100.4,524.9 L102.1,525.4 L103.9,526.7 L105.6,527.5 L107.4,524.4 L109.1,522.1 L110.9,523.0 L112.7,523.8 L114.4,525.3 L116.2,526.2 L117.9,524.8 L119.7,523.7 L121.5,524.6 L123.2,525.8 L125.0,527.5 L126.7,526.3 L128.5,524.7 L130.3,525.9 L132.0,527.2 L133.8,529.2 L135.5,527.7 L137.3,524.5 L139.1,524.2 L140.8,525.2 L142.6,529.5 L144.3,529.9 L146.1,531.2 L147.9,530.4 L149.6,526.7 L151.4,524.3 L153.1,522.9 L154.9,520.7 L156.6,517.3 L158.4,516.9 L160.2,517.1 L161.9,523.1 L163.7,524.4 L165.4,522.8 L167.2,522.1 L169.0,518.8 L170.7,520.7 L172.5,522.2 L174.2,520.9 L176.0,520.0 L177.8,520.1 L179.5,519.7 L181.3,521.5 L183.0,523.6 L184.8,522.4 L186.6,521.4 L188.3,518.8 L190.1,516.0 L191.8,518.4 L193.6,520.6 L195.4,523.6 L197.1,522.4 L198.9,521.3 L200.6,521.8 L202.4,525.1 L204.1,525.4 L205.9,523.8 L207.7,522.0 L209.4,522.5 L211.2,524.5 L212.9,525.2 L214.7,525.3 L216.5,523.0 L218.2,521.4 L220.0,521.1 L221.7,521.5 L223.5,523.0 L225.3,523.7 L227.0,522.9 L228.8,522.3 L230.5,521.2 L232.3,520.3 L234.1,522.7 L235.8,523.6 L237.6,524.1 L239.3,524.6 L241.1,522.9 L242.8,523.4 L244.6,524.2 L246.4,525.1 L248.1,527.4 L249.9,527.1 L251.6,525.1 L253.4,525.0 L255.2,527.7" fill="none" stroke="#868686" stroke-width="0.7" />
<path d="M40.5,591.1L42.3,589.5L44.1,591.1L42.3,592.8zM42.2,591.1L44.1,589.5L45.9,591.1L44.1,592.8zM44.0,593.7L45.8,592.0L47.6,593.7L45.8,595.4zM45.8,602.2L47.6,600.5L49.4,602.2L47.6,603.8zM47.5,606.6L49.3,604.9L51.1,606.6L49.3,608.3zM49.3,605.1L51.1,603.4L52.9,605.1L51.1,606.7zM51.0,600.3L52.9,598.6L54.7,600.3L52.9,602.0zM52.8,594.3L54.6,592.6L56.4,594.3L54.6,596.0zM54.6,590.3L56.4,588.6L58.2,590.3L56.4,591.9zM56.3,587.4L58.1,585.7L59.9,587.4L58.1,589.0zM58.1,588.3L59.9,586.6L61.7,588.3L59.9,589.9zM59.8,589.4L61.7,587.8L63.5,589.4L61.7,591.1zM61.6,586.5L63.4,584.8L65.2,586.5L63.4,588.1zM63.4,582.5L65.2,580.8L67.0,582.5L65.2,584.2zM65.1,572.0L66.9,570.3L68.7,572.0L66.9,573.7zM66.9,563.8L68.7,562.2L70.5,563.8L68.7,565.5zM68.6,559.5L70.4,557.8L72.3,559.5L70.4,561.2zM70.4,554.6L72.2,553.0L74.0,554.6L72.2,556.3zM72.2,552.0L74.0,550.3L75.8,552.0L74.0,553.6zM73.9,547.3L75.7,545.6L77.5,547.3L75.7,549.0zM75.7,541.2L77.5,539.5L79.3,541.2L77.5,542.9zM77.4,537.0L79.2,535.4L81.1,537.0L79.2,538.7zM79.2,535.3L81.0,533.6L82.8,535.3L81.0,536.9zM80.9,533.5L82.8,531.8L84.6,533.5L82.8,535.1zM82.7,534.8L84.5,533.1L86.3,534.8L84.5,536.5zM84.5,532.7L86.3,531.0L88.1,532.7L86.3,534.4zM86.2,530.8L88.0,529.1L89.9,530.8L88.0,532.4zM88.0,527.4L89.8,525.7L91.6,527.4L89.8,529.0zM89.7,527.1L91.6,525.4L93.4,527.1L91.6,528.8zM91.5,528.2L93.3,526.6L95.1,528.2L93.3,529.9zM93.3,527.6L95.1,525.9L96.9,527.6L95.1,529.2zM95.0,527.7L96.8,526.0L98.6,527.7L96.8,529.4zM96.8,525.7L98.6,524.0L100.4,525.7L98.6,527.3zM98.5,524.9L100.4,523.3L102.2,524.9L100.4,526.6zM100.3,525.4L102.1,523.8L103.9,525.4L102.1,527.1zM102.1,526.7L103.9,525.0L105.7,526.7L103.9,528.4zM103.8,527.5L105.6,525.8L107.4,527.5L105.6,529.2zM105.6,524.4L107.4,522.7L109.2,524.4L107.4,526.0zM107.3,522.1L109.1,520.4L111.0,522.1L109.1,523.8zM109.1,523.0L110.9,521.3L112.7,523.0L110.9,524.7zM110.9,523.8L112.7,522.1L114.5,523.8L112.7,525.4zM112.6,525.3L114.4,523.6L116.2,525.3L114.4,527.0zM114.4,526.2L116.2,524.5L118.0,526.2L116.2,527.9zM116.1,524.8L117.9,523.1L119.8,524.8L117.9,526.4zM117.9,523.7L119.7,522.0L121.5,523.7L119.7,525.3zM119.7,524.6L121.5,523.0L123.3,524.6L121.5,526.3zM121.4,525.8L123.2,524.2L125.0,525.8L123.2,527.5zM123.2,527.5L125.0,525.9L126.8,527.5L125.0,529.2zM124.9,526.3L126.7,524.7L128.6,526.3L126.7,528.0zM126.7,524.7L128.5,523.0L130.3,524.7L128.5,526.4zM128.4,525.9L130.3,524.2L132.1,525.9L130.3,527.5zM130.2,527.2L132.0,525.5L133.8,527.2L132.0,528.8zM132.0,529.2L133.8,527.5L135.6,529.2L133.8,530.8zM133.7,527.7L135.5,526.0L137.4,527.7L135.5,529.3zM135.5,524.5L137.3,522.8L139.1,524.5L137.3,526.1zM137.2,524.2L139.1,522.5L140.9,524.2L139.1,525.9zM139.0,525.2L140.8,523.5L142.6,525.2L140.8,526.9zM140.8,529.5L142.6,527.8L144.4,529.5L142.6,531.2zM142.5,529.9L144.3,528.3L146.1,529.9L144.3,531.6zM144.3,531.2L146.1,529.5L147.9,531.2L146.1,532.8zM146.0,530.4L147.9,528.8L149.7,530.4L147.9,532.1zM147.8,526.7L149.6,525.0L151.4,526.7L149.6,528.3zM149.6,524.3L151.4,522.7L153.2,524.3L151.4,526.0zM151.3,522.9L153.1,521.3L154.9,522.9L153.1,524.6zM153.1,520.7L154.9,519.1L156.7,520.7L154.9,522.4zM154.8,517.3L156.6,515.6L158.5,517.3L156.6,518.9zM156.6,516.9L158.4,515.3L160.2,516.9L158.4,518.6zM158.4,517.1L160.2,515.4L162.0,517.1L160.2,518.8zM160.1,523.1L161.9,521.4L163.7,523.1L161.9,524.8zM161.9,524.4L163.7,522.7L165.5,524.4L163.7,526.1zM163.6,522.8L165.4,521.2L167.3,522.8L165.4,524.5zM165.4,522.1L167.2,520.4L169.0,522.1L167.2,523.8zM167.1,518.8L169.0,517.1L170.8,518.8L169.0,520.5zM168.9,520.7L170.7,519.0L172.5,520.7L170.7,522.3zM170.7,522.2L172.5,520.5L174.3,522.2L172.5,523.8zM172.4,520.9L174.2,519.2L176.1,520.9L174.2,522.5zM174.2,520.0L176.0,518.3L177.8,520.0L176.0,521.7zM175.9,520.1L177.8,518.4L179.6,520.1L177.8,521.8zM177.7,519.7L179.5,518.0L181.3,519.7L179.5,521.4zM179.5,521.5L181.3,519.8L183.1,521.5L181.3,523.2zM181.2,523.6L183.0,522.0L184.8,523.6L183.0,525.3zM183.0,522.4L184.8,520.7L186.6,522.4L184.8,524.0zM184.7,521.4L186.6,519.8L188.4,521.4L186.6,523.1zM186.5,518.8L188.3,517.1L190.1,518.8L188.3,520.5zM188.3,516.0L190.1,514.4L191.9,516.0L190.1,517.7zM190.0,518.4L191.8,516.8L193.6,518.4L191.8,520.1zM191.8,520.6L193.6,518.9L195.4,520.6L193.6,522.3zM193.5,523.6L195.4,521.9L197.2,523.6L195.4,525.2zM195.3,522.4L197.1,520.8L198.9,522.4L197.1,524.1zM197.1,521.3L198.9,519.6L200.7,521.3L198.9,522.9zM198.8,521.8L200.6,520.2L202.4,521.8L200.6,523.5zM200.6,525.1L202.4,523.4L204.2,525.1L202.4,526.7zM202.3,525.4L204.1,523.7L206.0,525.4L204.1,527.0zM204.1,523.8L205.9,522.1L207.7,523.8L205.9,525.4zM205.9,522.0L207.7,520.3L209.5,522.0L207.7,523.6zM207.6,522.5L209.4,520.8L211.2,522.5L209.4,524.2zM209.4,524.5L211.2,522.9L213.0,524.5L211.2,526.2zM211.1,525.2L212.9,523.6L214.8,525.2L212.9,526.9zM212.9,525.3L214.7,523.6L216.5,525.3L214.7,526.9zM214.6,523.0L216.5,521.3L218.3,523.0L216.5,524.6zM216.4,521.4L218.2,519.7L220.0,521.4L218.2,523.1zM218.2,521.1L220.0,519.4L221.8,521.1L220.0,522.7zM219.9,521.5L221.7,519.8L223.6,521.5L221.7,523.1zM221.7,523.0L223.5,521.3L225.3,523.0L223.5,524.6zM223.4,523.7L225.3,522.0L227.1,523.7L225.3,525.3zM225.2,522.9L227.0,521.3L228.8,522.9L227.0,524.6zM227.0,522.3L228.8,520.7L230.6,522.3L228.8,524.0zM228.7,521.2L230.5,519.5L232.3,521.2L230.5,522.9zM230.5,520.3L232.3,518.7L234.1,520.3L232.3,522.0zM232.2,522.7L234.1,521.0L235.9,522.7L234.1,524.4zM234.0,523.6L235.8,521.9L237.6,523.6L235.8,525.2zM235.8,524.1L237.6,522.4L239.4,524.1L237.6,525.8zM237.5,524.6L239.3,522.9L241.1,524.6L239.3,526.3zM239.3,522.9L241.1,521.2L242.9,522.9L241.1,524.5zM241.0,523.4L242.8,521.7L244.7,523.4L242.8,525.0zM242.8,524.2L244.6,522.5L246.4,524.2L244.6,525.8zM244.6,525.1L246.4,523.4L248.2,525.1L246.4,526.7zM246.3,527.4L248.1,525.7L249.9,527.4L248.1,529.0zM248.1,527.1L249.9,525.5L251.7,527.1L249.9,528.8zM249.8,525.1L251.6,523.5L253.5,525.1L251.6,526.8zM251.6,525.0L253.4,523.4L255.2,525.0L253.4,526.7zM253.4,527.7L255.2,526.0L257.0,527.7L255.2,529.4z" fill="#fff" fill-opacity="0.75" stroke="#868686" stroke-width="0.95"/>
<path d="M40.8,588.7h3.00v3.00h-3.00zM43.0,589.1h3.00v3.00h-3.00zM45.2,593.6h3.00v3.00h-3.00zM47.4,595.3h3.00v3.00h-3.00zM49.6,593.9h3.00v3.00h-3.00zM51.8,591.5h3.00v3.00h-3.00zM54.0,587.0h3.00v3.00h-3.00zM56.2,582.6h3.00v3.00h-3.00zM58.4,577.4h3.00v3.00h-3.00zM60.6,569.5h3.00v3.00h-3.00zM62.8,558.5h3.00v3.00h-3.00zM65.0,556.1h3.00v3.00h-3.00zM67.2,543.7h3.00v3.00h-3.00zM69.4,537.7h3.00v3.00h-3.00zM71.6,534.7h3.00v3.00h-3.00zM73.8,534.4h3.00v3.00h-3.00zM76.0,532.2h3.00v3.00h-3.00zM78.2,526.3h3.00v3.00h-3.00zM80.4,524.2h3.00v3.00h-3.00zM82.6,523.2h3.00v3.00h-3.00zM84.8,522.8h3.00v3.00h-3.00zM87.0,524.6h3.00v3.00h-3.00zM89.2,524.5h3.00v3.00h-3.00zM91.4,522.7h3.00v3.00h-3.00zM93.6,525.1h3.00v3.00h-3.00zM95.8,525.2h3.00v3.00h-3.00zM98.0,519.0h3.00v3.00h-3.00zM100.2,516.8h3.00v3.00h-3.00zM102.4,518.7h3.00v3.00h-3.00zM104.6,520.6h3.00v3.00h-3.00zM106.8,518.8h3.00v3.00h-3.00zM109.0,520.1h3.00v3.00h-3.00zM111.2,517.3h3.00v3.00h-3.00zM113.4,520.7h3.00v3.00h-3.00zM115.6,520.7h3.00v3.00h-3.00zM117.8,519.5h3.00v3.00h-3.00zM120.0,520.4h3.00v3.00h-3.00zM122.2,525.1h3.00v3.00h-3.00zM124.4,528.7h3.00v3.00h-3.00zM126.6,530.6h3.00v3.00h-3.00zM128.8,527.5h3.00v3.00h-3.00zM131.0,522.1h3.00v3.00h-3.00zM133.2,521.0h3.00v3.00h-3.00zM135.4,522.4h3.00v3.00h-3.00zM137.6,523.8h3.00v3.00h-3.00zM139.8,523.9h3.00v3.00h-3.00zM142.0,523.2h3.00v3.00h-3.00zM144.2,521.4h3.00v3.00h-3.00zM146.4,525.1h3.00v3.00h-3.00zM148.6,522.9h3.00v3.00h-3.00zM150.8,523.2h3.00v3.00h-3.00zM152.9,524.1h3.00v3.00h-3.00zM155.1,527.1h3.00v3.00h-3.00zM157.3,526.4h3.00v3.00h-3.00zM159.5,525.3h3.00v3.00h-3.00zM161.7,524.2h3.00v3.00h-3.00zM163.9,524.4h3.00v3.00h-3.00zM166.1,523.3h3.00v3.00h-3.00zM168.3,526.4h3.00v3.00h-3.00zM170.5,526.7h3.00v3.00h-3.00zM172.7,525.3h3.00v3.00h-3.00zM174.9,524.2h3.00v3.00h-3.00zM177.1,524.5h3.00v3.00h-3.00zM179.3,524.8h3.00v3.00h-3.00zM181.5,523.2h3.00v3.00h-3.00zM183.7,522.3h3.00v3.00h-3.00zM185.9,525.7h3.00v3.00h-3.00zM188.1,526.5h3.00v3.00h-3.00zM190.3,526.4h3.00v3.00h-3.00zM192.5,522.9h3.00v3.00h-3.00zM194.7,524.3h3.00v3.00h-3.00zM196.9,525.6h3.00v3.00h-3.00zM199.1,527.2h3.00v3.00h-3.00zM201.3,529.2h3.00v3.00h-3.00zM203.5,528.2h3.00v3.00h-3.00zM205.7,527.5h3.00v3.00h-3.00zM207.9,527.4h3.00v3.00h-3.00zM210.1,531.6h3.00v3.00h-3.00zM212.3,531.9h3.00v3.00h-3.00zM214.5,528.0h3.00v3.00h-3.00zM216.7,527.3h3.00v3.00h-3.00zM218.9,527.4h3.00v3.00h-3.00zM221.1,528.0h3.00v3.00h-3.00zM223.3,529.9h3.00v3.00h-3.00zM225.5,527.5h3.00v3.00h-3.00zM227.7,527.3h3.00v3.00h-3.00zM229.9,526.7h3.00v3.00h-3.00zM232.1,529.5h3.00v3.00h-3.00zM234.3,531.5h3.00v3.00h-3.00zM236.5,529.7h3.00v3.00h-3.00zM238.7,529.2h3.00v3.00h-3.00zM240.9,529.6h3.00v3.00h-3.00zM243.1,529.6h3.00v3.00h-3.00zM245.3,533.2h3.00v3.00h-3.00zM247.5,528.5h3.00v3.00h-3.00zM249.7,528.2h3.00v3.00h-3.00zM251.9,530.3h3.00v3.00h-3.00zM254.1,532.0h3.00v3.00h-3.00zM256.3,531.0h3.00v3.00h-3.00z" fill="#fff" fill-opacity="0.75" stroke="#22a040" stroke-width="1.0"/>
<path d="M42.3,589.9 L45.2,589.9 L48.0,589.9 L51.0,574.0 L52.7,515.5 L54.4,465.7 L56.6,466.0 L58.8,470.1 L61.0,471.5 L63.2,470.0 L65.4,465.8 L67.6,468.1 L69.8,469.1 L72.0,468.8 L74.2,465.9 L76.4,464.5 L78.6,466.0 L80.8,466.2 L83.0,465.1 L85.2,462.4 L87.4,462.4 L89.6,463.2 L91.8,463.5 L94.0,462.6 L96.2,466.9 L98.4,470.4 L100.6,473.3 L102.8,470.5 L105.0,469.9 L107.2,470.6 L109.4,472.8 L111.6,472.2 L113.8,468.8 L116.0,467.4 L118.2,468.1 L120.4,470.2 L122.6,471.5 L124.8,470.1 L127.0,472.9 L129.2,474.7 L131.4,473.8 L133.6,472.5 L135.8,469.5 L138.0,470.2 L140.2,475.3 L142.4,475.8 L144.6,473.9 L146.8,477.6 L149.0,477.6 L151.2,476.6 L153.3,473.3 L155.5,471.8 L157.7,475.3 L159.9,478.3 L162.1,476.4 L164.3,475.1 L166.5,477.7 L168.7,479.3 L170.9,476.7 L173.1,476.5 L175.3,477.3 L177.5,479.8 L179.7,478.8 L181.9,477.4 L184.1,479.2 L186.3,480.3 L188.5,479.6 L190.7,474.9 L192.9,470.6 L195.1,470.9 L197.3,474.5 L199.5,476.2 L201.7,475.3 L203.9,475.7 L206.1,478.8 L208.3,477.9 L210.5,475.2 L212.7,473.5 L214.9,474.9 L217.1,476.2 L219.3,475.7 L221.5,475.1 L223.7,474.6 L225.9,477.6 L228.1,477.7 L230.3,474.9 L232.5,475.3 L234.7,478.3 L236.9,481.3 L239.1,479.0 L241.3,478.8 L243.5,481.3 L245.7,482.2 L247.9,481.3 L250.1,478.9 L252.3,478.9 L254.5,481.6 L256.7,479.4" fill="none" stroke="#404040" stroke-width="0.8" />
<path d="M40.5,589.9a1.80,1.80 0 1,0 3.60,0a1.80,1.80 0 1,0 -3.60,0zM43.4,589.9a1.80,1.80 0 1,0 3.60,0a1.80,1.80 0 1,0 -3.60,0zM46.2,589.9a1.80,1.80 0 1,0 3.60,0a1.80,1.80 0 1,0 -3.60,0zM49.2,574.0a1.80,1.80 0 1,0 3.60,0a1.80,1.80 0 1,0 -3.60,0zM50.9,515.5a1.80,1.80 0 1,0 3.60,0a1.80,1.80 0 1,0 -3.60,0zM52.6,465.7a1.80,1.80 0 1,0 3.60,0a1.80,1.80 0 1,0 -3.60,0zM54.8,466.0a1.80,1.80 0 1,0 3.60,0a1.80,1.80 0 1,0 -3.60,0zM57.0,470.1a1.80,1.80 0 1,0 3.60,0a1.80,1.80 0 1,0 -3.60,0zM59.2,471.5a1.80,1.80 0 1,0 3.60,0a1.80,1.80 0 1,0 -3.60,0zM61.4,470.0a1.80,1.80 0 1,0 3.60,0a1.80,1.80 0 1,0 -3.60,0zM63.6,465.8a1.80,1.80 0 1,0 3.60,0a1.80,1.80 0 1,0 -3.60,0zM65.8,468.1a1.80,1.80 0 1,0 3.60,0a1.80,1.80 0 1,0 -3.60,0zM68.0,469.1a1.80,1.80 0 1,0 3.60,0a1.80,1.80 0 1,0 -3.60,0zM70.2,468.8a1.80,1.80 0 1,0 3.60,0a1.80,1.80 0 1,0 -3.60,0zM72.4,465.9a1.80,1.80 0 1,0 3.60,0a1.80,1.80 0 1,0 -3.60,0zM74.6,464.5a1.80,1.80 0 1,0 3.60,0a1.80,1.80 0 1,0 -3.60,0zM76.8,466.0a1.80,1.80 0 1,0 3.60,0a1.80,1.80 0 1,0 -3.60,0zM79.0,466.2a1.80,1.80 0 1,0 3.60,0a1.80,1.80 0 1,0 -3.60,0zM81.2,465.1a1.80,1.80 0 1,0 3.60,0a1.80,1.80 0 1,0 -3.60,0zM83.4,462.4a1.80,1.80 0 1,0 3.60,0a1.80,1.80 0 1,0 -3.60,0zM85.6,462.4a1.80,1.80 0 1,0 3.60,0a1.80,1.80 0 1,0 -3.60,0zM87.8,463.2a1.80,1.80 0 1,0 3.60,0a1.80,1.80 0 1,0 -3.60,0zM90.0,463.5a1.80,1.80 0 1,0 3.60,0a1.80,1.80 0 1,0 -3.60,0zM92.2,462.6a1.80,1.80 0 1,0 3.60,0a1.80,1.80 0 1,0 -3.60,0zM94.4,466.9a1.80,1.80 0 1,0 3.60,0a1.80,1.80 0 1,0 -3.60,0zM96.6,470.4a1.80,1.80 0 1,0 3.60,0a1.80,1.80 0 1,0 -3.60,0zM98.8,473.3a1.80,1.80 0 1,0 3.60,0a1.80,1.80 0 1,0 -3.60,0zM101.0,470.5a1.80,1.80 0 1,0 3.60,0a1.80,1.80 0 1,0 -3.60,0zM103.2,469.9a1.80,1.80 0 1,0 3.60,0a1.80,1.80 0 1,0 -3.60,0zM105.4,470.6a1.80,1.80 0 1,0 3.60,0a1.80,1.80 0 1,0 -3.60,0zM107.6,472.8a1.80,1.80 0 1,0 3.60,0a1.80,1.80 0 1,0 -3.60,0zM109.8,472.2a1.80,1.80 0 1,0 3.60,0a1.80,1.80 0 1,0 -3.60,0zM112.0,468.8a1.80,1.80 0 1,0 3.60,0a1.80,1.80 0 1,0 -3.60,0zM114.2,467.4a1.80,1.80 0 1,0 3.60,0a1.80,1.80 0 1,0 -3.60,0zM116.4,468.1a1.80,1.80 0 1,0 3.60,0a1.80,1.80 0 1,0 -3.60,0zM118.6,470.2a1.80,1.80 0 1,0 3.60,0a1.80,1.80 0 1,0 -3.60,0zM120.8,471.5a1.80,1.80 0 1,0 3.60,0a1.80,1.80 0 1,0 -3.60,0zM123.0,470.1a1.80,1.80 0 1,0 3.60,0a1.80,1.80 0 1,0 -3.60,0zM125.2,472.9a1.80,1.80 0 1,0 3.60,0a1.80,1.80 0 1,0 -3.60,0zM127.4,474.7a1.80,1.80 0 1,0 3.60,0a1.80,1.80 0 1,0 -3.60,0zM129.6,473.8a1.80,1.80 0 1,0 3.60,0a1.80,1.80 0 1,0 -3.60,0zM131.8,472.5a1.80,1.80 0 1,0 3.60,0a1.80,1.80 0 1,0 -3.60,0zM134.0,469.5a1.80,1.80 0 1,0 3.60,0a1.80,1.80 0 1,0 -3.60,0zM136.2,470.2a1.80,1.80 0 1,0 3.60,0a1.80,1.80 0 1,0 -3.60,0zM138.4,475.3a1.80,1.80 0 1,0 3.60,0a1.80,1.80 0 1,0 -3.60,0zM140.6,475.8a1.80,1.80 0 1,0 3.60,0a1.80,1.80 0 1,0 -3.60,0zM142.8,473.9a1.80,1.80 0 1,0 3.60,0a1.80,1.80 0 1,0 -3.60,0zM145.0,477.6a1.80,1.80 0 1,0 3.60,0a1.80,1.80 0 1,0 -3.60,0zM147.2,477.6a1.80,1.80 0 1,0 3.60,0a1.80,1.80 0 1,0 -3.60,0zM149.4,476.6a1.80,1.80 0 1,0 3.60,0a1.80,1.80 0 1,0 -3.60,0zM151.5,473.3a1.80,1.80 0 1,0 3.60,0a1.80,1.80 0 1,0 -3.60,0zM153.7,471.8a1.80,1.80 0 1,0 3.60,0a1.80,1.80 0 1,0 -3.60,0zM155.9,475.3a1.80,1.80 0 1,0 3.60,0a1.80,1.80 0 1,0 -3.60,0zM158.1,478.3a1.80,1.80 0 1,0 3.60,0a1.80,1.80 0 1,0 -3.60,0zM160.3,476.4a1.80,1.80 0 1,0 3.60,0a1.80,1.80 0 1,0 -3.60,0zM162.5,475.1a1.80,1.80 0 1,0 3.60,0a1.80,1.80 0 1,0 -3.60,0zM164.7,477.7a1.80,1.80 0 1,0 3.60,0a1.80,1.80 0 1,0 -3.60,0zM166.9,479.3a1.80,1.80 0 1,0 3.60,0a1.80,1.80 0 1,0 -3.60,0zM169.1,476.7a1.80,1.80 0 1,0 3.60,0a1.80,1.80 0 1,0 -3.60,0zM171.3,476.5a1.80,1.80 0 1,0 3.60,0a1.80,1.80 0 1,0 -3.60,0zM173.5,477.3a1.80,1.80 0 1,0 3.60,0a1.80,1.80 0 1,0 -3.60,0zM175.7,479.8a1.80,1.80 0 1,0 3.60,0a1.80,1.80 0 1,0 -3.60,0zM177.9,478.8a1.80,1.80 0 1,0 3.60,0a1.80,1.80 0 1,0 -3.60,0zM180.1,477.4a1.80,1.80 0 1,0 3.60,0a1.80,1.80 0 1,0 -3.60,0zM182.3,479.2a1.80,1.80 0 1,0 3.60,0a1.80,1.80 0 1,0 -3.60,0zM184.5,480.3a1.80,1.80 0 1,0 3.60,0a1.80,1.80 0 1,0 -3.60,0zM186.7,479.6a1.80,1.80 0 1,0 3.60,0a1.80,1.80 0 1,0 -3.60,0zM188.9,474.9a1.80,1.80 0 1,0 3.60,0a1.80,1.80 0 1,0 -3.60,0zM191.1,470.6a1.80,1.80 0 1,0 3.60,0a1.80,1.80 0 1,0 -3.60,0zM193.3,470.9a1.80,1.80 0 1,0 3.60,0a1.80,1.80 0 1,0 -3.60,0zM195.5,474.5a1.80,1.80 0 1,0 3.60,0a1.80,1.80 0 1,0 -3.60,0zM197.7,476.2a1.80,1.80 0 1,0 3.60,0a1.80,1.80 0 1,0 -3.60,0zM199.9,475.3a1.80,1.80 0 1,0 3.60,0a1.80,1.80 0 1,0 -3.60,0zM202.1,475.7a1.80,1.80 0 1,0 3.60,0a1.80,1.80 0 1,0 -3.60,0zM204.3,478.8a1.80,1.80 0 1,0 3.60,0a1.80,1.80 0 1,0 -3.60,0zM206.5,477.9a1.80,1.80 0 1,0 3.60,0a1.80,1.80 0 1,0 -3.60,0zM208.7,475.2a1.80,1.80 0 1,0 3.60,0a1.80,1.80 0 1,0 -3.60,0zM210.9,473.5a1.80,1.80 0 1,0 3.60,0a1.80,1.80 0 1,0 -3.60,0zM213.1,474.9a1.80,1.80 0 1,0 3.60,0a1.80,1.80 0 1,0 -3.60,0zM215.3,476.2a1.80,1.80 0 1,0 3.60,0a1.80,1.80 0 1,0 -3.60,0zM217.5,475.7a1.80,1.80 0 1,0 3.60,0a1.80,1.80 0 1,0 -3.60,0zM219.7,475.1a1.80,1.80 0 1,0 3.60,0a1.80,1.80 0 1,0 -3.60,0zM221.9,474.6a1.80,1.80 0 1,0 3.60,0a1.80,1.80 0 1,0 -3.60,0zM224.1,477.6a1.80,1.80 0 1,0 3.60,0a1.80,1.80 0 1,0 -3.60,0zM226.3,477.7a1.80,1.80 0 1,0 3.60,0a1.80,1.80 0 1,0 -3.60,0zM228.5,474.9a1.80,1.80 0 1,0 3.60,0a1.80,1.80 0 1,0 -3.60,0zM230.7,475.3a1.80,1.80 0 1,0 3.60,0a1.80,1.80 0 1,0 -3.60,0zM232.9,478.3a1.80,1.80 0 1,0 3.60,0a1.80,1.80 0 1,0 -3.60,0zM235.1,481.3a1.80,1.80 0 1,0 3.60,0a1.80,1.80 0 1,0 -3.60,0zM237.3,479.0a1.80,1.80 0 1,0 3.60,0a1.80,1.80 0 1,0 -3.60,0zM239.5,478.8a1.80,1.80 0 1,0 3.60,0a1.80,1.80 0 1,0 -3.60,0zM241.7,481.3a1.80,1.80 0 1,0 3.60,0a1.80,1.80 0 1,0 -3.60,0zM243.9,482.2a1.80,1.80 0 1,0 3.60,0a1.80,1.80 0 1,0 -3.60,0zM246.1,481.3a1.80,1.80 0 1,0 3.60,0a1.80,1.80 0 1,0 -3.60,0zM248.3,478.9a1.80,1.80 0 1,0 3.60,0a1.80,1.80 0 1,0 -3.60,0zM250.5,478.9a1.80,1.80 0 1,0 3.60,0a1.80,1.80 0 1,0 -3.60,0zM252.7,481.6a1.80,1.80 0 1,0 3.60,0a1.80,1.80 0 1,0 -3.60,0zM254.9,479.4a1.80,1.80 0 1,0 3.60,0a1.80,1.80 0 1,0 -3.60,0z" fill="#fff" fill-opacity="0.75" stroke="#404040" stroke-width="1.0"/>
<ellipse cx="273.3" cy="492.5" rx="3.6" ry="1.6" fill="#fff" stroke="#e8704a" stroke-width="1.1"/>
<text x="281.80" y="494.70" font-size="7.7" fill="#111" textLength="25.91" lengthAdjust="spacingAndGlyphs" stroke="#111" stroke-width="0.139">Buffer</text>
<line x1="268.20" y1="507.00" x2="278.60" y2="507.00" stroke="#3a8cd0" stroke-width="0.8" />
<path d="M269.6,507.0 L273.4,505.1 L277.2,507.0 L273.4,508.9 Z" fill="#fff" stroke="#3a8cd0" stroke-width="1.0"/>
<text x="281.80" y="509.10" font-size="7.7" fill="#111" textLength="109.43" lengthAdjust="spacingAndGlyphs" stroke="#111" stroke-width="0.139">PFN Sublytic (0.1 μg/mL)</text>
<rect x="270" y="519.0" width="6.8" height="3.0" fill="#fff" stroke="#22a040" stroke-width="1.0"/>
<text x="281.80" y="523.60" font-size="7.7" fill="#111" textLength="94.93" lengthAdjust="spacingAndGlyphs" stroke="#111" stroke-width="0.139">PFN Lytic (0.5 μg/mL)</text>
<line x1="268.20" y1="536.20" x2="278.60" y2="536.20" stroke="#76482a" stroke-width="0.8" />
<path d="M269.6,536.2 L273.4,534.3000000000001 L277.2,536.2 L273.4,538.1 Z" fill="#fff" stroke="#76482a" stroke-width="1.0"/>
<text x="281.80" y="538.70" font-size="7.7" fill="#111" textLength="106.52" lengthAdjust="spacingAndGlyphs" stroke="#111" stroke-width="0.139">SLO Sublytic (12 ng/mL)</text>
<line x1="268.20" y1="551.00" x2="278.60" y2="551.00" stroke="#868686" stroke-width="0.8" />
<path d="M269.6,551.0 L273.4,549.1 L277.2,551.0 L273.4,552.9 Z" fill="#fff" stroke="#868686" stroke-width="1.0"/>
<text x="281.80" y="552.20" font-size="7.7" fill="#111" textLength="92.03" lengthAdjust="spacingAndGlyphs" stroke="#111" stroke-width="0.139">SLO Lytic (30 ng/mL)</text>
<ellipse cx="273.3" cy="564.3" rx="3.6" ry="1.6" fill="#fff" stroke="#222" stroke-width="1.1"/>
<text x="281.80" y="565.60" font-size="7.7" fill="#111" textLength="112.69" lengthAdjust="spacingAndGlyphs" stroke="#111" stroke-width="0.139">Ionomycin Sublytic (5 μM)</text>
</svg>
</body></html>
